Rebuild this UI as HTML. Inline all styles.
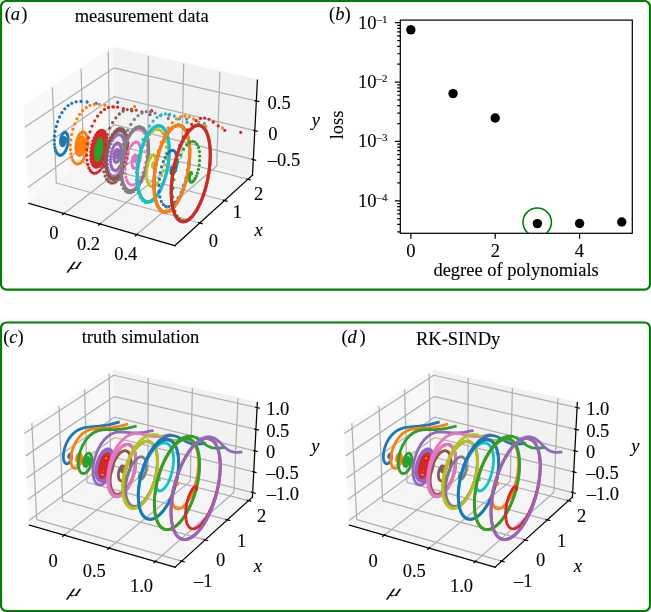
<!DOCTYPE html><html><head><meta charset="utf-8"><style>html,body{margin:0;padding:0;background:#fff;}body{width:651px;height:612px;overflow:hidden;font-family:"Liberation Serif",serif;}svg{display:block;}</style></head><body><svg width="651" height="612" viewBox="0 0 651 612"><g transform="scale(1.54)" stroke-linejoin="round" stroke-linecap="butt"><defs>  </defs> <g id="figure_1"> <g id="patch_1"> <path d="M 0 397.40  L 422.72 397.40  L 422.72 0  L 0 0  L 0 397.40  z " style="fill: none; opacity: 0"/> </g> <g id="patch_2"> <path d="M 5.96 168.92  L 174.84 168.92  L 174.84 19.51  L 5.96 19.51  L 5.96 168.92  z " style="fill: none; opacity: 0"/> </g> <g id="pane3d_1"> <g id="patch_3"> <path d="M 18.71 132.08  L 74.48 90.72  L 73.70 31.08  L 15.26 68.81  " style="fill: #f2f2f2; opacity: 0.5; stroke: #f2f2f2; stroke-linejoin: miter"/> </g> </g> <g id="pane3d_2"> <g id="patch_4"> <path d="M 74.48 90.72  L 163.97 113.73  L 167.16 52.04  L 73.70 31.08  " style="fill: #e6e6e6; opacity: 0.5; stroke: #e6e6e6; stroke-linejoin: miter"/> </g> </g> <g id="pane3d_3"> <g id="patch_5"> <path d="M 18.71 132.08  L 113.57 159.49  L 163.97 113.73  L 74.48 90.72  " style="fill: #ececec; opacity: 0.5; stroke: #ececec; stroke-linejoin: miter"/> </g> </g> <g id="grid3d_1"> <g id="Line3DCollection_1"> <path d="M 41.60 138.69  L 96.14 96.29  L 96.29 36.15  " style="fill: none; stroke: #b0b0b0; stroke-width: 0.8"/> <path d="M 64.89 145.42  L 118.14 101.95  L 119.26 41.30  " style="fill: none; stroke: #b0b0b0; stroke-width: 0.8"/> <path d="M 88.80 152.33  L 140.68 107.75  L 142.80 46.58  " style="fill: none; stroke: #b0b0b0; stroke-width: 0.8"/> </g> </g> <g id="grid3d_2"> <g id="Line3DCollection_2"> <path d="M 34.01 56.71  L 36.55 118.85  L 129.74 144.81  " style="fill: none; stroke: #b0b0b0; stroke-width: 0.8"/> <path d="M 52.65 44.67  L 54.34 105.66  L 145.82 130.21  " style="fill: none; stroke: #b0b0b0; stroke-width: 0.8"/> <path d="M 70.28 33.29  L 71.20 93.15  L 161.02 116.41  " style="fill: none; stroke: #b0b0b0; stroke-width: 0.8"/> </g> </g> <g id="grid3d_3"> <g id="Line3DCollection_3"> <path d="M 164.49 103.65  L 74.35 80.96  L 18.15 121.75  " style="fill: none; stroke: #b0b0b0; stroke-width: 0.8"/> <path d="M 165.47 84.85  L 74.12 62.77  L 17.10 102.49  " style="fill: none; stroke: #b0b0b0; stroke-width: 0.8"/> <path d="M 166.47 65.55  L 73.87 44.12  L 16.02 82.68  " style="fill: none; stroke: #b0b0b0; stroke-width: 0.8"/> </g> </g> <g id="axis3d_1"> <g id="line2d_1"> <path d="M 18.71 132.08  L 113.57 159.49  " style="fill: none; stroke: #000000; stroke-width: 0.8; stroke-linecap: square"/> </g> <g id="xtick_1"> <g id="line2d_2"> <path d="M 42.07 138.32  L 40.64 139.43  " style="fill: none; stroke: #000000; stroke-width: 0.8; stroke-linecap: square"/> </g> </g> <g id="xtick_2"> <g id="line2d_3"> <path d="M 65.35 145.04  L 63.96 146.18  " style="fill: none; stroke: #000000; stroke-width: 0.8; stroke-linecap: square"/> </g> </g> <g id="xtick_3"> <g id="line2d_4"> <path d="M 89.26 151.94  L 87.90 153.11  " style="fill: none; stroke: #000000; stroke-width: 0.8; stroke-linecap: square"/> </g> </g> </g> <g id="axis3d_2"> <g id="line2d_5"> <path d="M 163.97 113.73  L 113.57 159.49  " style="fill: none; stroke: #000000; stroke-width: 0.8; stroke-linecap: square"/> </g> <g id="xtick_4"> <g id="line2d_6"> <path d="M 128.96 144.59  L 131.32 145.25  " style="fill: none; stroke: #000000; stroke-width: 0.8; stroke-linecap: square"/> </g> </g> <g id="xtick_5"> <g id="line2d_7"> <path d="M 145.05 130.00  L 147.36 130.62  " style="fill: none; stroke: #000000; stroke-width: 0.8; stroke-linecap: square"/> </g> </g> <g id="xtick_6"> <g id="line2d_8"> <path d="M 160.27 116.22  L 162.53 116.80  " style="fill: none; stroke: #000000; stroke-width: 0.8; stroke-linecap: square"/> </g> </g> </g> <g id="axis3d_3"> <g id="line2d_9"> <path d="M 163.97 113.73  L 167.16 52.04  " style="fill: none; stroke: #000000; stroke-width: 0.8; stroke-linecap: square"/> </g> <g id="xtick_7"> <g id="line2d_10"> <path d="M 163.74 103.46  L 166.01 104.03  " style="fill: none; stroke: #000000; stroke-width: 0.8; stroke-linecap: square"/> </g> </g> <g id="xtick_8"> <g id="line2d_11"> <path d="M 164.70 84.67  L 167.00 85.23  " style="fill: none; stroke: #000000; stroke-width: 0.8; stroke-linecap: square"/> </g> </g> <g id="xtick_9"> <g id="line2d_12"> <path d="M 165.69 65.37  L 168.02 65.91  " style="fill: none; stroke: #000000; stroke-width: 0.8; stroke-linecap: square"/> </g> </g> </g> <g id="axes_1"/> <g id="patch_6"> <path d="M 6.32 377.71  L 174.76 377.71  L 174.76 229.00  L 6.32 229.00  L 6.32 377.71  z " style="fill: none; opacity: 0"/> </g> <g id="pane3d_4"> <g id="patch_7"> <path d="M 19.04 341.04  L 74.66 299.88  L 73.89 240.51  L 15.60 278.06  " style="fill: #f2f2f2; opacity: 0.5; stroke: #f2f2f2; stroke-linejoin: miter"/> </g> </g> <g id="pane3d_5"> <g id="patch_8"> <path d="M 74.66 299.88  L 163.92 322.78  L 167.11 261.37  L 73.89 240.51  " style="fill: #e6e6e6; opacity: 0.5; stroke: #e6e6e6; stroke-linejoin: miter"/> </g> </g> <g id="pane3d_6"> <g id="patch_9"> <path d="M 19.04 341.04  L 113.66 368.32  L 163.92 322.78  L 74.66 299.88  " style="fill: #ececec; opacity: 0.5; stroke: #ececec; stroke-linejoin: miter"/> </g> </g> <g id="grid3d_4"> <g id="Line3DCollection_4"> <path d="M 41.70 347.57  L 96.11 305.38  L 96.25 245.52  " style="fill: none; stroke: #b0b0b0; stroke-width: 0.8"/> <path d="M 70.79 355.96  L 123.58 312.43  L 124.93 251.93  " style="fill: none; stroke: #b0b0b0; stroke-width: 0.8"/> <path d="M 100.85 364.63  L 151.89 319.69  L 154.52 258.56  " style="fill: none; stroke: #b0b0b0; stroke-width: 0.8"/> </g> </g> <g id="grid3d_5"> <g id="Line3DCollection_5"> <path d="M 20.68 274.79  L 23.86 337.47  L 118.04 364.35  " style="fill: none; stroke: #b0b0b0; stroke-width: 0.8"/> <path d="M 38.27 263.46  L 40.62 325.06  L 133.22 350.60  " style="fill: none; stroke: #b0b0b0; stroke-width: 0.8"/> <path d="M 54.98 252.69  L 56.57 313.26  L 147.62 337.55  " style="fill: none; stroke: #b0b0b0; stroke-width: 0.8"/> <path d="M 70.87 242.46  L 71.77 302.02  L 161.32 325.14  " style="fill: none; stroke: #b0b0b0; stroke-width: 0.8"/> </g> </g> <g id="grid3d_6"> <g id="Line3DCollection_6"> <path d="M 164.07 319.87  L 74.63 297.06  L 18.87 338.06  " style="fill: none; stroke: #b0b0b0; stroke-width: 0.8"/> <path d="M 164.77 306.47  L 74.46 284.08  L 18.12 324.33  " style="fill: none; stroke: #b0b0b0; stroke-width: 0.8"/> <path d="M 165.48 292.80  L 74.28 270.87  L 17.36 310.32  " style="fill: none; stroke: #b0b0b0; stroke-width: 0.8"/> <path d="M 166.20 278.87  L 74.11 257.40  L 16.58 296.03  " style="fill: none; stroke: #b0b0b0; stroke-width: 0.8"/> <path d="M 166.94 264.65  L 73.93 243.68  L 15.78 281.43  " style="fill: none; stroke: #b0b0b0; stroke-width: 0.8"/> </g> </g> <g id="axis3d_4"> <g id="line2d_13"> <path d="M 19.04 341.04  L 113.66 368.32  " style="fill: none; stroke: #000000; stroke-width: 0.8; stroke-linecap: square"/> </g> <g id="xtick_10"> <g id="line2d_14"> <path d="M 42.17 347.21  L 40.75 348.31  " style="fill: none; stroke: #000000; stroke-width: 0.8; stroke-linecap: square"/> </g> </g> <g id="xtick_11"> <g id="line2d_15"> <path d="M 71.25 355.58  L 69.86 356.72  " style="fill: none; stroke: #000000; stroke-width: 0.8; stroke-linecap: square"/> </g> </g> <g id="xtick_12"> <g id="line2d_16"> <path d="M 101.30 364.24  L 99.96 365.42  " style="fill: none; stroke: #000000; stroke-width: 0.8; stroke-linecap: square"/> </g> </g> </g> <g id="axis3d_5"> <g id="line2d_17"> <path d="M 163.92 322.78  L 113.66 368.32  " style="fill: none; stroke: #000000; stroke-width: 0.8; stroke-linecap: square"/> </g> <g id="xtick_13"> <g id="line2d_18"> <path d="M 117.24 364.12  L 119.63 364.81  " style="fill: none; stroke: #000000; stroke-width: 0.8; stroke-linecap: square"/> </g> </g> <g id="xtick_14"> <g id="line2d_19"> <path d="M 132.44 350.38  L 134.78 351.03  " style="fill: none; stroke: #000000; stroke-width: 0.8; stroke-linecap: square"/> </g> </g> <g id="xtick_15"> <g id="line2d_20"> <path d="M 146.86 337.34  L 149.16 337.95  " style="fill: none; stroke: #000000; stroke-width: 0.8; stroke-linecap: square"/> </g> </g> <g id="xtick_16"> <g id="line2d_21"> <path d="M 160.57 324.95  L 162.82 325.53  " style="fill: none; stroke: #000000; stroke-width: 0.8; stroke-linecap: square"/> </g> </g> </g> <g id="axis3d_6"> <g id="line2d_22"> <path d="M 163.92 322.78  L 167.11 261.37  " style="fill: none; stroke: #000000; stroke-width: 0.8; stroke-linecap: square"/> </g> <g id="xtick_17"> <g id="line2d_23"> <path d="M 163.32 319.68  L 165.58 320.25  " style="fill: none; stroke: #000000; stroke-width: 0.8; stroke-linecap: square"/> </g> </g> <g id="xtick_18"> <g id="line2d_24"> <path d="M 164.01 306.28  L 166.29 306.84  " style="fill: none; stroke: #000000; stroke-width: 0.8; stroke-linecap: square"/> </g> </g> <g id="xtick_19"> <g id="line2d_25"> <path d="M 164.71 292.62  L 167.01 293.17  " style="fill: none; stroke: #000000; stroke-width: 0.8; stroke-linecap: square"/> </g> </g> <g id="xtick_20"> <g id="line2d_26"> <path d="M 165.43 278.69  L 167.75 279.23  " style="fill: none; stroke: #000000; stroke-width: 0.8; stroke-linecap: square"/> </g> </g> <g id="xtick_21"> <g id="line2d_27"> <path d="M 166.16 264.48  L 168.50 265.01  " style="fill: none; stroke: #000000; stroke-width: 0.8; stroke-linecap: square"/> </g> </g> </g> <g id="axes_2"/> <g id="patch_10"> <path d="M 214.11 377.71  L 382.55 377.71  L 382.55 229.00  L 214.11 229.00  L 214.11 377.71  z " style="fill: none; opacity: 0"/> </g> <g id="pane3d_7"> <g id="patch_11"> <path d="M 226.83 341.04  L 282.45 299.88  L 281.68 240.51  L 223.39 278.06  " style="fill: #f2f2f2; opacity: 0.5; stroke: #f2f2f2; stroke-linejoin: miter"/> </g> </g> <g id="pane3d_8"> <g id="patch_12"> <path d="M 282.45 299.88  L 371.71 322.78  L 374.90 261.37  L 281.68 240.51  " style="fill: #e6e6e6; opacity: 0.5; stroke: #e6e6e6; stroke-linejoin: miter"/> </g> </g> <g id="pane3d_9"> <g id="patch_13"> <path d="M 226.83 341.04  L 321.45 368.32  L 371.71 322.78  L 282.45 299.88  " style="fill: #ececec; opacity: 0.5; stroke: #ececec; stroke-linejoin: miter"/> </g> </g> <g id="grid3d_7"> <g id="Line3DCollection_7"> <path d="M 249.49 347.57  L 303.90 305.38  L 304.04 245.52  " style="fill: none; stroke: #b0b0b0; stroke-width: 0.8"/> <path d="M 278.58 355.96  L 331.37 312.43  L 332.72 251.93  " style="fill: none; stroke: #b0b0b0; stroke-width: 0.8"/> <path d="M 308.64 364.63  L 359.68 319.69  L 362.31 258.56  " style="fill: none; stroke: #b0b0b0; stroke-width: 0.8"/> </g> </g> <g id="grid3d_8"> <g id="Line3DCollection_8"> <path d="M 228.47 274.79  L 231.66 337.47  L 325.83 364.35  " style="fill: none; stroke: #b0b0b0; stroke-width: 0.8"/> <path d="M 246.07 263.46  L 248.42 325.06  L 341.01 350.60  " style="fill: none; stroke: #b0b0b0; stroke-width: 0.8"/> <path d="M 262.77 252.69  L 264.36 313.26  L 355.42 337.55  " style="fill: none; stroke: #b0b0b0; stroke-width: 0.8"/> <path d="M 278.66 242.46  L 279.56 302.02  L 369.11 325.14  " style="fill: none; stroke: #b0b0b0; stroke-width: 0.8"/> </g> </g> <g id="grid3d_9"> <g id="Line3DCollection_9"> <path d="M 371.87 319.87  L 282.42 297.06  L 226.67 338.06  " style="fill: none; stroke: #b0b0b0; stroke-width: 0.8"/> <path d="M 372.56 306.47  L 282.25 284.08  L 225.92 324.33  " style="fill: none; stroke: #b0b0b0; stroke-width: 0.8"/> <path d="M 373.27 292.80  L 282.08 270.87  L 225.15 310.32  " style="fill: none; stroke: #b0b0b0; stroke-width: 0.8"/> <path d="M 373.99 278.87  L 281.90 257.40  L 224.37 296.03  " style="fill: none; stroke: #b0b0b0; stroke-width: 0.8"/> <path d="M 374.73 264.65  L 281.72 243.68  L 223.58 281.43  " style="fill: none; stroke: #b0b0b0; stroke-width: 0.8"/> </g> </g> <g id="axis3d_7"> <g id="line2d_28"> <path d="M 226.83 341.04  L 321.45 368.32  " style="fill: none; stroke: #000000; stroke-width: 0.8; stroke-linecap: square"/> </g> <g id="xtick_22"> <g id="line2d_29"> <path d="M 249.96 347.21  L 248.54 348.31  " style="fill: none; stroke: #000000; stroke-width: 0.8; stroke-linecap: square"/> </g> </g> <g id="xtick_23"> <g id="line2d_30"> <path d="M 279.04 355.58  L 277.66 356.72  " style="fill: none; stroke: #000000; stroke-width: 0.8; stroke-linecap: square"/> </g> </g> <g id="xtick_24"> <g id="line2d_31"> <path d="M 309.09 364.24  L 307.75 365.42  " style="fill: none; stroke: #000000; stroke-width: 0.8; stroke-linecap: square"/> </g> </g> </g> <g id="axis3d_8"> <g id="line2d_32"> <path d="M 371.71 322.78  L 321.45 368.32  " style="fill: none; stroke: #000000; stroke-width: 0.8; stroke-linecap: square"/> </g> <g id="xtick_25"> <g id="line2d_33"> <path d="M 325.04 364.12  L 327.42 364.81  " style="fill: none; stroke: #000000; stroke-width: 0.8; stroke-linecap: square"/> </g> </g> <g id="xtick_26"> <g id="line2d_34"> <path d="M 340.23 350.38  L 342.57 351.03  " style="fill: none; stroke: #000000; stroke-width: 0.8; stroke-linecap: square"/> </g> </g> <g id="xtick_27"> <g id="line2d_35"> <path d="M 354.65 337.34  L 356.95 337.95  " style="fill: none; stroke: #000000; stroke-width: 0.8; stroke-linecap: square"/> </g> </g> <g id="xtick_28"> <g id="line2d_36"> <path d="M 368.36 324.95  L 370.62 325.53  " style="fill: none; stroke: #000000; stroke-width: 0.8; stroke-linecap: square"/> </g> </g> </g> <g id="axis3d_9"> <g id="line2d_37"> <path d="M 371.71 322.78  L 374.90 261.37  " style="fill: none; stroke: #000000; stroke-width: 0.8; stroke-linecap: square"/> </g> <g id="xtick_29"> <g id="line2d_38"> <path d="M 371.11 319.68  L 373.37 320.25  " style="fill: none; stroke: #000000; stroke-width: 0.8; stroke-linecap: square"/> </g> </g> <g id="xtick_30"> <g id="line2d_39"> <path d="M 371.80 306.28  L 374.08 306.84  " style="fill: none; stroke: #000000; stroke-width: 0.8; stroke-linecap: square"/> </g> </g> <g id="xtick_31"> <g id="line2d_40"> <path d="M 372.50 292.62  L 374.80 293.17  " style="fill: none; stroke: #000000; stroke-width: 0.8; stroke-linecap: square"/> </g> </g> <g id="xtick_32"> <g id="line2d_41"> <path d="M 373.22 278.69  L 375.54 279.23  " style="fill: none; stroke: #000000; stroke-width: 0.8; stroke-linecap: square"/> </g> </g> <g id="xtick_33"> <g id="line2d_42"> <path d="M 373.95 264.48  L 376.30 265.01  " style="fill: none; stroke: #000000; stroke-width: 0.8; stroke-linecap: square"/> </g> </g> </g> <g id="axes_3"/> </g> </g><g fill="none" stroke-width="3.3" stroke-linecap="round"><path d="M117.7 102.4h0M96.1 103.3h0M87.1 102.0h0M81.0 101.4h0M76.1 101.8h0M71.8 103.3h0M68.1 105.6h0M64.8 108.8h0M62.0 112.6h0M59.6 117.0h0M57.7 121.7h0M56.2 126.5h0M55.1 131.3h0M54.5 136.0h0M54.3 140.3h0M54.4 144.3h0M54.9 147.7h0M55.7 150.5h0M56.7 152.6h0M57.9 154.1h0M59.2 155.0h0M60.6 155.2h0M61.9 154.8h0M63.2 153.9h0M64.4 152.6h0M65.5 150.9h0M66.4 148.9h0M67.2 146.8h0M67.7 144.5h0M68.0 142.3h0M68.2 140.1h0M68.1 138.1h0M67.9 136.4h0M67.5 134.9h0M66.9 133.8h0M66.3 132.9h0M65.6 132.5h0M64.9 132.4h0M64.1 132.6h0M63.4 133.1h0M62.7 133.9h0M62.1 134.9h0M61.6 136.1h0M61.1 137.4h0M60.9 138.7h0M60.7 140.0h0M60.6 141.2h0M60.7 142.4h0M60.9 143.4h0M61.1 144.2h0M61.5 144.9h0M61.8 145.3h0M62.3 145.5h0M62.7 145.5h0M63.2 145.4h0M63.6 145.0h0M64.0 144.5h0M64.4 143.8h0M64.7 143.1h0M64.9 142.3h0M65.1 141.5h0M65.1 140.8h0M65.2 140.0h0M65.1 139.3h0M65.0 138.7h0M64.8 138.2h0M64.6 137.9h0M64.4 137.7h0M64.1 137.6h0M63.8 137.6h0M63.5 137.7h0M63.3 138.0h0M63.0 138.3h0M62.8 138.7h0M62.6 139.2h0M62.5 139.7h0M62.4 140.2h0M62.4 140.7h0M62.4 141.1h0M62.4 141.5h0M62.5 141.9h0M62.6 142.1h0M62.8 142.3h0M62.9 142.5h0M63.1 142.5h0M63.3 142.5h0M63.4 142.4h0M63.6 142.2h0M63.7 142.0h0M63.9 141.7h0M64.0 141.4h0M64.0 141.1h0M64.1 140.8h0M64.1 140.5h0M64.1 140.2h0M64.1 140.0h0M64.0 139.8h0M63.9 139.6h0M63.8 139.5h0M63.7 139.4h0M63.6 139.4h0M63.5 139.5h0M63.4 139.5h0M63.3 139.7h0M63.2 139.8h0M63.2 140.0h0M63.1 140.2h0M63.1 140.4h0M63.0 140.5h0M63.0 140.7h0M63.0 140.9h0M63.1 141.0h0M63.1 141.2h0M63.2 141.3h0M63.2 141.3h0M63.3 141.3h0M63.3 141.3h0M63.4 141.3h0M63.5 141.3h0M63.5 141.2h0M63.6 141.1h0M63.6 141.0h0M63.7 140.8h0M63.7 140.7h0M63.7 140.6h0M63.7 140.5h0M63.7 140.4h0M63.7 140.3h0M63.6 140.2h0M63.6 140.2h0M63.6 140.2h0M63.5 140.1h0M63.5 140.2h0M63.5 140.2h0M63.4 140.2h0M63.4 140.3h0M63.3 140.3h0M63.3 140.4h0M63.3 140.5h0M63.3 140.6h0M63.3 140.6h0M63.3 140.7h0M63.3 140.8h0M63.3 140.8h0M63.3 140.8h0M63.3 140.9h0M63.4 140.9h0M63.4 140.9h0M63.4 140.9h0M63.4 140.9h0M63.5 140.8h0M63.5 140.8h0M63.5 140.8h0M63.5 140.7h0M63.5 140.7h0M63.5 140.6h0M63.5 140.6h0M63.5 140.5h0M63.5 140.5h0M63.5 140.5h0M63.5 140.5h0M63.5 140.4h0M63.5 140.4h0M63.5 140.4h0M63.5 140.4h0M63.4 140.4h0M63.4 140.5h0M63.4 140.5h0M63.4 140.5h0M63.4 140.5h0M63.4 140.6h0M63.4 140.6h0M63.4 140.6h0M63.4 140.7h0M63.4 140.7h0M63.4 140.7h0M63.4 140.7h0M63.4 140.7h0M63.4 140.7h0M63.4 140.7h0M63.4 140.7h0M63.5 140.7h0M63.5 140.7h0M63.5 140.7h0M63.5 140.7h0M63.5 140.6h0M63.5 140.6h0M63.5 140.6h0M63.5 140.6h0M63.5 140.6h0M63.5 140.6h0M63.5 140.6h0M63.5 140.5h0M63.5 140.5h0M63.5 140.5h0M63.5 140.5h0M63.4 140.5h0M63.4 140.5h0M63.4 140.6h0M63.4 140.6h0M63.4 140.6h0M63.4 140.6h0M63.4 140.6h0M63.4 140.6h0M63.4 140.6h0M63.4 140.6h0M63.4 140.6h0M63.4 140.6h0M63.4 140.6h0M63.4 140.7h0M63.4 140.7h0M63.4 140.6h0M63.4 140.6h0M63.4 140.6h0M63.5 140.6h0M63.5 140.6h0M63.5 140.6h0M63.5 140.6h0M63.5 140.6h0M63.5 140.6h0M63.5 140.6h0M63.5 140.6h0M63.5 140.6h0M63.5 140.6h0M63.5 140.6h0M63.5 140.6h0M63.4 140.6h0M63.4 140.6h0M63.4 140.6h0M63.4 140.6h0M63.4 140.6h0M63.4 140.6h0M63.4 140.6h0M63.4 140.6h0M63.4 140.6h0M63.4 140.6h0M63.4 140.6h0M63.4 140.6h0M63.4 140.6h0M63.4 140.6h0M63.4 140.6h0M63.4 140.6h0M63.4 140.6h0M63.4 140.6h0M63.4 140.6h0M63.4 140.6h0M63.4 140.6h0M63.4 140.6h0M63.4 140.6h0M63.5 140.6h0M63.5 140.6h0M63.5 140.6h0M63.5 140.6h0M63.4 140.6h0M63.4 140.6h0M63.4 140.6h0M63.4 140.6h0M63.4 140.6h0M63.4 140.6h0M63.4 140.6h0M63.4 140.6h0M63.4 140.6h0M63.4 140.6h0M63.4 140.6h0M63.4 140.6h0M63.4 140.6h0M63.4 140.6h0M63.4 140.6h0M63.4 140.6h0M63.4 140.6h0M63.4 140.6h0M63.4 140.6h0M63.4 140.6h0M63.4 140.6h0M63.4 140.6h0M63.4 140.6h0M63.4 140.6h0M63.4 140.6h0M63.4 140.6h0M63.4 140.6h0M63.4 140.6h0M63.4 140.6h0M63.4 140.6h0M63.4 140.6h0M63.4 140.6h0M63.4 140.6h0M63.4 140.6h0M63.4 140.6h0M63.4 140.6h0M63.4 140.6h0M63.4 140.6h0M63.4 140.6h0M63.4 140.6h0M63.4 140.6h0M63.4 140.6h0M63.4 140.6h0M63.4 140.6h0M63.4 140.6h0M63.4 140.6h0M63.4 140.6h0M63.4 140.6h0M63.4 140.6h0M63.4 140.6h0M63.4 140.6h0M63.4 140.6h0M63.4 140.6h0M63.4 140.6h0M63.4 140.6h0M63.4 140.6h0M63.4 140.6h0M63.4 140.6h0M63.4 140.6h0M63.4 140.6h0M63.4 140.6h0M63.4 140.6h0M63.4 140.6h0M63.4 140.6h0M63.4 140.6h0M63.4 140.6h0M63.4 140.6h0M63.4 140.6h0M63.4 140.6h0M63.4 140.6h0M63.4 140.6h0M63.4 140.6h0M63.4 140.6h0M63.4 140.6h0M63.4 140.6h0M63.4 140.6h0M63.4 140.6h0M63.4 140.6h0M63.4 140.6h0M63.4 140.6h0M63.4 140.6h0M63.4 140.6h0M63.4 140.6h0M63.4 140.6h0M63.4 140.6h0M63.4 140.6h0M63.4 140.6h0M63.4 140.6h0M63.4 140.6h0M63.4 140.6h0M63.4 140.6h0M63.4 140.6h0M63.4 140.6h0M63.4 140.6h0M63.4 140.6h0M63.4 140.6h0M63.4 140.6h0M63.4 140.6h0M63.4 140.6h0M63.4 140.6h0M63.4 140.6h0M63.4 140.6h0M63.4 140.6h0M63.4 140.6h0M63.4 140.6h0M63.4 140.6h0M63.4 140.6h0M63.4 140.6h0M63.4 140.6h0M63.4 140.6h0M63.4 140.6h0M63.4 140.6h0M63.4 140.6h0M63.4 140.6h0M63.4 140.6h0M63.4 140.6h0M63.4 140.6h0M63.4 140.6h0M63.4 140.6h0M63.4 140.6h0M63.4 140.6h0M63.4 140.6h0M63.4 140.6h0" stroke="#1f77b4"/><path d="M134.6 106.5h0M113.9 107.0h0M105.1 105.3h0M99.2 104.3h0M94.3 104.3h0M90.0 105.4h0M86.2 107.5h0M82.7 110.6h0M79.7 114.4h0M77.0 118.9h0M74.8 123.9h0M73.0 129.2h0M71.6 134.6h0M70.8 139.9h0M70.4 145.0h0M70.4 149.6h0M70.9 153.8h0M71.7 157.3h0M72.7 160.1h0M74.1 162.2h0M75.6 163.5h0M77.2 164.0h0M78.9 163.7h0M80.6 162.8h0M82.2 161.2h0M83.6 159.1h0M84.9 156.6h0M86.0 153.7h0M86.8 150.7h0M87.4 147.6h0M87.7 144.5h0M87.7 141.6h0M87.5 138.9h0M87.0 136.6h0M86.3 134.7h0M85.4 133.3h0M84.4 132.4h0M83.3 132.0h0M82.1 132.2h0M81.0 132.8h0M79.8 134.0h0M78.8 135.5h0M77.8 137.4h0M77.1 139.5h0M76.5 141.8h0M76.1 144.1h0M75.9 146.4h0M75.9 148.6h0M76.2 150.6h0M76.6 152.2h0M77.1 153.6h0M77.8 154.6h0M78.6 155.1h0M79.5 155.3h0M80.4 155.1h0M81.3 154.5h0M82.1 153.5h0M82.9 152.3h0M83.6 150.8h0M84.2 149.1h0M84.6 147.3h0M84.9 145.5h0M85.0 143.8h0M84.9 142.1h0M84.7 140.6h0M84.4 139.3h0M83.9 138.3h0M83.3 137.6h0M82.7 137.2h0M82.0 137.1h0M81.3 137.4h0M80.6 137.9h0M79.9 138.7h0M79.3 139.8h0M78.7 141.1h0M78.3 142.4h0M78.0 143.9h0M77.8 145.4h0M77.7 146.8h0M77.8 148.1h0M78.0 149.3h0M78.3 150.3h0M78.7 151.1h0M79.2 151.6h0M79.8 151.8h0M80.3 151.8h0M80.9 151.5h0M81.5 151.0h0M82.1 150.2h0M82.5 149.3h0M83.0 148.3h0M83.3 147.1h0M83.5 145.9h0M83.6 144.7h0M83.7 143.6h0M83.6 142.5h0M83.4 141.6h0M83.1 140.8h0M82.7 140.2h0M82.3 139.9h0M81.9 139.7h0M81.4 139.8h0M80.9 140.1h0M80.4 140.5h0M80.0 141.2h0M79.6 142.0h0M79.3 142.9h0M79.0 143.9h0M78.8 144.9h0M78.8 145.9h0M78.8 146.9h0M78.9 147.7h0M79.0 148.5h0M79.3 149.1h0M79.6 149.5h0M80.0 149.7h0M80.4 149.8h0M80.8 149.7h0M81.2 149.4h0M81.6 149.0h0M81.9 148.4h0M82.3 147.7h0M82.5 146.9h0M82.7 146.1h0M82.8 145.2h0M82.9 144.4h0M82.8 143.6h0M82.7 142.9h0M82.6 142.3h0M82.3 141.8h0M82.1 141.5h0M81.7 141.4h0M81.4 141.3h0M81.1 141.5h0M80.7 141.8h0M80.4 142.2h0M80.1 142.7h0M79.8 143.3h0M79.6 144.0h0M79.5 144.7h0M79.4 145.4h0M79.4 146.1h0M79.4 146.7h0M79.5 147.3h0M79.7 147.8h0M79.9 148.1h0M80.2 148.4h0M80.4 148.5h0M80.7 148.5h0M81.0 148.3h0M81.3 148.0h0M81.6 147.7h0M81.8 147.2h0M82.0 146.7h0M82.2 146.1h0M82.3 145.5h0M82.3 144.9h0M82.3 144.3h0M82.3 143.8h0M82.2 143.3h0M82.0 142.9h0M81.8 142.6h0M81.6 142.5h0M81.4 142.4h0M81.1 142.5h0M80.9 142.6h0M80.7 142.9h0M80.4 143.2h0M80.2 143.7h0M80.1 144.1h0M80.0 144.6h0M79.9 145.1h0M79.8 145.6h0M79.9 146.1h0M79.9 146.6h0M80.0 146.9h0M80.1 147.2h0M80.3 147.4h0M80.5 147.6h0M80.7 147.6h0M80.9 147.5h0M81.1 147.3h0M81.3 147.1h0M81.5 146.8h0M81.7 146.4h0M81.8 146.0h0M81.9 145.6h0M81.9 145.1h0M82.0 144.7h0M81.9 144.3h0M81.9 144.0h0M81.8 143.7h0M81.7 143.4h0M81.5 143.3h0M81.4 143.2h0M81.2 143.2h0M81.0 143.3h0M80.8 143.4h0M80.7 143.7h0M80.5 144.0h0M80.4 144.3h0M80.3 144.6h0M80.2 145.0h0M80.2 145.4h0M80.2 145.7h0M80.2 146.1h0M80.2 146.4h0M80.3 146.6h0M80.4 146.8h0M80.6 146.9h0M80.7 146.9h0M80.9 146.9h0M81.0 146.8h0M81.2 146.7h0M81.3 146.5h0M81.4 146.2h0M81.5 145.9h0M81.6 145.6h0M81.7 145.3h0M81.7 145.0h0M81.7 144.7h0M81.7 144.4h0M81.6 144.2h0M81.5 144.0h0M81.4 143.8h0M81.3 143.8h0M81.2 143.7h0M81.1 143.8h0M80.9 143.9h0M80.8 144.0h0M80.7 144.2h0M80.6 144.4h0M80.5 144.7h0M80.4 144.9h0M80.4 145.2h0M80.4 145.5h0M80.4 145.7h0M80.4 146.0h0M80.5 146.1h0M80.6 146.3h0M80.6 146.4h0M80.8 146.5h0M80.9 146.5h0M81.0 146.4h0M81.1 146.3h0M81.2 146.2h0M81.3 146.0h0M81.4 145.8h0M81.4 145.6h0M81.5 145.4h0M81.5 145.1h0M81.5 144.9h0M81.5 144.7h0M81.5 144.5h0M81.4 144.4h0M81.3 144.3h0M81.3 144.2h0M81.2 144.1h0M81.1 144.2h0M81.0 144.2h0M80.9 144.3h0M80.8 144.4h0M80.7 144.6h0M80.7 144.7h0M80.6 144.9h0M80.6 145.1h0M80.6 145.3h0M80.6 145.5h0M80.6 145.7h0M80.6 145.8h0M80.7 146.0h0M80.7 146.0h0M80.8 146.1h0M80.9 146.1h0M80.9 146.1h0M81.0 146.0h0M81.1 146.0h0M81.2 145.8h0M81.2 145.7h0M81.3 145.6h0M81.3 145.4h0M81.4 145.2h0M81.4 145.1h0M81.4 144.9h0M81.3 144.8h0M81.3 144.6h0M81.3 144.5h0M81.2 144.5h0M81.1 144.4h0M81.1 144.4h0M81.0 144.5h0M80.9 144.5h0M80.9 144.6h0M80.8 144.7h0M80.8 144.8h0M80.7 145.0h0M80.7 145.1h0M80.7 145.2h0M80.7 145.4h0M80.7 145.5h0M80.7 145.6h0M80.7 145.7h0M80.8 145.8h0M80.8 145.8h0M80.9 145.9h0M80.9 145.9h0M81.0 145.8h0M81.0 145.8h0M81.1 145.7h0M81.2 145.6h0M81.2 145.5h0M81.2 145.4h0M81.2 145.3h0M81.3 145.1h0M81.3 145.0h0M81.3 144.9h0M81.2 144.8h0M81.2 144.7h0M81.2 144.7h0M81.1 144.7h0M81.1 144.6h0M81.0 144.6h0M81.0 144.7h0M80.9 144.7h0M80.9 144.8h0M80.8 144.9h0M80.8 145.0h0M80.8 145.1h0M80.8 145.2h0M80.8 145.3h0M80.8 145.4h0M80.8 145.5h0M80.8 145.6h0M80.8 145.6h0M80.8 145.7h0M80.9 145.7h0M80.9 145.7h0M81.0 145.7h0M81.0 145.6h0M81.1 145.6h0M81.1 145.5h0M81.1 145.5h0M81.2 145.4h0M81.2 145.3h0M81.2 145.2h0M81.2 145.1h0M81.2 145.0h0M81.2 145.0h0M81.2 144.9h0M81.1 144.8h0M81.1 144.8h0M81.1 144.8h0M81.0 144.8h0M81.0 144.8h0M81.0 144.8h0M80.9 144.9h0M80.9 144.9h0M80.9 145.0h0M80.8 145.1h0M80.8 145.2h0M80.8 145.2h0M80.8 145.3h0M80.8 145.4h0M80.8 145.4h0M80.9 145.5h0M80.9 145.5h0M80.9 145.6h0M80.9 145.6h0M81.0 145.6h0M81.0 145.5h0M81.0 145.5h0M81.1 145.5h0M81.1 145.4h0M81.1 145.4h0M81.1 145.3h0M81.1 145.2h0" stroke="#ff7f0e"/><path d="M99.0 149.7h0M99.0 149.5h0M99.0 149.4h0M99.0 149.3h0M99.0 149.3h0M98.9 149.2h0M98.9 149.2h0M98.8 149.2h0M98.7 149.2h0M98.7 149.3h0M98.6 149.4h0M98.6 149.5h0M98.5 149.6h0M98.5 149.7h0M98.5 149.9h0M98.4 150.0h0M98.4 150.2h0M98.4 150.3h0M98.5 150.4h0M98.5 150.5h0M98.5 150.6h0M98.6 150.6h0M98.7 150.7h0M98.7 150.6h0M98.8 150.6h0M98.9 150.5h0M98.9 150.4h0M99.0 150.3h0M99.1 150.2h0M99.1 150.0h0M99.1 149.8h0M99.1 149.7h0M99.1 149.5h0M99.1 149.3h0M99.1 149.2h0M99.0 149.1h0M99.0 149.0h0M98.9 149.0h0M98.8 148.9h0M98.8 149.0h0M98.7 149.0h0M98.6 149.1h0M98.5 149.3h0M98.5 149.4h0M98.4 149.6h0M98.4 149.8h0M98.3 150.0h0M98.3 150.2h0M98.3 150.4h0M98.3 150.5h0M98.4 150.7h0M98.4 150.8h0M98.5 150.9h0M98.6 150.9h0M98.7 150.9h0M98.8 150.9h0M98.9 150.8h0M99.0 150.7h0M99.1 150.5h0M99.1 150.3h0M99.2 150.1h0M99.2 149.9h0M99.3 149.7h0M99.3 149.4h0M99.3 149.2h0M99.2 149.0h0M99.2 148.9h0M99.1 148.7h0M99.0 148.7h0M98.9 148.6h0M98.8 148.6h0M98.7 148.7h0M98.6 148.8h0M98.5 149.0h0M98.4 149.2h0M98.3 149.4h0M98.2 149.6h0M98.2 149.9h0M98.2 150.2h0M98.2 150.4h0M98.2 150.7h0M98.2 150.9h0M98.3 151.1h0M98.4 151.2h0M98.5 151.3h0M98.6 151.3h0M98.7 151.3h0M98.9 151.2h0M99.0 151.1h0M99.1 150.9h0M99.2 150.6h0M99.3 150.4h0M99.4 150.1h0M99.5 149.7h0M99.5 149.4h0M99.5 149.1h0M99.4 148.8h0M99.4 148.6h0M99.3 148.4h0M99.2 148.2h0M99.0 148.2h0M98.9 148.2h0M98.7 148.2h0M98.6 148.3h0M98.4 148.5h0M98.3 148.8h0M98.2 149.1h0M98.1 149.4h0M98.0 149.8h0M97.9 150.1h0M97.9 150.5h0M97.9 150.9h0M98.0 151.2h0M98.1 151.4h0M98.2 151.7h0M98.3 151.8h0M98.5 151.9h0M98.7 151.9h0M98.8 151.8h0M99.0 151.6h0M99.2 151.4h0M99.3 151.1h0M99.5 150.7h0M99.6 150.3h0M99.7 149.9h0M99.7 149.4h0M99.7 149.0h0M99.7 148.6h0M99.6 148.3h0M99.5 148.0h0M99.4 147.7h0M99.2 147.6h0M99.0 147.5h0M98.8 147.6h0M98.6 147.7h0M98.4 147.9h0M98.2 148.2h0M98.0 148.6h0M97.9 149.0h0M97.8 149.5h0M97.7 150.0h0M97.6 150.5h0M97.6 151.0h0M97.7 151.5h0M97.8 151.9h0M97.9 152.2h0M98.1 152.4h0M98.3 152.6h0M98.5 152.6h0M98.8 152.5h0M99.0 152.3h0M99.2 152.0h0M99.5 151.7h0M99.7 151.2h0M99.8 150.7h0M100.0 150.1h0M100.0 149.5h0M100.1 148.9h0M100.1 148.4h0M100.0 147.9h0M99.9 147.4h0M99.7 147.1h0M99.5 146.8h0M99.2 146.7h0M99.0 146.7h0M98.7 146.8h0M98.4 147.1h0M98.1 147.5h0M97.9 147.9h0M97.6 148.5h0M97.5 149.1h0M97.3 149.8h0M97.2 150.5h0M97.2 151.1h0M97.3 151.8h0M97.4 152.3h0M97.5 152.8h0M97.8 153.2h0M98.0 153.4h0M98.3 153.5h0M98.6 153.5h0M99.0 153.3h0M99.3 153.0h0M99.6 152.5h0M99.9 151.9h0M100.1 151.2h0M100.3 150.5h0M100.4 149.7h0M100.5 148.9h0M100.5 148.2h0M100.5 147.5h0M100.3 146.8h0M100.1 146.3h0M99.8 145.9h0M99.5 145.7h0M99.2 145.6h0M98.8 145.7h0M98.4 146.0h0M98.1 146.4h0M97.7 147.0h0M97.4 147.7h0M97.1 148.5h0M96.9 149.4h0M96.8 150.3h0M96.7 151.2h0M96.7 152.1h0M96.8 152.9h0M97.0 153.6h0M97.3 154.1h0M97.6 154.5h0M98.0 154.7h0M98.4 154.7h0M98.8 154.5h0M99.3 154.2h0M99.7 153.6h0M100.1 152.9h0M100.4 152.1h0M100.7 151.1h0M100.9 150.1h0M101.1 149.1h0M101.1 148.1h0M101.0 147.1h0M100.9 146.2h0M100.7 145.4h0M100.3 144.9h0M100.0 144.5h0M99.5 144.3h0M99.0 144.3h0M98.5 144.6h0M98.0 145.1h0M97.6 145.8h0M97.1 146.6h0M96.7 147.6h0M96.4 148.8h0M96.2 149.9h0M96.1 151.1h0M96.1 152.3h0M96.2 153.4h0M96.4 154.3h0M96.7 155.1h0M97.1 155.7h0M97.5 156.1h0M98.1 156.2h0M98.6 156.1h0M99.2 155.7h0M99.7 155.1h0M100.3 154.2h0M100.7 153.2h0M101.2 152.0h0M101.5 150.7h0M101.7 149.4h0M101.8 148.1h0M101.8 146.8h0M101.6 145.6h0M101.3 144.6h0M101.0 143.7h0M100.5 143.1h0M100.0 142.8h0M99.4 142.7h0M98.7 142.9h0M98.1 143.4h0M97.5 144.2h0M96.9 145.2h0M96.4 146.5h0M95.9 147.8h0M95.6 149.3h0M95.4 150.8h0M95.3 152.3h0M95.4 153.8h0M95.6 155.1h0M96.0 156.1h0M96.4 157.0h0M97.0 157.6h0M97.6 157.8h0M98.3 157.8h0M99.0 157.4h0M99.7 156.8h0M100.4 155.8h0M101.0 154.6h0M101.6 153.2h0M102.0 151.6h0M102.3 150.0h0M102.5 148.3h0M102.5 146.7h0M102.4 145.1h0M102.1 143.8h0M101.7 142.6h0M101.2 141.8h0M100.6 141.2h0M99.8 141.0h0M99.1 141.1h0M98.3 141.6h0M97.5 142.5h0M96.7 143.6h0M96.1 145.0h0M95.5 146.6h0M95.0 148.4h0M94.7 150.3h0M94.6 152.1h0M94.6 153.9h0M94.8 155.6h0M95.2 157.0h0M95.7 158.1h0M96.3 159.0h0M97.0 159.4h0M97.8 159.5h0M98.7 159.2h0M99.5 158.6h0M100.4 157.5h0M101.2 156.2h0M101.9 154.6h0M102.4 152.8h0M102.9 150.8h0M103.1 148.8h0M103.2 146.9h0M103.2 145.0h0M102.9 143.3h0M102.5 141.8h0M101.9 140.6h0M101.2 139.8h0M100.4 139.4h0M99.5 139.4h0M98.6 139.9h0M97.6 140.7h0M96.7 141.9h0M95.9 143.5h0M95.2 145.3h0M94.6 147.3h0M94.2 149.4h0M94.0 151.6h0M93.9 153.7h0M94.1 155.7h0M94.4 157.5h0M94.9 158.9h0M95.6 160.0h0M96.4 160.7h0M97.3 161.0h0M98.3 160.8h0M99.3 160.2h0M100.2 159.2h0M101.2 157.8h0M102.0 156.1h0M102.7 154.1h0M103.3 151.9h0M103.6 149.7h0M103.8 147.4h0M103.8 145.2h0M103.6 143.2h0M103.2 141.4h0M102.6 139.9h0M101.9 138.9h0M101.0 138.2h0M100.0 138.1h0M99.0 138.4h0M97.9 139.1h0M96.9 140.3h0M95.9 141.9h0M95.1 143.9h0M94.4 146.0h0M93.8 148.4h0M93.5 150.8h0M93.4 153.2h0M93.5 155.5h0M93.8 157.5h0M94.3 159.3h0M94.9 160.6h0M95.8 161.6h0M96.7 162.1h0M97.8 162.1h0M98.8 161.6h0M99.9 160.6h0M101.0 159.2h0M101.9 157.5h0M102.8 155.4h0M103.4 153.1h0M103.9 150.7h0" stroke="#2ca02c"/><path d="M151.7 110.7h0M131.8 110.8h0M123.4 108.7h0M117.6 107.2h0M112.8 106.8h0M108.5 107.5h0M104.5 109.4h0M100.9 112.3h0M97.6 116.1h0M94.7 120.8h0M92.1 126.1h0M90.0 131.8h0M88.4 137.8h0M87.3 143.8h0M86.7 149.7h0M86.6 155.2h0M86.9 160.1h0M87.7 164.5h0M88.9 168.0h0M90.3 170.7h0M92.1 172.4h0M94.0 173.3h0M96.0 173.1h0M98.1 172.1h0M100.1 170.3h0M101.9 167.8h0M103.6 164.7h0M105.1 161.0h0M106.3 157.1h0M107.1 153.0h0M107.7 148.8h0M107.8 144.8h0M107.6 141.0h0M107.1 137.7h0M106.2 134.9h0M105.1 132.7h0M103.8 131.2h0M102.2 130.5h0M100.6 130.5h0M98.8 131.4h0M97.2 132.9h0M95.6 135.1h0M94.1 137.8h0M92.9 141.0h0M91.9 144.5h0M91.2 148.2h0M90.8 151.9h0M90.7 155.4h0M91.0 158.7h0M91.5 161.5h0M92.3 163.9h0M93.4 165.6h0M94.7 166.8h0M96.1 167.2h0M97.6 166.9h0M99.1 166.0h0M100.6 164.5h0M102.0 162.4h0M103.3 159.8h0M104.3 156.9h0M105.2 153.7h0M105.8 150.4h0M106.1 147.1h0M106.1 143.9h0M105.8 141.0h0M105.2 138.4h0M104.4 136.3h0M103.4 134.8h0M102.2 133.8h0M100.9 133.5h0M99.4 133.8h0M98.0 134.8h0M96.6 136.4h0M95.3 138.5h0M94.1 141.1h0M93.1 144.0h0M92.4 147.1h0M91.9 150.3h0M91.7 153.5h0M91.8 156.5h0M92.1 159.2h0M92.7 161.5h0M93.6 163.3h0M94.6 164.6h0M95.8 165.3h0M97.2 165.4h0M98.5 164.9h0M99.9 163.7h0M101.2 162.1h0M102.4 159.9h0M103.5 157.4h0M104.3 154.6h0M105.0 151.6h0M105.4 148.6h0M105.5 145.6h0M105.4 142.8h0M105.0 140.2h0M104.4 138.1h0M103.5 136.4h0M102.4 135.3h0M101.2 134.7h0M99.9 134.7h0M98.6 135.4h0M97.3 136.6h0M96.0 138.4h0M94.8 140.6h0M93.8 143.2h0M93.0 146.0h0M92.4 149.0h0M92.1 152.0h0M92.1 154.9h0M92.3 157.6h0M92.8 160.0h0M93.5 162.0h0M94.4 163.4h0M95.5 164.3h0M96.7 164.7h0M98.0 164.4h0M99.3 163.6h0M100.6 162.2h0M101.8 160.4h0M102.9 158.1h0M103.8 155.6h0M104.5 152.8h0M105.0 149.9h0M105.2 146.9h0M105.2 144.2h0M104.9 141.6h0M104.4 139.3h0M103.7 137.5h0M102.8 136.2h0M101.7 135.4h0M100.4 135.2h0M99.2 135.5h0M97.8 136.5h0M96.6 138.0h0M95.4 139.9h0M94.4 142.3h0M93.5 145.0h0M92.8 147.8h0M92.4 150.7h0M92.3 153.6h0M92.4 156.4h0M92.7 158.8h0M93.3 160.9h0M94.1 162.6h0M95.1 163.7h0M96.3 164.3h0M97.5 164.3h0M98.8 163.7h0M100.0 162.6h0M101.2 161.0h0M102.3 158.9h0M103.3 156.5h0M104.1 153.9h0M104.7 151.0h0M105.0 148.2h0M105.1 145.4h0M105.0 142.8h0M104.6 140.4h0M103.9 138.4h0M103.1 136.9h0M102.1 135.9h0M100.9 135.4h0M99.7 135.5h0M98.4 136.2h0M97.1 137.5h0M95.9 139.2h0M94.8 141.4h0M93.9 143.9h0M93.2 146.7h0M92.7 149.5h0M92.4 152.4h0M92.4 155.2h0M92.6 157.7h0M93.1 160.0h0M93.8 161.8h0M94.7 163.1h0M95.8 163.9h0M97.0 164.1h0M98.2 163.8h0M99.5 162.9h0M100.7 161.6h0M101.9 159.7h0M102.9 157.5h0M103.7 154.9h0M104.4 152.2h0M104.8 149.4h0M105.0 146.6h0M105.0 143.9h0M104.7 141.4h0M104.2 139.3h0M103.4 137.6h0M102.5 136.4h0M101.4 135.7h0M100.2 135.6h0M98.9 136.0h0M97.7 137.0h0M96.4 138.5h0M95.3 140.5h0M94.3 142.9h0M93.5 145.5h0M92.9 148.3h0M92.5 151.2h0M92.4 154.0h0M92.5 156.7h0M92.9 159.0h0M93.5 161.0h0M94.4 162.5h0M95.4 163.5h0M96.5 164.0h0M97.7 163.9h0M99.0 163.3h0M100.2 162.1h0M101.4 160.5h0M102.5 158.4h0M103.4 156.0h0M104.1 153.3h0M104.7 150.6h0M105.0 147.7h0M105.0 145.0h0M104.8 142.5h0M104.4 140.2h0M103.7 138.3h0M102.9 136.9h0M101.8 136.0h0M100.7 135.6h0M99.5 135.8h0M98.2 136.6h0M96.9 137.9h0M95.8 139.7h0M94.7 141.9h0M93.8 144.4h0M93.1 147.2h0M92.7 150.0h0M92.4 152.9h0M92.5 155.6h0M92.8 158.0h0M93.3 160.2h0M94.0 161.9h0M95.0 163.1h0M96.0 163.8h0M97.2 164.0h0M98.4 163.6h0M99.7 162.6h0M100.9 161.2h0M102.0 159.3h0M103.0 157.0h0M103.8 154.4h0M104.5 151.7h0M104.8 148.9h0M105.0 146.1h0M104.9 143.5h0M104.6 141.1h0M104.0 139.1h0M103.2 137.5h0M102.3 136.3h0M101.2 135.7h0M100.0 135.7h0M98.7 136.2h0M97.5 137.3h0M96.3 138.9h0M95.1 141.0h0M94.2 143.4h0M93.4 146.0h0M92.8 148.8h0M92.5 151.7h0M92.4 154.4h0M92.6 157.0h0M93.0 159.3h0M93.7 161.2h0M94.6 162.7h0M95.6 163.6h0M96.7 164.0h0M97.9 163.8h0M99.2 163.1h0M100.4 161.8h0M101.6 160.1h0M102.6 158.0h0M103.5 155.5h0M104.2 152.9h0M104.7 150.1h0M105.0 147.3h0M105.0 144.6h0M104.7 142.1h0M104.3 139.9h0M103.6 138.1h0M102.7 136.7h0M101.6 135.9h0M100.5 135.7h0M99.2 136.0h0M98.0 136.8h0M96.7 138.2h0M95.6 140.1h0M94.6 142.3h0M93.7 144.9h0M93.1 147.6h0M92.6 150.5h0M92.4 153.3h0M92.5 156.0h0M92.8 158.4h0M93.4 160.5h0M94.2 162.1h0M95.1 163.3h0M96.2 163.9h0M97.4 163.9h0M98.7 163.4h0M99.9 162.4h0M101.1 160.8h0M102.2 158.9h0M103.1 156.6h0M103.9 154.0h0M104.5 151.2h0M104.9 148.4h0M105.0 145.7h0M104.9 143.1h0M104.5 140.8h0M103.9 138.8h0M103.1 137.3h0M102.1 136.2h0M101.0 135.7h0M99.8 135.8h0M98.5 136.4h0M97.3 137.6h0M96.1 139.3h0M95.0 141.4h0M94.0 143.8h0M93.3 146.5h0M92.8 149.3h0M92.5 152.1h0M92.5 154.9h0M92.7 157.4h0M93.2 159.7h0M93.8 161.5h0M94.7 162.8h0M95.8 163.7h0M96.9 164.0h0M98.1 163.7h0M99.4 162.9h0M100.6 161.5h0M101.7 159.7h0M102.8 157.6h0M103.6 155.1h0M104.3 152.4h0M104.8 149.6h0M105.0 146.8h0M104.9 144.2h0M104.7 141.7h0M104.2 139.6h0M103.4 137.8h0M102.5 136.6h0M101.5 135.9h0M100.3 135.7h0M99.0 136.1h0M97.8 137.0h0M96.5 138.5h0M95.4 140.4h0M94.4 142.7h0M93.6 145.3h0M93.0 148.1h0M92.6 151.0h0M92.4 153.8h0M92.6 156.4h0M92.9 158.8h0M93.5 160.8h0M94.3 162.3h0M95.3 163.4h0M96.4 163.9h0M97.6 163.9h0M98.9 163.3h0M100.1 162.1h0M101.3 160.5h0M102.4 158.5h0M103.3 156.1h0M104.0 153.5h0M104.6 150.8h0" stroke="#d62728"/><path d="M117.0 154.4h0M117.0 154.3h0M117.0 154.1h0M117.0 154.0h0M117.0 153.9h0M116.9 153.9h0M116.9 153.8h0M116.8 153.8h0M116.7 153.8h0M116.7 153.9h0M116.6 154.0h0M116.5 154.1h0M116.5 154.2h0M116.4 154.4h0M116.4 154.6h0M116.3 154.8h0M116.3 155.0h0M116.3 155.2h0M116.3 155.4h0M116.4 155.5h0M116.4 155.7h0M116.5 155.8h0M116.6 155.8h0M116.7 155.8h0M116.8 155.8h0M116.9 155.7h0M117.1 155.5h0M117.2 155.3h0M117.3 155.1h0M117.4 154.8h0M117.4 154.5h0M117.5 154.2h0M117.5 153.9h0M117.5 153.6h0M117.4 153.3h0M117.3 153.0h0M117.2 152.8h0M117.1 152.7h0M117.0 152.6h0M116.8 152.6h0M116.6 152.7h0M116.4 152.9h0M116.2 153.2h0M116.1 153.5h0M115.9 153.9h0M115.8 154.4h0M115.7 154.9h0M115.6 155.4h0M115.6 155.9h0M115.7 156.4h0M115.7 156.8h0M115.9 157.2h0M116.1 157.5h0M116.3 157.7h0M116.5 157.7h0M116.8 157.7h0M117.1 157.5h0M117.4 157.2h0M117.7 156.7h0M117.9 156.1h0M118.2 155.5h0M118.4 154.7h0M118.5 153.9h0M118.6 153.1h0M118.6 152.3h0M118.5 151.5h0M118.3 150.9h0M118.1 150.3h0M117.8 149.9h0M117.4 149.7h0M117.0 149.6h0M116.6 149.8h0M116.1 150.1h0M115.6 150.7h0M115.2 151.5h0M114.8 152.5h0M114.4 153.6h0M114.2 154.8h0M114.0 156.0h0M113.9 157.3h0M114.0 158.6h0M114.1 159.7h0M114.4 160.7h0M114.8 161.5h0M115.3 162.0h0M115.9 162.3h0M116.6 162.2h0M117.3 161.9h0M118.0 161.2h0M118.7 160.2h0M119.4 158.9h0M120.0 157.4h0M120.4 155.6h0M120.8 153.8h0M121.0 151.8h0M121.0 149.9h0M120.9 148.1h0M120.6 146.4h0M120.1 145.0h0M119.5 144.0h0M118.7 143.3h0M117.7 143.0h0M116.7 143.2h0M115.7 144.0h0M114.6 145.2h0M113.6 146.8h0M112.6 148.8h0M111.8 151.2h0M111.2 153.8h0M110.8 156.6h0M110.6 159.4h0M110.6 162.1h0M110.9 164.6h0M111.5 166.7h0M112.3 168.5h0M113.3 169.7h0M114.5 170.3h0M115.8 170.3h0M117.2 169.7h0M118.6 168.4h0M120.0 166.6h0M121.3 164.1h0M122.5 161.2h0M123.4 158.0h0M124.1 154.5h0M124.6 150.9h0M124.7 147.4h0M124.5 144.0h0M124.0 141.0h0M123.2 138.5h0M122.1 136.5h0M120.7 135.2h0M119.1 134.7h0M117.4 135.0h0M115.7 136.1h0M113.9 138.0h0M112.2 140.6h0M110.7 143.8h0M109.4 147.6h0M108.4 151.7h0M107.7 155.9h0M107.3 160.2h0M107.4 164.3h0M107.8 168.0h0M108.6 171.3h0M109.8 173.8h0M111.2 175.7h0M112.8 176.6h0M114.7 176.7h0M116.6 175.9h0M118.5 174.3h0M120.4 171.9h0M122.1 168.7h0M123.7 165.0h0M125.0 160.8h0M125.9 156.4h0M126.5 151.8h0M126.8 147.3h0M126.6 143.1h0M126.0 139.3h0M125.1 136.0h0M123.8 133.4h0M122.2 131.7h0M120.4 130.9h0M118.4 131.0h0M116.4 132.1h0M114.3 134.1h0M112.3 136.9h0M110.5 140.5h0M108.9 144.7h0M107.6 149.3h0M106.7 154.1h0M106.3 158.9h0M106.2 163.6h0M106.6 167.9h0M107.3 171.6h0M108.5 174.7h0M110.0 176.9h0M111.7 178.3h0M113.6 178.7h0M115.7 178.1h0M117.8 176.6h0M119.8 174.3h0M121.7 171.1h0M123.5 167.4h0M124.9 163.1h0M126.1 158.5h0M126.8 153.7h0M127.2 148.9h0M127.2 144.4h0M126.8 140.2h0M125.9 136.5h0M124.7 133.6h0M123.2 131.5h0M121.4 130.2h0M119.4 130.0h0M117.2 130.8h0M115.1 132.5h0M113.0 135.1h0M111.0 138.5h0M109.3 142.6h0M107.9 147.1h0M106.8 152.0h0M106.2 157.0h0M106.0 161.8h0M106.2 166.4h0M106.8 170.4h0M107.8 173.8h0M109.2 176.4h0M110.9 178.2h0M112.8 178.9h0M114.8 178.8h0M116.9 177.6h0M119.0 175.6h0M121.0 172.7h0M122.8 169.2h0M124.4 165.0h0M125.7 160.5h0M126.7 155.7h0M127.2 150.9h0M127.3 146.2h0M127.1 141.8h0M126.4 137.9h0M125.3 134.6h0M123.9 132.1h0M122.2 130.5h0M120.2 129.9h0M118.1 130.2h0M116.0 131.5h0M113.8 133.8h0M111.8 136.9h0M110.0 140.8h0M108.4 145.2h0M107.2 149.9h0M106.4 154.9h0M106.0 159.8h0M106.0 164.6h0M106.5 168.8h0M107.3 172.5h0M108.6 175.5h0M110.1 177.6h0M111.9 178.8h0M113.9 179.0h0M116.0 178.2h0M118.2 176.6h0M120.2 174.0h0M122.1 170.7h0M123.8 166.8h0M125.2 162.4h0M126.3 157.7h0M127.0 152.9h0M127.3 148.1h0M127.2 143.5h0M126.7 139.4h0M125.8 135.8h0M124.5 133.0h0M122.9 131.0h0M121.1 130.0h0M119.0 129.9h0M116.9 130.8h0M114.7 132.7h0M112.6 135.5h0M110.7 139.1h0M109.0 143.3h0M107.7 147.9h0M106.7 152.8h0M106.1 157.8h0M105.9 162.6h0M106.2 167.1h0M106.9 171.1h0M108.0 174.4h0M109.4 176.8h0M111.2 178.4h0M113.1 179.0h0M115.2 178.7h0M117.3 177.4h0M119.4 175.2h0M121.3 172.2h0M123.1 168.5h0M124.7 164.3h0M125.9 159.7h0M126.8 154.9h0M127.3 150.1h0M127.3 145.4h0M127.0 141.1h0M126.2 137.2h0M125.1 134.1h0M123.6 131.7h0M121.9 130.3h0M119.9 129.8h0M117.8 130.3h0M115.6 131.8h0M113.5 134.2h0M111.5 137.5h0M109.7 141.4h0M108.2 145.9h0M107.0 150.8h0M106.3 155.7h0M105.9 160.7h0M106.0 165.3h0M106.6 169.5h0M107.5 173.1h0M108.8 175.9h0M110.4 177.9h0M112.3 178.9h0M114.3 178.9h0M116.4 178.0h0M118.5 176.2h0M120.5 173.5h0M122.4 170.1h0M124.1 166.1h0M125.4 161.6h0M126.5 156.9h0M127.1 152.1h0M127.4 147.3h0M127.2 142.8h0M126.6 138.8h0M125.6 135.3h0M124.3 132.6h0M122.6 130.8h0M120.7 129.9h0M118.7 130.0h0M116.5 131.1h0M114.4 133.1h0M112.3 136.1h0M110.4 139.7h0M108.8 144.0h0M107.5 148.7h0M106.5 153.7h0M106.0 158.6h0M105.9 163.4h0M106.3 167.8h0M107.1 171.7h0M108.2 174.9h0M109.7 177.2h0M111.5 178.6h0M113.4 179.0h0M115.5 178.5h0M117.6 177.1h0M119.7 174.7h0M121.7 171.6h0M123.4 167.8h0M124.9 163.5h0M126.1 158.9h0M126.9 154.1h0M127.3 149.2h0M127.3 144.6h0M126.9 140.4h0M126.1 136.7h0M124.9 133.6h0M123.3 131.4h0M121.5 130.1h0M119.5 129.8h0M117.4 130.5h0M115.2 132.2h0M113.1 134.7h0M111.2 138.1h0M109.4 142.2h0M108.0 146.7h0M106.9 151.6h0M106.2 156.6h0M105.9 161.5h0M106.1 166.1h0M106.7 170.2h0M107.7 173.6h0M109.1 176.3h0M110.7 178.1h0M112.6 179.0h0M114.6 178.9h0M116.8 177.8h0M118.9 175.8h0M120.9 173.0h0M122.7 169.5h0M124.3 165.4h0M125.6 160.9h0M126.6 156.1h0" stroke="#9467bd"/><path d="M169.1 114.9h0M150.0 114.6h0M141.9 112.0h0M136.2 110.1h0M131.5 109.3h0M127.2 109.6h0M123.1 111.2h0M119.3 114.0h0M115.8 117.8h0M112.6 122.6h0M109.8 128.2h0M107.3 134.4h0M105.4 141.0h0M104.0 147.8h0M103.2 154.4h0M102.9 160.8h0M103.1 166.7h0M103.9 171.8h0M105.1 176.1h0M106.8 179.5h0M108.7 181.7h0M110.9 182.9h0M113.3 182.9h0M115.7 181.9h0M118.1 179.8h0M120.4 176.8h0M122.6 173.0h0M124.4 168.6h0M126.0 163.7h0M127.1 158.5h0M127.9 153.2h0M128.2 148.0h0M128.1 143.1h0M127.5 138.6h0M126.5 134.9h0M125.2 131.8h0M123.5 129.7h0M121.5 128.6h0M119.3 128.5h0M117.1 129.5h0M114.8 131.5h0M112.6 134.4h0M110.6 138.1h0M108.9 142.4h0M107.4 147.2h0M106.4 152.3h0M105.8 157.5h0M105.6 162.5h0M105.9 167.1h0M106.6 171.2h0M107.7 174.6h0M109.1 177.2h0M110.9 178.8h0M112.8 179.5h0M114.9 179.2h0M117.1 178.0h0M119.2 175.8h0M121.2 172.8h0M123.1 169.1h0M124.7 164.8h0M125.9 160.2h0M126.9 155.3h0M127.4 150.4h0M127.5 145.7h0M127.1 141.3h0M126.4 137.4h0M125.3 134.2h0M123.8 131.7h0M122.1 130.2h0M120.1 129.6h0M118.0 130.1h0M115.8 131.5h0M113.6 133.9h0M111.6 137.1h0M109.8 141.0h0M108.3 145.5h0M107.1 150.3h0M106.3 155.3h0M105.9 160.3h0M106.0 165.0h0M106.5 169.2h0M107.4 172.9h0M108.7 175.8h0M110.2 177.8h0M112.1 178.9h0M114.1 179.1h0M116.2 178.2h0M118.3 176.5h0M120.4 173.8h0M122.3 170.5h0M124.0 166.5h0M125.4 162.1h0M126.4 157.3h0M127.1 152.5h0M127.4 147.7h0M127.2 143.2h0M126.7 139.1h0M125.7 135.6h0M124.4 132.8h0M122.8 130.9h0M120.9 129.9h0M118.9 129.9h0M116.7 130.9h0M114.5 132.9h0M112.5 135.7h0M110.6 139.4h0M108.9 143.6h0M107.6 148.3h0M106.6 153.2h0M106.0 158.2h0M105.9 163.0h0M106.2 167.5h0M107.0 171.4h0M108.1 174.6h0M109.6 177.0h0M111.3 178.5h0M113.3 179.1h0M115.3 178.6h0M117.4 177.3h0M119.5 175.0h0M121.5 171.9h0M123.3 168.2h0M124.8 163.9h0M126.0 159.3h0M126.8 154.5h0M127.3 149.7h0M127.3 145.0h0M126.9 140.7h0M126.2 137.0h0M125.0 133.9h0M123.5 131.6h0M121.7 130.2h0M119.7 129.8h0M117.6 130.4h0M115.4 132.0h0M113.3 134.5h0M111.3 137.8h0M109.6 141.8h0M108.1 146.3h0M107.0 151.2h0M106.2 156.1h0M105.9 161.1h0M106.1 165.7h0M106.6 169.8h0M107.6 173.4h0M108.9 176.1h0M110.6 178.0h0M112.4 178.9h0M114.5 178.9h0M116.6 177.9h0M118.7 176.0h0M120.7 173.3h0M122.6 169.8h0M124.2 165.8h0M125.5 161.3h0M126.5 156.5h0M127.2 151.7h0M127.4 146.9h0M127.2 142.5h0M126.5 138.5h0M125.5 135.1h0M124.2 132.4h0M122.5 130.7h0M120.6 129.9h0M118.5 130.0h0M116.3 131.2h0M114.2 133.3h0M112.1 136.3h0M110.3 140.1h0M108.7 144.4h0M107.4 149.1h0M106.5 154.1h0M106.0 159.0h0M106.0 163.8h0M106.3 168.2h0M107.1 172.0h0M108.3 175.1h0M109.8 177.3h0M111.6 178.7h0M113.6 179.0h0M115.7 178.4h0M117.8 176.9h0M119.9 174.5h0M121.8 171.3h0M123.5 167.5h0M125.0 163.2h0M126.2 158.5h0M126.9 153.7h0M127.3 148.9h0M127.3 144.3h0M126.8 140.1h0M126.0 136.4h0M124.8 133.4h0M123.2 131.3h0M121.4 130.1h0M119.4 129.8h0M117.2 130.6h0M115.1 132.3h0M113.0 135.0h0M111.0 138.4h0M109.3 142.5h0M107.9 147.1h0M106.8 152.0h0M106.1 157.0h0M105.9 161.9h0M106.1 166.4h0M106.8 170.5h0M107.8 173.9h0M109.2 176.5h0M110.9 178.2h0M112.8 179.0h0M114.8 178.8h0M116.9 177.7h0M119.0 175.6h0M121.0 172.8h0M122.9 169.2h0M124.4 165.0h0M125.7 160.5h0M126.7 155.7h0M127.2 150.9h0M127.4 146.1h0M127.1 141.7h0M126.4 137.8h0M125.3 134.6h0M123.9 132.1h0M122.2 130.5h0M120.2 129.8h0M118.1 130.2h0M116.0 131.5h0M113.8 133.8h0M111.8 136.9h0M110.0 140.7h0M108.4 145.1h0M107.2 149.9h0M106.4 154.9h0M106.0 159.9h0M106.0 164.6h0M106.5 168.9h0M107.3 172.6h0M108.6 175.5h0M110.1 177.6h0M111.9 178.8h0M113.9 179.0h0M116.0 178.3h0M118.2 176.6h0M120.2 174.0h0M122.1 170.7h0M123.8 166.8h0M125.2 162.4h0M126.3 157.7h0M127.0 152.9h0M127.4 148.1h0M127.2 143.5h0M126.7 139.4h0M125.8 135.8h0M124.5 133.0h0M122.9 131.0h0M121.1 130.0h0M119.0 129.9h0M116.9 130.8h0M114.7 132.7h0M112.6 135.5h0M110.7 139.1h0M109.0 143.3h0M107.7 147.9h0M106.7 152.8h0M106.1 157.8h0M105.9 162.6h0M106.2 167.1h0M106.9 171.1h0M108.0 174.4h0M109.4 176.8h0M111.2 178.4h0M113.1 179.0h0M115.2 178.7h0M117.3 177.4h0M119.4 175.2h0M121.3 172.2h0M123.1 168.5h0M124.7 164.3h0M125.9 159.7h0M126.8 154.9h0M127.3 150.1h0M127.3 145.4h0M127.0 141.1h0M126.2 137.2h0M125.1 134.1h0M123.6 131.7h0M121.9 130.3h0M119.9 129.8h0M117.8 130.3h0M115.6 131.8h0M113.5 134.2h0M111.5 137.5h0M109.7 141.4h0M108.2 145.9h0M107.0 150.8h0M106.3 155.7h0M105.9 160.7h0M106.0 165.3h0M106.6 169.5h0M107.5 173.1h0M108.8 175.9h0M110.4 177.9h0M112.3 178.9h0M114.3 178.9h0M116.4 178.0h0M118.5 176.2h0M120.5 173.5h0M122.4 170.1h0M124.1 166.1h0M125.4 161.6h0M126.5 156.9h0M127.1 152.1h0M127.4 147.3h0M127.2 142.8h0M126.6 138.8h0M125.6 135.3h0M124.3 132.6h0M122.6 130.8h0M120.7 129.9h0M118.7 130.0h0M116.5 131.1h0M114.4 133.1h0M112.3 136.1h0M110.4 139.7h0M108.8 144.0h0M107.5 148.7h0M106.5 153.7h0M106.0 158.6h0M105.9 163.4h0M106.3 167.8h0M107.1 171.7h0M108.2 174.9h0M109.7 177.2h0M111.5 178.6h0M113.4 179.0h0M115.5 178.5h0M117.6 177.1h0M119.7 174.7h0M121.7 171.6h0M123.4 167.8h0M124.9 163.5h0M126.1 158.9h0M126.9 154.1h0M127.3 149.2h0M127.3 144.6h0M126.9 140.4h0M126.1 136.7h0M124.9 133.6h0M123.3 131.4h0M121.5 130.1h0M119.5 129.8h0M117.4 130.5h0M115.2 132.2h0M113.1 134.7h0M111.2 138.1h0M109.4 142.2h0M108.0 146.7h0M106.9 151.6h0M106.2 156.6h0M105.9 161.5h0M106.1 166.1h0M106.7 170.2h0M107.7 173.6h0M109.1 176.3h0M110.7 178.1h0M112.6 179.0h0M114.6 178.9h0M116.8 177.8h0M118.9 175.8h0M120.9 173.0h0M122.7 169.5h0M124.3 165.4h0M125.6 160.9h0M126.6 156.1h0" stroke="#8c564b"/><path d="M135.3 159.2h0M135.3 159.0h0M135.3 158.9h0M135.3 158.8h0M135.2 158.7h0M135.2 158.6h0M135.1 158.5h0M135.1 158.5h0M135.0 158.5h0M134.9 158.5h0M134.8 158.6h0M134.7 158.7h0M134.6 158.9h0M134.6 159.1h0M134.5 159.4h0M134.4 159.6h0M134.4 159.9h0M134.4 160.2h0M134.4 160.5h0M134.4 160.8h0M134.5 161.0h0M134.6 161.2h0M134.8 161.3h0M134.9 161.3h0M135.1 161.3h0M135.3 161.2h0M135.5 161.0h0M135.7 160.6h0M135.9 160.2h0M136.0 159.8h0M136.2 159.2h0M136.3 158.6h0M136.3 158.0h0M136.3 157.4h0M136.3 156.8h0M136.2 156.2h0M136.0 155.7h0M135.7 155.4h0M135.4 155.2h0M135.1 155.1h0M134.7 155.2h0M134.3 155.6h0M133.8 156.1h0M133.4 156.8h0M133.0 157.8h0M132.7 158.9h0M132.4 160.1h0M132.2 161.4h0M132.1 162.8h0M132.1 164.1h0M132.3 165.4h0M132.6 166.5h0M133.0 167.4h0M133.6 168.0h0M134.3 168.4h0M135.1 168.3h0M135.9 167.9h0M136.8 167.0h0M137.7 165.7h0M138.5 164.1h0M139.3 162.0h0M139.9 159.7h0M140.4 157.2h0M140.7 154.5h0M140.8 151.8h0M140.6 149.2h0M140.2 146.8h0M139.5 144.8h0M138.6 143.2h0M137.4 142.3h0M136.0 142.0h0M134.4 142.4h0M132.8 143.7h0M131.2 145.7h0M129.6 148.4h0M128.1 151.8h0M126.9 155.8h0M126.0 160.1h0M125.3 164.6h0M125.1 169.1h0M125.3 173.4h0M125.9 177.3h0M126.9 180.5h0M128.3 183.0h0M130.1 184.6h0M132.1 185.1h0M134.2 184.6h0M136.5 183.1h0M138.7 180.5h0M140.9 177.1h0M142.8 172.8h0M144.5 167.8h0M145.9 162.5h0M146.8 156.8h0M147.3 151.2h0M147.2 145.7h0M146.7 140.7h0M145.7 136.4h0M144.3 132.9h0M142.4 130.4h0M140.2 129.0h0M137.8 128.9h0M135.2 130.0h0M132.5 132.3h0M129.9 135.8h0M127.5 140.3h0M125.4 145.6h0M123.7 151.5h0M122.4 157.7h0M121.6 164.1h0M121.4 170.2h0M121.8 175.9h0M122.6 180.9h0M124.0 185.0h0M125.8 188.1h0M127.9 190.0h0M130.4 190.7h0M133.0 190.1h0M135.6 188.4h0M138.2 185.5h0M140.7 181.6h0M143.0 176.8h0M145.0 171.3h0M146.5 165.4h0M147.7 159.2h0M148.3 153.0h0M148.4 147.0h0M148.0 141.4h0M147.0 136.5h0M145.6 132.5h0M143.7 129.6h0M141.5 127.8h0M139.0 127.2h0M136.3 128.0h0M133.6 130.0h0M130.8 133.3h0M128.3 137.6h0M126.0 142.8h0M124.1 148.7h0M122.6 155.0h0M121.6 161.5h0M121.2 167.9h0M121.3 173.9h0M122.0 179.3h0M123.2 183.8h0M124.8 187.3h0M126.9 189.7h0M129.3 190.9h0M131.8 190.8h0M134.5 189.5h0M137.2 187.0h0M139.8 183.5h0M142.1 179.0h0M144.3 173.7h0M146.0 167.9h0M147.3 161.8h0M148.1 155.5h0M148.5 149.4h0M148.3 143.6h0M147.5 138.4h0M146.3 134.0h0M144.6 130.6h0M142.5 128.3h0M140.1 127.2h0M137.5 127.5h0M134.7 129.0h0M132.0 131.7h0M129.3 135.6h0M126.9 140.5h0M124.8 146.1h0M123.1 152.3h0M121.9 158.8h0M121.3 165.2h0M121.2 171.4h0M121.6 177.1h0M122.6 182.0h0M124.1 186.0h0M126.0 188.9h0M128.2 190.6h0M130.7 191.0h0M133.4 190.2h0M136.1 188.2h0M138.7 185.1h0M141.2 181.0h0M143.4 176.0h0M145.3 170.4h0M146.8 164.4h0M147.9 158.1h0M148.4 151.9h0M148.4 145.9h0M147.9 140.5h0M146.9 135.7h0M145.4 131.9h0M143.4 129.1h0M141.1 127.5h0M138.6 127.2h0M135.9 128.2h0M133.1 130.4h0M130.4 133.9h0M127.9 138.4h0M125.6 143.7h0M123.8 149.7h0M122.4 156.1h0M121.5 162.6h0M121.1 168.9h0M121.4 174.8h0M122.1 180.1h0M123.4 184.5h0M125.2 187.8h0M127.3 190.0h0M129.7 191.0h0M132.3 190.7h0M135.0 189.2h0M137.6 186.5h0M140.2 182.8h0M142.5 178.2h0M144.6 172.8h0M146.2 166.9h0M147.5 160.7h0M148.2 154.5h0M148.5 148.4h0M148.2 142.7h0M147.4 137.6h0M146.0 133.4h0M144.3 130.1h0M142.1 128.0h0M139.7 127.2h0M137.0 127.6h0M134.2 129.3h0M131.5 132.3h0M128.9 136.4h0M126.5 141.4h0M124.5 147.1h0M122.9 153.4h0M121.8 159.9h0M121.2 166.3h0M121.2 172.4h0M121.8 178.0h0M122.8 182.8h0M124.4 186.6h0M126.4 189.3h0M128.6 190.8h0M131.2 191.0h0M133.8 190.0h0M136.5 187.8h0M139.1 184.5h0M141.6 180.2h0M143.8 175.1h0M145.6 169.4h0M147.0 163.3h0M148.0 157.1h0M148.4 150.9h0M148.4 145.0h0M147.8 139.6h0M146.6 135.0h0M145.1 131.3h0M143.1 128.7h0M140.7 127.4h0M138.1 127.3h0M135.4 128.5h0M132.6 130.9h0M129.9 134.6h0M127.5 139.2h0M125.3 144.7h0M123.5 150.8h0M122.2 157.2h0M121.4 163.7h0M121.1 169.9h0M121.5 175.8h0M122.3 180.9h0M123.7 185.1h0M125.5 188.3h0M127.7 190.3h0M130.1 191.0h0M132.7 190.5h0M135.4 188.8h0M138.1 186.0h0M140.6 182.1h0M142.9 177.3h0M144.9 171.8h0M146.5 165.9h0M147.6 159.7h0M148.3 153.4h0M148.5 147.4h0M148.1 141.8h0M147.2 136.8h0M145.8 132.7h0M143.9 129.7h0M141.7 127.8h0M139.2 127.2h0M136.5 127.8h0M133.8 129.8h0M131.0 132.9h0M128.5 137.2h0M126.1 142.3h0M124.2 148.2h0M122.7 154.5h0M121.6 161.0h0M121.2 167.4h0M121.3 173.4h0M121.9 178.9h0M123.1 183.5h0M124.7 187.1h0M126.7 189.6h0M129.1 190.9h0M131.6 190.9h0M134.3 189.7h0M137.0 187.3h0M139.6 183.8h0M142.0 179.4h0M144.1 174.2h0M145.9 168.4h0M147.2 162.3h0M148.1 156.0h0M148.5 149.9h0M148.3 144.0h0M147.6 138.8h0M146.4 134.3h0M144.7 130.8h0M142.7 128.4h0M140.3 127.3h0M137.7 127.4h0M134.9 128.8h0M132.2 131.5h0M129.5 135.3h0M127.1 140.1h0M124.9 145.7h0M123.2 151.8h0M122.0 158.3h0M121.3 164.7h0M121.2 171.0h0M121.6 176.7h0M122.5 181.7h0M124.0 185.7h0M125.8 188.7h0M128.1 190.5h0M130.5 191.1h0M133.2 190.3h0M135.9 188.4h0M138.5 185.4h0M141.0 181.3h0M143.3 176.4h0M145.2 170.9h0M146.7 164.9h0M147.8 158.6h0M148.4 152.4h0M148.4 146.4h0M148.0 140.9h0M147.0 136.1h0M145.5 132.1h0M143.6 129.3h0M141.3 127.6h0M138.8 127.2h0M136.1 128.1h0M133.3 130.2h0M130.6 133.6h0M128.1 138.0h0M125.8 143.3h0M123.9 149.2h0M122.5 155.6h0M121.5 162.1h0M121.1 168.4h0M121.3 174.4h0M122.1 179.7h0M123.3 184.2h0M125.0 187.6h0M127.1 189.9h0M129.5 191.0h0M132.1 190.8h0M134.7 189.4h0M137.4 186.8h0M140.0 183.1h0M142.4 178.6h0M144.4 173.2h0M146.1 167.4h0M147.4 161.2h0" stroke="#e377c2"/><path d="M186.7 119.2h0M168.3 118.5h0M160.6 115.4h0M155.1 113.1h0M150.5 111.8h0M146.2 111.7h0M142.0 113.0h0M138.1 115.6h0M134.3 119.4h0M130.8 124.4h0M127.7 130.3h0M125.0 137.0h0M122.7 144.3h0M121.1 151.8h0M120.0 159.3h0M119.5 166.6h0M119.6 173.3h0M120.4 179.3h0M121.6 184.4h0M123.4 188.4h0M125.5 191.2h0M128.0 192.6h0M130.7 192.8h0M133.5 191.7h0M136.3 189.3h0M139.1 185.8h0M141.6 181.4h0M143.9 176.1h0M145.8 170.2h0M147.2 164.0h0M148.2 157.6h0M148.7 151.2h0M148.6 145.2h0M148.1 139.7h0M146.9 135.0h0M145.4 131.2h0M143.4 128.5h0M141.0 127.1h0M138.4 126.9h0M135.6 128.0h0M132.9 130.4h0M130.1 134.0h0M127.6 138.6h0M125.4 144.1h0M123.6 150.1h0M122.2 156.6h0M121.4 163.1h0M121.1 169.5h0M121.4 175.3h0M122.2 180.6h0M123.5 184.9h0M125.3 188.1h0M127.4 190.2h0M129.9 191.1h0M132.5 190.7h0M135.2 189.1h0M137.8 186.3h0M140.4 182.5h0M142.7 177.8h0M144.7 172.4h0M146.4 166.4h0M147.6 160.2h0M148.3 154.0h0M148.5 147.9h0M148.1 142.2h0M147.3 137.2h0M145.9 133.0h0M144.1 129.9h0M141.9 127.9h0M139.5 127.1h0M136.8 127.7h0M134.0 129.5h0M131.3 132.6h0M128.7 136.7h0M126.3 141.8h0M124.3 147.6h0M122.8 153.9h0M121.7 160.4h0M121.2 166.8h0M121.2 172.9h0M121.8 178.4h0M122.9 183.1h0M124.5 186.8h0M126.5 189.4h0M128.8 190.8h0M131.4 191.0h0M134.0 189.8h0M136.7 187.5h0M139.3 184.2h0M141.8 179.8h0M143.9 174.7h0M145.7 168.9h0M147.1 162.8h0M148.0 156.6h0M148.4 150.4h0M148.3 144.5h0M147.7 139.2h0M146.5 134.7h0M144.9 131.1h0M142.9 128.6h0M140.5 127.3h0M137.9 127.3h0M135.2 128.6h0M132.4 131.2h0M129.7 134.9h0M127.3 139.6h0M125.1 145.1h0M123.4 151.3h0M122.1 157.7h0M121.3 164.2h0M121.1 170.4h0M121.5 176.2h0M122.4 181.3h0M123.8 185.4h0M125.7 188.5h0M127.8 190.4h0M130.3 191.1h0M132.9 190.5h0M135.6 188.6h0M138.3 185.7h0M140.8 181.7h0M143.1 176.9h0M145.0 171.4h0M146.6 165.4h0M147.7 159.2h0M148.3 152.9h0M148.4 146.9h0M148.0 141.4h0M147.1 136.5h0M145.6 132.5h0M143.8 129.5h0M141.5 127.7h0M139.0 127.2h0M136.3 127.9h0M133.6 130.0h0M130.8 133.2h0M128.3 137.5h0M126.0 142.8h0M124.0 148.7h0M122.6 155.0h0M121.6 161.5h0M121.2 167.9h0M121.3 173.9h0M122.0 179.3h0M123.2 183.8h0M124.8 187.4h0M126.9 189.8h0M129.3 190.9h0M131.8 190.9h0M134.5 189.5h0M137.2 187.0h0M139.8 183.5h0M142.2 179.0h0M144.3 173.7h0M146.0 167.9h0M147.3 161.8h0M148.1 155.5h0M148.5 149.4h0M148.3 143.6h0M147.5 138.4h0M146.3 134.0h0M144.6 130.6h0M142.5 128.3h0M140.1 127.2h0M137.5 127.4h0M134.7 129.0h0M132.0 131.7h0M129.3 135.6h0M126.9 140.5h0M124.8 146.1h0M123.1 152.3h0M121.9 158.8h0M121.3 165.2h0M121.2 171.4h0M121.6 177.1h0M122.6 182.0h0M124.1 186.0h0M126.0 188.9h0M128.2 190.6h0M130.7 191.0h0M133.4 190.2h0M136.1 188.2h0M138.7 185.1h0M141.2 181.0h0M143.4 176.0h0M145.3 170.4h0M146.8 164.4h0M147.9 158.1h0M148.4 151.9h0M148.4 145.9h0M147.9 140.5h0M146.9 135.7h0M145.4 131.9h0M143.4 129.1h0M141.1 127.5h0M138.6 127.2h0M135.9 128.2h0M133.1 130.4h0M130.4 133.9h0M127.9 138.4h0M125.6 143.7h0M123.8 149.7h0M122.4 156.1h0M121.5 162.6h0M121.1 168.9h0M121.4 174.8h0M122.1 180.1h0M123.4 184.5h0M125.2 187.8h0M127.3 190.0h0M129.7 191.0h0M132.3 190.7h0M135.0 189.2h0M137.6 186.5h0M140.2 182.8h0M142.5 178.2h0M144.6 172.8h0M146.2 166.9h0M147.5 160.7h0M148.2 154.5h0M148.5 148.4h0M148.2 142.7h0M147.4 137.6h0M146.0 133.4h0M144.3 130.1h0M142.1 128.0h0M139.7 127.2h0M137.0 127.6h0M134.2 129.3h0M131.5 132.3h0M128.9 136.4h0M126.5 141.4h0M124.5 147.1h0M122.9 153.4h0M121.8 159.9h0M121.2 166.3h0M121.2 172.4h0M121.8 178.0h0M122.8 182.8h0M124.4 186.6h0M126.4 189.3h0M128.6 190.8h0M131.2 191.0h0M133.8 190.0h0M136.5 187.8h0M139.1 184.5h0M141.6 180.2h0M143.8 175.1h0M145.6 169.4h0M147.0 163.3h0M148.0 157.1h0M148.4 150.9h0M148.4 145.0h0M147.8 139.6h0M146.6 135.0h0M145.1 131.3h0M143.1 128.7h0M140.7 127.4h0M138.1 127.3h0M135.4 128.5h0M132.6 130.9h0M129.9 134.6h0M127.5 139.2h0M125.3 144.7h0M123.5 150.8h0M122.2 157.2h0M121.4 163.7h0M121.1 169.9h0M121.5 175.8h0M122.3 180.9h0M123.7 185.1h0M125.5 188.3h0M127.7 190.3h0M130.1 191.0h0M132.7 190.5h0M135.4 188.8h0M138.1 186.0h0M140.6 182.1h0M142.9 177.3h0M144.9 171.8h0M146.5 165.9h0M147.6 159.7h0M148.3 153.4h0M148.5 147.4h0M148.1 141.8h0M147.2 136.8h0M145.8 132.7h0M143.9 129.7h0M141.7 127.8h0M139.2 127.2h0M136.5 127.8h0M133.8 129.8h0M131.0 132.9h0M128.5 137.2h0M126.1 142.3h0M124.2 148.2h0M122.7 154.5h0M121.6 161.0h0M121.2 167.4h0M121.3 173.4h0M121.9 178.9h0M123.1 183.5h0M124.7 187.1h0M126.7 189.6h0M129.1 190.9h0M131.6 190.9h0M134.3 189.7h0M137.0 187.3h0M139.6 183.8h0M142.0 179.4h0M144.1 174.2h0M145.9 168.4h0M147.2 162.3h0M148.1 156.0h0M148.5 149.9h0M148.3 144.0h0M147.6 138.8h0M146.4 134.3h0M144.7 130.8h0M142.7 128.4h0M140.3 127.3h0M137.7 127.4h0M134.9 128.8h0M132.2 131.5h0M129.5 135.3h0M127.1 140.1h0M124.9 145.7h0M123.2 151.8h0M122.0 158.3h0M121.3 164.7h0M121.2 171.0h0M121.6 176.7h0M122.5 181.7h0M124.0 185.7h0M125.8 188.7h0M128.1 190.5h0M130.5 191.1h0M133.2 190.3h0M135.9 188.4h0M138.5 185.4h0M141.0 181.3h0M143.3 176.4h0M145.2 170.9h0M146.7 164.9h0M147.8 158.6h0M148.4 152.4h0M148.4 146.4h0M148.0 140.9h0M147.0 136.1h0M145.5 132.1h0M143.6 129.3h0M141.3 127.6h0M138.8 127.2h0M136.1 128.1h0M133.3 130.2h0M130.6 133.6h0M128.1 138.0h0M125.8 143.3h0M123.9 149.2h0M122.5 155.6h0M121.5 162.1h0M121.1 168.4h0M121.3 174.4h0M122.1 179.7h0M123.3 184.2h0M125.0 187.6h0M127.1 189.9h0M129.5 191.0h0M132.1 190.8h0M134.7 189.4h0M137.4 186.8h0M140.0 183.1h0M142.4 178.6h0M144.4 173.2h0M146.1 167.4h0M147.4 161.2h0" stroke="#7f7f7f"/><path d="M153.8 164.0h0M153.8 163.9h0M153.8 163.7h0M153.8 163.6h0M153.7 163.4h0M153.7 163.3h0M153.6 163.2h0M153.6 163.2h0M153.5 163.2h0M153.4 163.2h0M153.3 163.3h0M153.1 163.4h0M153.0 163.6h0M152.9 163.9h0M152.8 164.2h0M152.7 164.6h0M152.7 165.0h0M152.6 165.4h0M152.6 165.8h0M152.7 166.3h0M152.8 166.6h0M152.9 167.0h0M153.1 167.2h0M153.3 167.3h0M153.6 167.3h0M153.9 167.2h0M154.2 166.9h0M154.6 166.4h0M154.9 165.7h0M155.3 164.9h0M155.6 163.9h0M155.8 162.8h0M156.0 161.6h0M156.0 160.3h0M156.0 159.1h0M155.8 157.9h0M155.5 156.8h0M155.1 155.9h0M154.5 155.3h0M153.7 155.0h0M152.9 155.2h0M152.0 155.8h0M151.0 156.9h0M150.0 158.5h0M149.0 160.5h0M148.1 163.1h0M147.4 166.0h0M146.8 169.2h0M146.6 172.5h0M146.6 175.8h0M146.9 179.0h0M147.5 181.8h0M148.6 184.1h0M149.9 185.7h0M151.5 186.4h0M153.4 186.2h0M155.4 185.0h0M157.5 182.8h0M159.6 179.5h0M161.6 175.4h0M163.3 170.4h0M164.7 164.9h0M165.7 159.0h0M166.3 153.1h0M166.3 147.2h0M165.7 141.8h0M164.6 137.1h0M163.0 133.4h0M160.9 130.8h0M158.5 129.6h0M155.7 129.7h0M152.7 131.4h0M149.7 134.5h0M146.8 138.9h0M144.1 144.4h0M141.8 150.9h0M139.9 158.1h0M138.5 165.5h0M137.8 172.9h0M137.8 180.0h0M138.3 186.5h0M139.5 192.0h0M141.3 196.4h0M143.5 199.5h0M146.1 201.1h0M149.0 201.3h0M152.1 200.0h0M155.2 197.3h0M158.2 193.3h0M161.0 188.2h0M163.6 182.1h0M165.7 175.4h0M167.4 168.2h0M168.5 160.8h0M169.1 153.5h0M169.0 146.6h0M168.3 140.3h0M167.1 134.9h0M165.2 130.6h0M162.9 127.6h0M160.2 126.1h0M157.2 126.1h0M154.0 127.6h0M150.8 130.7h0M147.6 135.1h0M144.7 140.7h0M142.1 147.3h0M140.0 154.6h0M138.5 162.3h0M137.5 170.1h0M137.3 177.5h0M137.6 184.4h0M138.6 190.4h0M140.2 195.3h0M142.3 198.9h0M144.9 201.1h0M147.7 201.8h0M150.8 201.1h0M153.9 198.9h0M157.0 195.4h0M159.9 190.6h0M162.6 184.9h0M164.9 178.3h0M166.8 171.3h0M168.2 163.9h0M169.0 156.5h0M169.2 149.3h0M168.7 142.7h0M167.7 136.9h0M166.1 132.2h0M164.0 128.6h0M161.4 126.5h0M158.5 125.8h0M155.3 126.7h0M152.1 129.2h0M148.9 133.1h0M145.9 138.2h0M143.1 144.5h0M140.8 151.5h0M139.0 159.1h0M137.8 166.9h0M137.3 174.5h0M137.4 181.6h0M138.1 188.0h0M139.5 193.4h0M141.4 197.6h0M143.8 200.4h0M146.5 201.7h0M149.5 201.6h0M152.6 200.0h0M155.7 197.0h0M158.7 192.7h0M161.5 187.4h0M164.0 181.2h0M166.1 174.3h0M167.7 167.0h0M168.7 159.5h0M169.2 152.3h0M169.0 145.4h0M168.2 139.2h0M166.8 134.0h0M164.9 129.9h0M162.5 127.2h0M159.7 125.9h0M156.7 126.2h0M153.4 128.0h0M150.2 131.3h0M147.1 135.9h0M144.2 141.8h0M141.7 148.5h0M139.7 155.9h0M138.3 163.6h0M137.4 171.3h0M137.3 178.7h0M137.8 185.5h0M138.9 191.3h0M140.6 196.0h0M142.7 199.4h0M145.3 201.3h0M148.2 201.8h0M151.3 200.8h0M154.4 198.4h0M157.5 194.6h0M160.4 189.7h0M163.0 183.8h0M165.3 177.2h0M167.1 170.0h0M168.4 162.6h0M169.0 155.2h0M169.1 148.2h0M168.6 141.7h0M167.5 136.1h0M165.8 131.5h0M163.6 128.2h0M160.9 126.3h0M158.0 125.9h0M154.8 127.1h0M151.6 129.7h0M148.4 133.8h0M145.4 139.2h0M142.7 145.6h0M140.5 152.8h0M138.8 160.4h0M137.7 168.2h0M137.3 175.7h0M137.5 182.7h0M138.3 189.0h0M139.8 194.2h0M141.8 198.1h0M144.2 200.7h0M147.0 201.8h0M150.0 201.4h0M153.1 199.6h0M156.2 196.4h0M159.2 191.9h0M162.0 186.4h0M164.4 180.0h0M166.4 173.1h0M167.9 165.7h0M168.8 158.3h0M169.2 151.1h0M168.9 144.3h0M168.0 138.3h0M166.5 133.2h0M164.5 129.4h0M162.1 126.9h0M159.2 125.9h0M156.1 126.4h0M152.9 128.4h0M149.7 132.0h0M146.6 136.8h0M143.8 142.8h0M141.4 149.7h0M139.4 157.2h0M138.1 164.9h0M137.4 172.6h0M137.3 179.9h0M137.9 186.5h0M139.1 192.2h0M140.9 196.7h0M143.2 199.8h0M145.8 201.5h0M148.7 201.8h0M151.8 200.5h0M155.0 197.9h0M158.0 193.9h0M160.9 188.8h0M163.4 182.8h0M165.6 176.0h0M167.3 168.8h0M168.5 161.4h0M169.1 154.0h0M169.1 147.0h0M168.4 140.7h0M167.2 135.2h0M165.4 130.8h0M163.1 127.7h0M160.4 126.1h0M157.4 126.0h0M154.3 127.4h0M151.0 130.3h0M147.9 134.7h0M144.9 140.2h0M142.3 146.8h0M140.2 154.0h0M138.6 161.7h0M137.6 169.4h0M137.2 176.9h0M137.6 183.9h0M138.5 189.9h0M140.1 194.9h0M142.2 198.7h0M144.7 201.0h0M147.5 201.8h0M150.5 201.2h0M153.7 199.1h0M156.8 195.7h0M159.7 191.0h0M162.4 185.4h0M164.8 178.9h0M166.7 171.8h0M168.1 164.5h0M168.9 157.1h0M169.2 149.9h0M168.8 143.2h0M167.8 137.4h0M166.2 132.5h0M164.1 128.9h0M161.6 126.6h0M158.7 125.8h0M155.6 126.6h0M152.4 128.9h0M149.1 132.7h0M146.1 137.8h0M143.3 143.9h0M141.0 150.9h0M139.2 158.5h0M137.9 166.2h0M137.3 173.9h0M137.4 181.1h0M138.1 187.5h0M139.4 193.0h0M141.2 197.3h0M143.6 200.2h0M146.3 201.7h0M149.2 201.7h0M152.3 200.2h0M155.5 197.3h0M158.5 193.1h0M161.3 187.8h0M163.8 181.7h0M166.0 174.8h0M167.6 167.6h0M168.7 160.1h0M169.1 152.8h0M169.0 145.9h0M168.3 139.7h0M167.0 134.4h0M165.1 130.2h0M162.7 127.4h0M160.0 126.0h0M156.9 126.1h0M153.7 127.8h0M150.5 131.0h0M147.3 135.5h0M144.4 141.3h0M141.9 147.9h0M139.9 155.3h0M138.4 163.0h0M137.5 170.7h0M137.3 178.1h0M137.7 185.0h0M138.8 190.9h0M140.4 195.7h0M142.5 199.2h0M145.1 201.2h0M148.0 201.8h0M151.0 201.0h0M154.2 198.6h0M157.3 195.0h0M160.2 190.2h0M162.8 184.3h0M165.1 177.7h0M167.0 170.6h0M168.3 163.2h0M169.0 155.8h0M169.1 148.7h0M168.7 142.2h0M167.6 136.5h0M165.9 131.8h0M163.7 128.4h0M161.1 126.4h0M158.2 125.9h0M155.1 126.9h0M151.8 129.5h0M148.6 133.5h0M145.6 138.7h0M142.9 145.1h0M140.6 152.2h0M138.9 159.8h0M137.8 167.5h0M137.3 175.1h0M137.4 182.2h0M138.2 188.5h0M139.6 193.8h0M141.6 197.9h0M144.0 200.6h0M146.8 201.8h0M149.8 201.5h0M152.9 199.8h0M156.0 196.7h0M159.0 192.3h0M161.8 186.9h0M164.2 180.6h0M166.3 173.6h0M167.8 166.3h0" stroke="#bcbd22"/><path d="M204.4 123.5h0M187.0 122.4h0M179.5 118.9h0M174.3 116.0h0M169.7 114.3h0M165.4 113.9h0M161.2 114.8h0M157.1 117.3h0M153.1 121.1h0M149.4 126.2h0M145.9 132.5h0M142.9 139.7h0M140.4 147.6h0M138.4 155.9h0M137.1 164.2h0M136.4 172.4h0M136.4 180.1h0M137.1 187.0h0M138.4 192.8h0M140.3 197.4h0M142.6 200.6h0M145.4 202.4h0M148.4 202.6h0M151.5 201.4h0M154.7 198.7h0M157.8 194.7h0M160.7 189.6h0M163.3 183.5h0M165.6 176.7h0M167.3 169.5h0M168.5 162.0h0M169.2 154.6h0M169.2 147.6h0M168.6 141.1h0M167.4 135.5h0M165.6 131.1h0M163.4 127.9h0M160.7 126.1h0M157.7 125.8h0M154.5 127.1h0M151.3 130.0h0M148.1 134.2h0M145.1 139.7h0M142.5 146.1h0M140.3 153.4h0M138.7 161.0h0M137.6 168.8h0M137.2 176.3h0M137.5 183.3h0M138.4 189.5h0M139.9 194.6h0M142.0 198.4h0M144.4 200.9h0M147.2 201.8h0M150.2 201.3h0M153.4 199.4h0M156.5 196.1h0M159.5 191.5h0M162.2 185.9h0M164.6 179.5h0M166.5 172.5h0M168.0 165.1h0M168.9 157.7h0M169.2 150.5h0M168.8 143.8h0M167.9 137.8h0M166.4 132.9h0M164.3 129.1h0M161.8 126.7h0M159.0 125.8h0M155.9 126.5h0M152.6 128.7h0M149.4 132.3h0M146.4 137.3h0M143.6 143.4h0M141.2 150.3h0M139.3 157.8h0M138.0 165.5h0M137.3 173.2h0M137.3 180.5h0M138.0 187.0h0M139.2 192.6h0M141.1 197.0h0M143.3 200.0h0M146.0 201.6h0M149.0 201.7h0M152.1 200.4h0M155.2 197.6h0M158.2 193.5h0M161.1 188.4h0M163.6 182.3h0M165.8 175.5h0M167.5 168.2h0M168.6 160.8h0M169.1 153.5h0M169.1 146.5h0M168.4 140.2h0M167.1 134.8h0M165.3 130.5h0M162.9 127.6h0M160.2 126.0h0M157.2 126.0h0M154.0 127.6h0M150.8 130.6h0M147.6 135.1h0M144.7 140.7h0M142.1 147.3h0M140.0 154.6h0M138.5 162.3h0M137.5 170.1h0M137.3 177.5h0M137.6 184.4h0M138.6 190.4h0M140.2 195.3h0M142.3 198.9h0M144.9 201.1h0M147.7 201.8h0M150.8 201.1h0M153.9 198.9h0M157.0 195.4h0M159.9 190.6h0M162.6 184.9h0M164.9 178.3h0M166.8 171.3h0M168.2 163.9h0M169.0 156.5h0M169.2 149.3h0M168.7 142.7h0M167.7 136.9h0M166.1 132.2h0M164.0 128.6h0M161.4 126.5h0M158.5 125.8h0M155.3 126.7h0M152.1 129.2h0M148.9 133.1h0M145.9 138.2h0M143.1 144.5h0M140.8 151.5h0M139.0 159.1h0M137.8 166.9h0M137.3 174.5h0M137.4 181.6h0M138.1 188.0h0M139.5 193.4h0M141.4 197.6h0M143.8 200.4h0M146.5 201.7h0M149.5 201.6h0M152.6 200.0h0M155.7 197.0h0M158.7 192.7h0M161.5 187.4h0M164.0 181.2h0M166.1 174.3h0M167.7 167.0h0M168.7 159.5h0M169.2 152.3h0M169.0 145.4h0M168.2 139.2h0M166.8 134.0h0M164.9 129.9h0M162.5 127.2h0M159.7 125.9h0M156.7 126.2h0M153.4 128.0h0M150.2 131.3h0M147.1 135.9h0M144.2 141.8h0M141.7 148.5h0M139.7 155.9h0M138.3 163.6h0M137.4 171.3h0M137.3 178.7h0M137.8 185.5h0M138.9 191.3h0M140.6 196.0h0M142.7 199.4h0M145.3 201.3h0M148.2 201.8h0M151.3 200.8h0M154.4 198.4h0M157.5 194.6h0M160.4 189.7h0M163.0 183.8h0M165.3 177.2h0M167.1 170.0h0M168.4 162.6h0M169.0 155.2h0M169.1 148.2h0M168.6 141.7h0M167.5 136.1h0M165.8 131.5h0M163.6 128.2h0M160.9 126.3h0M158.0 125.9h0M154.8 127.1h0M151.6 129.7h0M148.4 133.8h0M145.4 139.2h0M142.7 145.6h0M140.5 152.8h0M138.8 160.4h0M137.7 168.2h0M137.3 175.7h0M137.5 182.7h0M138.3 189.0h0M139.8 194.2h0M141.8 198.1h0M144.2 200.7h0M147.0 201.8h0M150.0 201.4h0M153.1 199.6h0M156.2 196.4h0M159.2 191.9h0M162.0 186.4h0M164.4 180.0h0M166.4 173.1h0M167.9 165.7h0M168.8 158.3h0M169.2 151.1h0M168.9 144.3h0M168.0 138.3h0M166.5 133.2h0M164.5 129.4h0M162.1 126.9h0M159.2 125.9h0M156.1 126.4h0M152.9 128.4h0M149.7 132.0h0M146.6 136.8h0M143.8 142.8h0M141.4 149.7h0M139.4 157.2h0M138.1 164.9h0M137.4 172.6h0M137.3 179.9h0M137.9 186.5h0M139.1 192.2h0M140.9 196.7h0M143.2 199.8h0M145.8 201.5h0M148.7 201.8h0M151.8 200.5h0M155.0 197.9h0M158.0 193.9h0M160.9 188.8h0M163.4 182.8h0M165.6 176.0h0M167.3 168.8h0M168.5 161.4h0M169.1 154.0h0M169.1 147.0h0M168.4 140.7h0M167.2 135.2h0M165.4 130.8h0M163.1 127.7h0M160.4 126.1h0M157.4 126.0h0M154.3 127.4h0M151.0 130.3h0M147.9 134.7h0M144.9 140.2h0M142.3 146.8h0M140.2 154.0h0M138.6 161.7h0M137.6 169.4h0M137.2 176.9h0M137.6 183.9h0M138.5 189.9h0M140.1 194.9h0M142.2 198.7h0M144.7 201.0h0M147.5 201.8h0M150.5 201.2h0M153.7 199.1h0M156.8 195.7h0M159.7 191.0h0M162.4 185.4h0M164.8 178.9h0M166.7 171.8h0M168.1 164.5h0M168.9 157.1h0M169.2 149.9h0M168.8 143.2h0M167.8 137.4h0M166.2 132.5h0M164.1 128.9h0M161.6 126.6h0M158.7 125.8h0M155.6 126.6h0M152.4 128.9h0M149.1 132.7h0M146.1 137.8h0M143.3 143.9h0M141.0 150.9h0M139.2 158.5h0M137.9 166.2h0M137.3 173.9h0M137.4 181.1h0M138.1 187.5h0M139.4 193.0h0M141.2 197.3h0M143.6 200.2h0M146.3 201.7h0M149.2 201.7h0M152.3 200.2h0M155.5 197.3h0M158.5 193.1h0M161.3 187.8h0M163.8 181.7h0M166.0 174.8h0M167.6 167.6h0M168.7 160.1h0M169.1 152.8h0M169.0 145.9h0M168.3 139.7h0M167.0 134.4h0M165.1 130.2h0M162.7 127.4h0M160.0 126.0h0M156.9 126.1h0M153.7 127.8h0M150.5 131.0h0M147.3 135.5h0M144.4 141.3h0M141.9 147.9h0M139.9 155.3h0M138.4 163.0h0M137.5 170.7h0M137.3 178.1h0M137.7 185.0h0M138.8 190.9h0M140.4 195.7h0M142.5 199.2h0M145.1 201.2h0M148.0 201.8h0M151.0 201.0h0M154.2 198.6h0M157.3 195.0h0M160.2 190.2h0M162.8 184.3h0M165.1 177.7h0M167.0 170.6h0M168.3 163.2h0M169.0 155.8h0M169.1 148.7h0M168.7 142.2h0M167.6 136.5h0M165.9 131.8h0M163.7 128.4h0M161.1 126.4h0M158.2 125.9h0M155.1 126.9h0M151.8 129.5h0M148.6 133.5h0M145.6 138.7h0M142.9 145.1h0M140.6 152.2h0M138.9 159.8h0M137.8 167.5h0M137.3 175.1h0M137.4 182.2h0M138.2 188.5h0M139.6 193.8h0M141.6 197.9h0M144.0 200.6h0M146.8 201.8h0M149.8 201.5h0M152.9 199.8h0M156.0 196.7h0M159.0 192.3h0M161.8 186.9h0M164.2 180.6h0M166.3 173.6h0M167.8 166.3h0" stroke="#17becf"/><path d="M172.5 168.9h0M172.5 168.8h0M172.5 168.6h0M172.5 168.4h0M172.5 168.3h0M172.4 168.1h0M172.4 168.0h0M172.3 167.9h0M172.2 167.9h0M172.1 167.9h0M172.0 168.0h0M171.8 168.2h0M171.6 168.4h0M171.5 168.7h0M171.3 169.1h0M171.2 169.6h0M171.1 170.2h0M171.0 170.8h0M171.0 171.5h0M171.0 172.1h0M171.1 172.8h0M171.3 173.3h0M171.6 173.8h0M171.9 174.1h0M172.3 174.2h0M172.8 174.0h0M173.4 173.6h0M174.0 172.8h0M174.6 171.7h0M175.3 170.3h0M175.9 168.6h0M176.4 166.5h0M176.8 164.2h0M177.0 161.7h0M177.0 159.2h0M176.7 156.7h0M176.2 154.4h0M175.4 152.5h0M174.3 151.1h0M172.9 150.5h0M171.2 150.6h0M169.3 151.8h0M167.3 154.0h0M165.3 157.3h0M163.3 161.6h0M161.6 166.8h0M160.2 172.7h0M159.3 179.0h0M158.9 185.4h0M159.1 191.5h0M159.9 196.9h0M161.3 201.4h0M163.3 204.6h0M165.8 206.4h0M168.7 206.6h0M171.8 205.3h0M175.0 202.3h0M178.1 197.9h0M181.1 192.3h0M183.7 185.5h0M186.0 178.0h0M187.7 170.0h0M188.8 161.8h0M189.3 153.8h0M189.1 146.3h0M188.2 139.6h0M186.6 133.9h0M184.5 129.6h0M181.8 126.8h0M178.7 125.7h0M175.2 126.4h0M171.6 128.8h0M168.0 132.9h0M164.6 138.5h0M161.4 145.5h0M158.7 153.4h0M156.5 161.9h0M155.0 170.8h0M154.2 179.5h0M154.1 187.8h0M154.7 195.2h0M156.1 201.5h0M158.1 206.5h0M160.6 209.9h0M163.6 211.7h0M166.8 211.8h0M170.3 210.2h0M173.8 207.0h0M177.2 202.4h0M180.4 196.5h0M183.3 189.5h0M185.7 181.8h0M187.6 173.5h0M189.0 165.1h0M189.6 156.8h0M189.6 148.9h0M189.0 141.7h0M187.6 135.6h0M185.6 130.7h0M183.1 127.3h0M180.1 125.5h0M176.7 125.5h0M173.2 127.3h0M169.5 130.8h0M166.0 135.9h0M162.7 142.3h0M159.7 149.9h0M157.3 158.3h0M155.5 167.1h0M154.4 175.9h0M154.0 184.4h0M154.4 192.3h0M155.4 199.1h0M157.2 204.6h0M159.5 208.7h0M162.3 211.2h0M165.4 212.0h0M168.8 211.1h0M172.3 208.5h0M175.8 204.5h0M179.1 199.1h0M182.1 192.5h0M184.7 185.1h0M186.9 177.0h0M188.5 168.6h0M189.4 160.2h0M189.7 152.1h0M189.3 144.6h0M188.2 138.0h0M186.5 132.5h0M184.2 128.5h0M181.4 126.1h0M178.2 125.3h0M174.7 126.4h0M171.0 129.1h0M167.4 133.6h0M164.0 139.5h0M160.9 146.6h0M158.2 154.7h0M156.2 163.4h0M154.8 172.3h0M154.1 181.0h0M154.1 189.1h0M154.9 196.4h0M156.4 202.5h0M158.5 207.2h0M161.1 210.4h0M164.1 211.8h0M167.4 211.6h0M170.9 209.8h0M174.4 206.3h0M177.7 201.5h0M180.9 195.4h0M183.7 188.3h0M186.1 180.4h0M187.9 172.1h0M189.1 163.7h0M189.7 155.4h0M189.6 147.6h0M188.8 140.6h0M187.3 134.6h0M185.2 130.0h0M182.6 126.9h0M179.5 125.4h0M176.1 125.7h0M172.5 127.8h0M168.9 131.5h0M165.4 136.9h0M162.1 143.5h0M159.3 151.3h0M157.0 159.7h0M155.3 168.6h0M154.3 177.4h0M154.0 185.8h0M154.5 193.5h0M155.7 200.1h0M157.5 205.4h0M159.9 209.3h0M162.8 211.4h0M166.0 211.9h0M169.4 210.7h0M172.9 207.9h0M176.4 203.6h0M179.6 198.0h0M182.6 191.3h0M185.1 183.8h0M187.2 175.6h0M188.7 167.2h0M189.5 158.8h0M189.7 150.8h0M189.2 143.4h0M188.0 137.0h0M186.2 131.8h0M183.8 128.0h0M180.9 125.8h0M177.6 125.4h0M174.0 126.7h0M170.4 129.8h0M166.8 134.5h0M163.4 140.6h0M160.4 148.0h0M157.9 156.2h0M155.9 164.9h0M154.6 173.7h0M154.0 182.4h0M154.2 190.4h0M155.1 197.5h0M156.7 203.4h0M158.9 207.9h0M161.5 210.7h0M164.6 211.9h0M168.0 211.4h0M171.4 209.3h0M174.9 205.6h0M178.3 200.5h0M181.4 194.2h0M184.1 187.0h0M186.4 179.0h0M188.1 170.7h0M189.3 162.3h0M189.7 154.1h0M189.5 146.4h0M188.6 139.5h0M187.0 133.8h0M184.8 129.4h0M182.1 126.5h0M179.0 125.3h0M175.5 125.9h0M171.9 128.3h0M168.3 132.3h0M164.8 137.9h0M161.6 144.8h0M158.8 152.7h0M156.6 161.2h0M155.0 170.1h0M154.2 178.8h0M154.0 187.2h0M154.6 194.7h0M155.9 201.1h0M157.9 206.2h0M160.4 209.7h0M163.3 211.6h0M166.6 211.8h0M170.0 210.4h0M173.5 207.3h0M176.9 202.8h0M180.1 197.0h0M183.0 190.1h0M185.5 182.4h0M187.5 174.2h0M188.9 165.8h0M189.6 157.4h0M189.7 149.5h0M189.0 142.2h0M187.7 136.0h0M185.8 131.0h0M183.3 127.5h0M180.3 125.6h0M177.0 125.5h0M173.4 127.1h0M169.8 130.5h0M166.2 135.4h0M162.9 141.8h0M159.9 149.3h0M157.5 157.6h0M155.6 166.4h0M154.5 175.2h0M154.0 183.8h0M154.3 191.7h0M155.3 198.6h0M157.0 204.3h0M159.3 208.5h0M162.0 211.1h0M165.2 212.0h0M168.5 211.2h0M172.0 208.8h0M175.5 204.8h0M178.8 199.5h0M181.9 193.1h0M184.6 185.7h0M186.7 177.7h0M188.4 169.3h0M189.4 160.9h0M189.7 152.7h0M189.4 145.2h0M188.4 138.5h0M186.7 132.9h0M184.4 128.8h0M181.6 126.2h0M178.4 125.3h0M174.9 126.2h0M171.3 128.9h0M167.7 133.2h0M164.3 139.0h0M161.1 146.0h0M158.4 154.1h0M156.3 162.7h0M154.9 171.6h0M154.1 180.3h0M154.1 188.5h0M154.8 195.8h0M156.2 202.1h0M158.3 206.9h0M160.8 210.2h0M163.8 211.8h0M167.1 211.7h0M170.6 210.0h0M174.1 206.7h0M177.5 201.9h0M180.7 195.9h0M183.5 188.9h0M185.9 181.1h0M187.8 172.8h0M189.0 164.4h0M189.7 156.1h0M189.6 148.2h0M188.9 141.1h0M187.5 135.1h0M185.4 130.3h0M182.8 127.1h0M179.8 125.5h0M176.4 125.6h0M172.8 127.5h0M169.2 131.2h0M165.7 136.4h0M162.4 143.0h0M159.5 150.6h0M157.1 159.1h0M155.4 167.9h0M154.3 176.7h0M154.0 185.2h0M154.4 192.9h0M155.6 199.6h0M157.4 205.1h0M159.7 209.0h0M162.5 211.3h0M165.7 212.0h0M169.1 210.9h0M172.6 208.2h0M176.1 204.0h0M179.4 198.5h0M182.4 191.9h0M185.0 184.4h0M187.1 176.3h0M188.6 167.9h0M189.5 159.5h0M189.7 151.4h0M189.3 144.0h0M188.1 137.4h0M186.3 132.1h0M184.0 128.2h0M181.1 125.9h0M177.8 125.3h0M174.3 126.5h0M170.7 129.5h0M167.1 134.0h0M163.7 140.1h0M160.6 147.3h0M158.0 155.5h0M156.0 164.2h0M154.7 173.0h0M154.0 181.7h0M154.2 189.8h0M155.0 197.0h0M156.5 203.0h0M158.7 207.6h0M161.3 210.6h0M164.4 211.9h0M167.7 211.5h0M171.2 209.5h0M174.7 206.0h0M178.0 201.0h0M181.2 194.8h0M183.9 187.6h0M186.2 179.7h0M188.0 171.4h0" stroke="#1f77b4"/><path d="M222.5 127.9h0M205.8 126.3h0M198.7 122.4h0M193.7 119.0h0M189.2 116.8h0M184.9 116.0h0M180.7 116.7h0M176.4 118.9h0M172.3 122.7h0M168.2 128.0h0M164.5 134.7h0M161.2 142.4h0M158.3 150.9h0M156.1 160.0h0M154.5 169.3h0M153.7 178.4h0M153.5 186.9h0M154.2 194.6h0M155.5 201.2h0M157.5 206.3h0M160.0 210.0h0M162.9 212.0h0M166.2 212.3h0M169.7 210.9h0M173.2 207.9h0M176.6 203.4h0M179.9 197.7h0M182.8 190.8h0M185.4 183.2h0M187.4 175.0h0M188.8 166.5h0M189.6 158.1h0M189.7 150.1h0M189.1 142.8h0M187.9 136.5h0M186.0 131.4h0M183.6 127.7h0M180.6 125.7h0M177.3 125.4h0M173.8 126.9h0M170.1 130.1h0M166.5 134.9h0M163.2 141.2h0M160.2 148.6h0M157.7 156.8h0M155.8 165.6h0M154.5 174.5h0M154.0 183.0h0M154.3 191.0h0M155.2 198.0h0M156.8 203.8h0M159.1 208.1h0M161.8 210.9h0M164.9 212.0h0M168.2 211.3h0M171.7 209.1h0M175.2 205.2h0M178.5 200.1h0M181.6 193.7h0M184.3 186.4h0M186.6 178.4h0M188.3 170.0h0M189.3 161.6h0M189.7 153.4h0M189.4 145.8h0M188.5 139.0h0M186.9 133.4h0M184.6 129.1h0M181.9 126.3h0M178.7 125.3h0M175.3 126.1h0M171.6 128.5h0M168.0 132.7h0M164.5 138.4h0M161.4 145.4h0M158.6 153.3h0M156.5 161.9h0M155.0 170.8h0M154.1 179.5h0M154.1 187.8h0M154.7 195.2h0M156.1 201.6h0M158.1 206.5h0M160.6 209.9h0M163.6 211.7h0M166.8 211.8h0M170.3 210.2h0M173.8 207.0h0M177.2 202.4h0M180.4 196.5h0M183.3 189.5h0M185.7 181.8h0M187.6 173.5h0M189.0 165.1h0M189.6 156.8h0M189.6 148.9h0M189.0 141.7h0M187.6 135.6h0M185.6 130.7h0M183.1 127.3h0M180.1 125.5h0M176.7 125.5h0M173.2 127.3h0M169.5 130.8h0M166.0 135.9h0M162.7 142.3h0M159.7 149.9h0M157.3 158.3h0M155.5 167.1h0M154.4 175.9h0M154.0 184.4h0M154.4 192.3h0M155.4 199.1h0M157.2 204.6h0M159.5 208.7h0M162.3 211.2h0M165.4 212.0h0M168.8 211.1h0M172.3 208.5h0M175.8 204.5h0M179.1 199.1h0M182.1 192.5h0M184.7 185.1h0M186.9 177.0h0M188.5 168.6h0M189.4 160.2h0M189.7 152.1h0M189.3 144.6h0M188.2 138.0h0M186.5 132.5h0M184.2 128.5h0M181.4 126.1h0M178.2 125.3h0M174.7 126.4h0M171.0 129.1h0M167.4 133.6h0M164.0 139.5h0M160.9 146.6h0M158.2 154.7h0M156.2 163.4h0M154.8 172.3h0M154.1 181.0h0M154.1 189.1h0M154.9 196.4h0M156.4 202.5h0M158.5 207.2h0M161.1 210.4h0M164.1 211.8h0M167.4 211.6h0M170.9 209.8h0M174.4 206.3h0M177.7 201.5h0M180.9 195.4h0M183.7 188.3h0M186.1 180.4h0M187.9 172.1h0M189.1 163.7h0M189.7 155.4h0M189.6 147.6h0M188.8 140.6h0M187.3 134.6h0M185.2 130.0h0M182.6 126.9h0M179.5 125.4h0M176.1 125.7h0M172.5 127.8h0M168.9 131.5h0M165.4 136.9h0M162.1 143.5h0M159.3 151.3h0M157.0 159.7h0M155.3 168.6h0M154.3 177.4h0M154.0 185.8h0M154.5 193.5h0M155.7 200.1h0M157.5 205.4h0M159.9 209.3h0M162.8 211.4h0M166.0 211.9h0M169.4 210.7h0M172.9 207.9h0M176.4 203.6h0M179.6 198.0h0M182.6 191.3h0M185.1 183.8h0M187.2 175.6h0M188.7 167.2h0M189.5 158.8h0M189.7 150.8h0M189.2 143.4h0M188.0 137.0h0M186.2 131.8h0M183.8 128.0h0M180.9 125.8h0M177.6 125.4h0M174.0 126.7h0M170.4 129.8h0M166.8 134.5h0M163.4 140.6h0M160.4 148.0h0M157.9 156.2h0M155.9 164.9h0M154.6 173.7h0M154.0 182.4h0M154.2 190.4h0M155.1 197.5h0M156.7 203.4h0M158.9 207.9h0M161.5 210.7h0M164.6 211.9h0M168.0 211.4h0M171.4 209.3h0M174.9 205.6h0M178.3 200.5h0M181.4 194.2h0M184.1 187.0h0M186.4 179.0h0M188.1 170.7h0M189.3 162.3h0M189.7 154.1h0M189.5 146.4h0M188.6 139.5h0M187.0 133.8h0M184.8 129.4h0M182.1 126.5h0M179.0 125.3h0M175.5 125.9h0M171.9 128.3h0M168.3 132.3h0M164.8 137.9h0M161.6 144.8h0M158.8 152.7h0M156.6 161.2h0M155.0 170.1h0M154.2 178.8h0M154.0 187.2h0M154.6 194.7h0M155.9 201.1h0M157.9 206.2h0M160.4 209.7h0M163.3 211.6h0M166.6 211.8h0M170.0 210.4h0M173.5 207.3h0M176.9 202.8h0M180.1 197.0h0M183.0 190.1h0M185.5 182.4h0M187.5 174.2h0M188.9 165.8h0M189.6 157.4h0M189.7 149.5h0M189.0 142.2h0M187.7 136.0h0M185.8 131.0h0M183.3 127.5h0M180.3 125.6h0M177.0 125.5h0M173.4 127.1h0M169.8 130.5h0M166.2 135.4h0M162.9 141.8h0M159.9 149.3h0M157.5 157.6h0M155.6 166.4h0M154.5 175.2h0M154.0 183.8h0M154.3 191.7h0M155.3 198.6h0M157.0 204.3h0M159.3 208.5h0M162.0 211.1h0M165.2 212.0h0M168.5 211.2h0M172.0 208.8h0M175.5 204.8h0M178.8 199.5h0M181.9 193.1h0M184.6 185.7h0M186.7 177.7h0M188.4 169.3h0M189.4 160.9h0M189.7 152.7h0M189.4 145.2h0M188.4 138.5h0M186.7 132.9h0M184.4 128.8h0M181.6 126.2h0M178.4 125.3h0M174.9 126.2h0M171.3 128.9h0M167.7 133.2h0M164.3 139.0h0M161.1 146.0h0M158.4 154.1h0M156.3 162.7h0M154.9 171.6h0M154.1 180.3h0M154.1 188.5h0M154.8 195.8h0M156.2 202.1h0M158.3 206.9h0M160.8 210.2h0M163.8 211.8h0M167.1 211.7h0M170.6 210.0h0M174.1 206.7h0M177.5 201.9h0M180.7 195.9h0M183.5 188.9h0M185.9 181.1h0M187.8 172.8h0M189.0 164.4h0M189.7 156.1h0M189.6 148.2h0M188.9 141.1h0M187.5 135.1h0M185.4 130.3h0M182.8 127.1h0M179.8 125.5h0M176.4 125.6h0M172.8 127.5h0M169.2 131.2h0M165.7 136.4h0M162.4 143.0h0M159.5 150.6h0M157.1 159.1h0M155.4 167.9h0M154.3 176.7h0M154.0 185.2h0M154.4 192.9h0M155.6 199.6h0M157.4 205.1h0M159.7 209.0h0M162.5 211.3h0M165.7 212.0h0M169.1 210.9h0M172.6 208.2h0M176.1 204.0h0M179.4 198.5h0M182.4 191.9h0M185.0 184.4h0M187.1 176.3h0M188.6 167.9h0M189.5 159.5h0M189.7 151.4h0M189.3 144.0h0M188.1 137.4h0M186.3 132.1h0M184.0 128.2h0M181.1 125.9h0M177.8 125.3h0M174.3 126.5h0M170.7 129.5h0M167.1 134.0h0M163.7 140.1h0M160.6 147.3h0M158.0 155.5h0M156.0 164.2h0M154.7 173.0h0M154.0 181.7h0M154.2 189.8h0M155.0 197.0h0M156.5 203.0h0M158.7 207.6h0M161.3 210.6h0M164.4 211.9h0M167.7 211.5h0M171.2 209.5h0M174.7 206.0h0M178.0 201.0h0M181.2 194.8h0M183.9 187.6h0M186.2 179.7h0M188.0 171.4h0" stroke="#ff7f0e"/><path d="M191.4 173.9h0M191.5 173.7h0M191.5 173.6h0M191.5 173.4h0M191.5 173.2h0M191.4 173.0h0M191.4 172.9h0M191.3 172.7h0M191.2 172.7h0M191.1 172.6h0M190.9 172.7h0M190.7 172.9h0M190.5 173.2h0M190.3 173.6h0M190.0 174.1h0M189.8 174.8h0M189.7 175.6h0M189.5 176.5h0M189.4 177.5h0M189.4 178.5h0M189.6 179.5h0M189.8 180.5h0M190.1 181.3h0M190.6 181.9h0M191.3 182.2h0M192.1 182.1h0M193.0 181.5h0M194.1 180.3h0M195.2 178.5h0M196.3 176.1h0M197.4 173.1h0M198.4 169.4h0M199.2 165.2h0M199.6 160.7h0M199.7 156.1h0M199.4 151.6h0M198.5 147.5h0M197.1 144.3h0M195.1 142.1h0M192.7 141.3h0M189.8 142.2h0M186.7 144.8h0M183.6 149.2h0M180.5 155.1h0M177.7 162.5h0M175.5 170.7h0M173.8 179.6h0M172.9 188.5h0M172.8 197.0h0M173.5 204.6h0M174.9 211.1h0M177.1 216.0h0M179.8 219.2h0M183.0 220.6h0M186.6 220.1h0M190.3 217.7h0M194.0 213.6h0M197.6 208.0h0M201.0 201.0h0M204.0 193.0h0M206.5 184.2h0M208.4 175.0h0M209.7 165.7h0M210.2 156.6h0M210.0 148.1h0M209.0 140.6h0M207.4 134.3h0M205.0 129.6h0M202.1 126.5h0M198.7 125.4h0M194.9 126.2h0M191.0 129.0h0M187.0 133.6h0M183.2 140.0h0M179.7 147.7h0M176.6 156.6h0M174.2 166.2h0M172.5 176.1h0M171.5 185.8h0M171.3 195.0h0M172.0 203.3h0M173.4 210.3h0M175.5 215.8h0M178.2 219.5h0M181.4 221.4h0M184.9 221.4h0M188.7 219.6h0M192.5 216.0h0M196.2 210.9h0M199.7 204.3h0M202.9 196.6h0M205.6 188.0h0M207.8 178.9h0M209.3 169.5h0M210.1 160.3h0M210.2 151.5h0M209.5 143.6h0M208.2 136.7h0M206.1 131.3h0M203.4 127.5h0M200.2 125.6h0M196.5 125.6h0M192.6 127.6h0M188.7 131.5h0M184.8 137.1h0M181.1 144.3h0M177.8 152.8h0M175.1 162.2h0M173.1 172.0h0M171.8 181.8h0M171.3 191.3h0M171.6 200.0h0M172.7 207.5h0M174.5 213.7h0M177.0 218.2h0M180.0 220.8h0M183.4 221.7h0M187.1 220.6h0M190.9 217.7h0M194.7 213.2h0M198.3 207.2h0M201.6 199.9h0M204.5 191.6h0M206.9 182.7h0M208.7 173.4h0M209.9 164.1h0M210.3 155.1h0M209.9 146.8h0M208.8 139.4h0M207.0 133.4h0M204.6 128.9h0M201.5 126.2h0M198.1 125.3h0M194.3 126.5h0M190.3 129.6h0M186.4 134.6h0M182.6 141.2h0M179.1 149.2h0M176.2 158.2h0M173.9 167.9h0M172.2 177.7h0M171.4 187.4h0M171.4 196.5h0M172.2 204.6h0M173.7 211.3h0M175.9 216.5h0M178.7 220.0h0M182.0 221.6h0M185.5 221.3h0M189.3 219.1h0M193.1 215.3h0M196.8 209.9h0M200.3 203.1h0M203.4 195.2h0M206.0 186.5h0M208.1 177.3h0M209.5 167.9h0M210.2 158.8h0M210.1 150.1h0M209.4 142.3h0M207.9 135.7h0M205.7 130.6h0M202.9 127.1h0M199.6 125.4h0M195.9 125.8h0M192.0 128.1h0M188.0 132.3h0M184.1 138.2h0M180.5 145.7h0M177.3 154.3h0M174.7 163.8h0M172.8 173.6h0M171.7 183.4h0M171.3 192.8h0M171.7 201.3h0M173.0 208.7h0M174.9 214.6h0M177.5 218.7h0M180.6 221.1h0M184.0 221.6h0M187.7 220.2h0M191.5 217.1h0M195.3 212.3h0M198.9 206.0h0M202.1 198.6h0M205.0 190.2h0M207.3 181.2h0M209.0 171.8h0M210.0 162.5h0M210.3 153.6h0M209.8 145.4h0M208.6 138.3h0M206.7 132.5h0M204.1 128.3h0M201.0 125.9h0M197.5 125.4h0M193.6 126.9h0M189.6 130.3h0M185.7 135.6h0M182.0 142.4h0M178.6 150.6h0M175.7 159.8h0M173.5 169.5h0M172.0 179.4h0M171.3 189.0h0M171.5 197.9h0M172.4 205.8h0M174.0 212.3h0M176.4 217.2h0M179.2 220.4h0M182.6 221.6h0M186.2 221.0h0M189.9 218.6h0M193.7 214.5h0M197.4 208.8h0M200.8 201.8h0M203.9 193.8h0M206.4 185.0h0M208.3 175.7h0M209.6 166.4h0M210.2 157.3h0M210.1 148.7h0M209.2 141.1h0M207.5 134.7h0M205.2 129.8h0M202.3 126.7h0M199.0 125.4h0M195.2 126.0h0M191.3 128.7h0M187.3 133.2h0M183.5 139.4h0M179.9 147.1h0M176.9 155.9h0M174.4 165.4h0M172.6 175.3h0M171.5 185.1h0M171.3 194.3h0M171.9 202.7h0M173.3 209.8h0M175.3 215.4h0M178.0 219.3h0M181.1 221.3h0M184.6 221.5h0M188.4 219.8h0M192.2 216.4h0M195.9 211.3h0M199.4 204.9h0M202.6 197.2h0M205.4 188.7h0M207.6 179.6h0M209.2 170.3h0M210.1 161.0h0M210.2 152.2h0M209.6 144.2h0M208.3 137.2h0M206.3 131.7h0M203.6 127.8h0M200.4 125.7h0M196.8 125.5h0M193.0 127.3h0M189.0 131.1h0M185.1 136.6h0M181.4 143.7h0M178.1 152.1h0M175.3 161.4h0M173.2 171.2h0M171.9 181.0h0M171.3 190.6h0M171.6 199.3h0M172.6 207.0h0M174.4 213.2h0M176.8 217.9h0M179.8 220.7h0M183.1 221.7h0M186.8 220.8h0M190.6 218.0h0M194.4 213.6h0M198.0 207.7h0M201.4 200.5h0M204.3 192.3h0M206.8 183.4h0M208.6 174.1h0M209.8 164.8h0M210.3 155.8h0M210.0 147.4h0M208.9 140.0h0M207.2 133.8h0M204.8 129.2h0M201.8 126.3h0M198.4 125.3h0M194.6 126.3h0M190.6 129.3h0M186.7 134.1h0M182.9 140.6h0M179.4 148.5h0M176.4 157.4h0M174.0 167.1h0M172.3 177.0h0M171.4 186.7h0M171.4 195.8h0M172.1 204.0h0M173.6 210.8h0M175.7 216.2h0M178.5 219.7h0M181.7 221.5h0M185.3 221.4h0M189.0 219.4h0M192.8 215.7h0M196.5 210.3h0M200.0 203.7h0M203.1 195.8h0M205.8 187.2h0M207.9 178.0h0M209.4 168.7h0M210.1 159.5h0M210.2 150.8h0M209.5 142.9h0M208.0 136.2h0M205.9 130.9h0M203.1 127.3h0M199.8 125.5h0M196.2 125.7h0M192.3 127.8h0M188.3 131.9h0M184.4 137.7h0M180.8 145.1h0M177.6 153.6h0M174.9 163.0h0M172.9 172.8h0M171.7 182.7h0M171.3 192.1h0M171.7 200.7h0M172.9 208.1h0M174.7 214.1h0M177.3 218.5h0M180.3 221.0h0M183.7 221.6h0M187.4 220.4h0M191.2 217.4h0M195.0 212.7h0M198.6 206.6h0M201.9 199.2h0M204.8 190.9h0M207.1 181.9h0M208.9 172.6h0M209.9 163.3h0M210.3 154.3h0M209.8 146.1h0M208.7 138.8h0M206.8 132.9h0M204.3 128.6h0M201.3 126.0h0M197.7 125.4h0M193.9 126.7h0M190.0 130.0h0M186.0 135.1h0M182.3 141.8h0M178.9 149.9h0M176.0 159.0h0M173.7 168.7h0M172.1 178.6h0M171.4 188.3h0M171.4 197.2h0M172.3 205.2h0M173.9 211.8h0M176.1 216.9h0M179.0 220.2h0M182.3 221.6h0M185.9 221.2h0M189.6 218.9h0M193.4 214.9h0M197.1 209.3h0M200.6 202.4h0M203.6 194.4h0M206.2 185.7h0M208.2 176.5h0" stroke="#2ca02c"/><path d="M240.7 132.3h0M224.8 130.3h0M218.2 125.9h0M213.3 122.0h0M209.0 119.3h0M204.7 118.1h0M200.4 118.5h0M196.1 120.6h0M191.7 124.4h0M187.4 129.9h0M183.4 136.9h0M179.8 145.2h0M176.6 154.4h0M174.1 164.3h0M172.3 174.4h0M171.3 184.4h0M171.0 193.8h0M171.6 202.3h0M173.0 209.5h0M175.0 215.2h0M177.6 219.2h0M180.8 221.4h0M184.3 221.7h0M188.0 220.2h0M191.8 216.9h0M195.6 211.9h0M199.2 205.5h0M202.4 198.0h0M205.2 189.5h0M207.4 180.4h0M209.1 171.1h0M210.0 161.8h0M210.2 152.9h0M209.7 144.8h0M208.4 137.8h0M206.5 132.1h0M203.9 128.0h0M200.7 125.8h0M197.2 125.4h0M193.3 127.1h0M189.3 130.7h0M185.4 136.1h0M181.7 143.0h0M178.4 151.3h0M175.5 160.5h0M173.4 170.3h0M172.0 180.2h0M171.3 189.7h0M171.5 198.6h0M172.5 206.4h0M174.2 212.8h0M176.6 217.5h0M179.5 220.5h0M182.8 221.7h0M186.5 220.9h0M190.3 218.3h0M194.0 214.1h0M197.7 208.3h0M201.1 201.2h0M204.1 193.1h0M206.6 184.2h0M208.5 175.0h0M209.7 165.6h0M210.2 156.6h0M210.0 148.1h0M209.1 140.6h0M207.4 134.3h0M205.0 129.5h0M202.1 126.5h0M198.7 125.3h0M194.9 126.2h0M191.0 129.0h0M187.0 133.6h0M183.2 140.0h0M179.7 147.7h0M176.6 156.6h0M174.2 166.2h0M172.5 176.1h0M171.5 185.8h0M171.3 195.0h0M172.0 203.3h0M173.4 210.3h0M175.5 215.8h0M178.2 219.5h0M181.4 221.4h0M184.9 221.4h0M188.7 219.6h0M192.5 216.0h0M196.2 210.9h0M199.7 204.3h0M202.9 196.6h0M205.6 188.0h0M207.8 178.9h0M209.3 169.5h0M210.1 160.3h0M210.2 151.5h0M209.5 143.6h0M208.2 136.7h0M206.1 131.3h0M203.4 127.5h0M200.2 125.6h0M196.5 125.6h0M192.6 127.6h0M188.7 131.5h0M184.8 137.1h0M181.1 144.3h0M177.8 152.8h0M175.1 162.2h0M173.1 172.0h0M171.8 181.8h0M171.3 191.3h0M171.6 200.0h0M172.7 207.5h0M174.5 213.7h0M177.0 218.2h0M180.0 220.8h0M183.4 221.7h0M187.1 220.6h0M190.9 217.7h0M194.7 213.2h0M198.3 207.2h0M201.6 199.9h0M204.5 191.6h0M206.9 182.7h0M208.7 173.4h0M209.9 164.1h0M210.3 155.1h0M209.9 146.8h0M208.8 139.4h0M207.0 133.4h0M204.6 128.9h0M201.5 126.2h0M198.1 125.3h0M194.3 126.5h0M190.3 129.6h0M186.4 134.6h0M182.6 141.2h0M179.1 149.2h0M176.2 158.2h0M173.9 167.9h0M172.2 177.7h0M171.4 187.4h0M171.4 196.5h0M172.2 204.6h0M173.7 211.3h0M175.9 216.5h0M178.7 220.0h0M182.0 221.6h0M185.5 221.3h0M189.3 219.1h0M193.1 215.3h0M196.8 209.9h0M200.3 203.1h0M203.4 195.2h0M206.0 186.5h0M208.1 177.3h0M209.5 167.9h0M210.2 158.8h0M210.1 150.1h0M209.4 142.3h0M207.9 135.7h0M205.7 130.6h0M202.9 127.1h0M199.6 125.4h0M195.9 125.8h0M192.0 128.1h0M188.0 132.3h0M184.1 138.2h0M180.5 145.7h0M177.3 154.3h0M174.7 163.8h0M172.8 173.6h0M171.7 183.4h0M171.3 192.8h0M171.7 201.3h0M173.0 208.7h0M174.9 214.6h0M177.5 218.7h0M180.6 221.1h0M184.0 221.6h0M187.7 220.2h0M191.5 217.1h0M195.3 212.3h0M198.9 206.0h0M202.1 198.6h0M205.0 190.2h0M207.3 181.2h0M209.0 171.8h0M210.0 162.5h0M210.3 153.6h0M209.8 145.4h0M208.6 138.3h0M206.7 132.5h0M204.1 128.3h0M201.0 125.9h0M197.5 125.4h0M193.6 126.9h0M189.6 130.3h0M185.7 135.6h0M182.0 142.4h0M178.6 150.6h0M175.7 159.8h0M173.5 169.5h0M172.0 179.4h0M171.3 189.0h0M171.5 197.9h0M172.4 205.8h0M174.0 212.3h0M176.4 217.2h0M179.2 220.4h0M182.6 221.6h0M186.2 221.0h0M189.9 218.6h0M193.7 214.5h0M197.4 208.8h0M200.8 201.8h0M203.9 193.8h0M206.4 185.0h0M208.3 175.7h0M209.6 166.4h0M210.2 157.3h0M210.1 148.7h0M209.2 141.1h0M207.5 134.7h0M205.2 129.8h0M202.3 126.7h0M199.0 125.4h0M195.2 126.0h0M191.3 128.7h0M187.3 133.2h0M183.5 139.4h0M179.9 147.1h0M176.9 155.9h0M174.4 165.4h0M172.6 175.3h0M171.5 185.1h0M171.3 194.3h0M171.9 202.7h0M173.3 209.8h0M175.3 215.4h0M178.0 219.3h0M181.1 221.3h0M184.6 221.5h0M188.4 219.8h0M192.2 216.4h0M195.9 211.3h0M199.4 204.9h0M202.6 197.2h0M205.4 188.7h0M207.6 179.6h0M209.2 170.3h0M210.1 161.0h0M210.2 152.2h0M209.6 144.2h0M208.3 137.2h0M206.3 131.7h0M203.6 127.8h0M200.4 125.7h0M196.8 125.5h0M193.0 127.3h0M189.0 131.1h0M185.1 136.6h0M181.4 143.7h0M178.1 152.1h0M175.3 161.4h0M173.2 171.2h0M171.9 181.0h0M171.3 190.6h0M171.6 199.3h0M172.6 207.0h0M174.4 213.2h0M176.8 217.9h0M179.8 220.7h0M183.1 221.7h0M186.8 220.8h0M190.6 218.0h0M194.4 213.6h0M198.0 207.7h0M201.4 200.5h0M204.3 192.3h0M206.8 183.4h0M208.6 174.1h0M209.8 164.8h0M210.3 155.8h0M210.0 147.4h0M208.9 140.0h0M207.2 133.8h0M204.8 129.2h0M201.8 126.3h0M198.4 125.3h0M194.6 126.3h0M190.6 129.3h0M186.7 134.1h0M182.9 140.6h0M179.4 148.5h0M176.4 157.4h0M174.0 167.1h0M172.3 177.0h0M171.4 186.7h0M171.4 195.8h0M172.1 204.0h0M173.6 210.8h0M175.7 216.2h0M178.5 219.7h0M181.7 221.5h0M185.3 221.4h0M189.0 219.4h0M192.8 215.7h0M196.5 210.3h0M200.0 203.7h0M203.1 195.8h0M205.8 187.2h0M207.9 178.0h0M209.4 168.7h0M210.1 159.5h0M210.2 150.8h0M209.5 142.9h0M208.0 136.2h0M205.9 130.9h0M203.1 127.3h0M199.8 125.5h0M196.2 125.7h0M192.3 127.8h0M188.3 131.9h0M184.4 137.7h0M180.8 145.1h0M177.6 153.6h0M174.9 163.0h0M172.9 172.8h0M171.7 182.7h0M171.3 192.1h0M171.7 200.7h0M172.9 208.1h0M174.7 214.1h0M177.3 218.5h0M180.3 221.0h0M183.7 221.6h0M187.4 220.4h0M191.2 217.4h0M195.0 212.7h0M198.6 206.6h0M201.9 199.2h0M204.8 190.9h0M207.1 181.9h0M208.9 172.6h0M209.9 163.3h0M210.3 154.3h0M209.8 146.1h0M208.7 138.8h0M206.8 132.9h0M204.3 128.6h0M201.3 126.0h0M197.7 125.4h0M193.9 126.7h0M190.0 130.0h0M186.0 135.1h0M182.3 141.8h0M178.9 149.9h0M176.0 159.0h0M173.7 168.7h0M172.1 178.6h0M171.4 188.3h0M171.4 197.2h0M172.3 205.2h0M173.9 211.8h0M176.1 216.9h0M179.0 220.2h0M182.3 221.6h0M185.9 221.2h0M189.6 218.9h0M193.4 214.9h0M197.1 209.3h0M200.6 202.4h0M203.6 194.4h0M206.2 185.7h0M208.2 176.5h0" stroke="#d62728"/></g><g fill="none" stroke-width="2.8" stroke-linecap="square" stroke-linejoin="round"><path d="M118.3 422.3 110.4 424.3 104.4 425.5 98.9 426.2 88.5 427.1 84.5 427.7 80.0 429.2 78.0 430.1 75.9 431.4 73.9 433.0 72.1 434.7 68.8 438.9 66.1 443.9 64.2 449.4 63.5 453.4 63.3 457.2 63.7 460.4 64.8 462.7 65.9 463.6 67.1 463.9 68.5 463.3 69.8 462.1 70.6 460.8 71.2 459.3 71.6 457.6 71.7 456.1 71.3 454.3 70.8 453.9 70.3 453.8 69.4 454.4 68.8 455.7 68.7 456.8 68.9 457.5 69.2 457.6 69.6 457.3 69.8 456.4 69.6 456.2 69.4 456.5 69.4 456.7 69.5 456.6" stroke="#1f77b4"/><path d="M126.7 424.4 119.1 426.3 112.4 427.4 106.8 428.0 96.9 428.5 92.8 429.0 90.5 429.5 88.1 430.4 85.9 431.4 83.9 432.7 81.8 434.4 79.8 436.4 78.0 438.7 76.3 441.1 74.8 443.9 73.5 446.9 72.4 449.9 71.6 453.0 70.9 457.8 70.9 462.0 71.7 465.4 72.4 466.8 73.2 467.7 73.9 468.2 74.7 468.5 75.6 468.4 76.4 468.2 78.1 467.0 79.7 464.8 80.7 462.6 81.4 460.3 81.6 457.9 81.4 456.0 80.9 454.8 80.2 454.1 79.3 454.1 78.3 454.6 77.6 455.4 77.0 456.5 76.4 459.1 76.7 460.8 77.1 461.2 77.6 461.3 78.4 460.7 79.0 459.4 79.1 458.2 78.8 457.5 78.3 457.6 77.9 458.1 77.8 459.3 78.0 459.5 78.2 459.4 78.5 458.7 78.3 458.4 78.1 458.8 78.1 459.0 78.2 458.8" stroke="#ff7f0e"/><path d="M135.2 426.4 127.8 428.2 121.3 429.2 115.3 429.7 105.0 429.7 101.0 430.1 98.7 430.6 96.4 431.4 94.3 432.4 92.1 433.8 89.8 435.7 87.7 437.9 85.6 440.5 83.8 443.3 82.2 446.5 80.8 449.7 79.7 453.2 78.9 456.8 78.2 462.4 78.3 464.9 78.5 467.2 79.1 469.3 79.8 471.0 80.7 472.3 81.8 473.2 82.8 473.5 83.9 473.5 85.1 473.2 86.2 472.5 87.4 471.5 88.4 470.2 90.3 466.8 91.4 463.4 91.9 460.0 91.8 456.9 91.0 454.6 89.9 453.4 89.2 453.2 88.5 453.2 86.9 454.0 85.5 455.8 84.4 457.9 83.8 460.2 83.5 462.5 83.8 464.5 84.4 465.8 85.2 466.4 86.3 466.3 87.3 465.5 88.2 464.3 88.9 462.7 89.2 461.0 89.3 459.4 89.0 458.2 88.5 457.5 87.8 457.2 87.1 457.5 86.4 458.2 85.8 459.3 85.2 461.7 85.3 462.7 85.6 463.4 86.0 463.8 86.6 463.8 87.5 462.8 88.1 461.1 88.0 459.7 87.8 459.2 87.4 459.1 86.7 459.5 86.1 460.7 86.1 461.9 86.4 462.5 87.0 462.3 87.4 461.6 87.6 460.7 87.4 460.1 87.0 460.1 86.6 460.5 86.5 461.2 86.6 461.7 86.8 461.8 87.1 461.6 87.3 460.7 87.1 460.5 86.9 460.6 86.7 461.3 86.9 461.4 87.1 461.0 87.0 460.8 86.8 461.1 86.9 461.3 86.9 461.1" stroke="#2ca02c"/><path d="M104.8 465.5 104.7 465.1 104.3 465.4 104.2 466.0 104.4 466.4 104.9 465.9 105.0 464.9 104.6 464.7 104.1 465.3 103.9 466.3 104.2 466.9 104.7 466.9 105.1 466.3 105.4 465.4 105.4 464.5 105.2 463.9 104.8 463.8 104.3 464.1 103.8 464.8 103.4 466.5 103.7 467.8 104.1 468.1 104.7 468.0 105.2 467.5 105.7 466.6 106.2 464.6 106.0 462.9 105.6 462.4 105.0 462.2 104.4 462.5 103.8 463.1 103.1 464.2 102.6 465.6 102.4 467.1 102.5 468.5 102.9 469.6 103.7 470.1 104.6 470.0 105.5 469.2 106.4 467.8 107.1 466.0 107.4 464.1 107.4 462.3 107.0 460.9 106.3 459.9 105.3 459.7 104.2 460.1 103.0 461.4 101.9 463.5 101.2 465.8 100.8 468.3 101.1 470.8 101.8 472.5 102.4 473.0 103.1 473.3 103.8 473.2 104.6 472.9 106.2 471.4 107.7 469.0 108.7 466.1 109.2 462.9 109.1 460.0 108.4 457.7 107.8 456.9 107.1 456.4 106.3 456.2 105.5 456.3 104.5 456.7 103.5 457.4 101.6 459.9 100.1 463.2 99.2 466.8 99.0 470.9 99.2 472.7 99.6 474.1 100.3 475.4 101.1 476.2 102.0 476.6 103.0 476.7 104.2 476.3 105.3 475.5 106.5 474.3 107.6 472.9 109.4 469.0 110.6 464.6 110.9 460.3 110.8 458.3 110.4 456.6 109.7 455.1 109.0 454.1 108.0 453.4 106.9 453.2 105.7 453.4 104.4 454.0 103.1 455.1 101.8 456.6 100.7 458.4 99.7 460.5 98.2 465.2 97.6 469.1 97.6 472.7 98.3 475.7 99.5 477.8 100.3 478.5 101.2 478.9 102.2 479.0 103.2 478.8 104.2 478.3 105.3 477.6 107.3 475.4 109.1 472.3 110.6 468.7 111.5 464.8 111.9 461.0 111.7 457.5 110.9 454.7 109.6 452.6 108.8 452.0 107.9 451.7 106.5 451.6 105.1 452.1 103.7 453.1 102.3 454.6 100.9 456.5 99.7 458.7 98.7 461.1 97.9 463.8 97.3 466.6 96.9 469.5 96.9 472.0 97.2 474.5 97.8 476.5 98.6 478.2 99.7 479.3 101.0 479.9 102.0 480.0 103.1 479.7 104.3 479.2 105.4 478.3 107.6 475.8 109.6 472.4 111.1 468.4 112.0 464.1 112.3 459.9 111.9 456.3 110.9 453.4 110.1 452.4 109.3 451.7 108.4 451.2 107.4 451.0 106.3 451.2 105.2 451.6 102.9 453.4 100.8 456.2 98.9 459.8 97.6 463.8 97.0 466.8 96.7 469.7 96.7 472.4 97.1 474.9 97.7 477.0 98.6 478.6 99.7 479.7 101.1 480.2 102.1 480.3 103.2 480.0 104.4 479.4 105.5 478.5 107.7 475.9 109.7 472.4 111.2 468.3 112.1 464.0 112.4 459.7 112.0 456.1 110.9 453.2 110.2 452.2 109.3 451.4 108.4 451.0 107.3 450.8 106.2 451.0 105.1 451.5 102.8 453.4 100.6 456.3 98.8 460.0 97.5 464.2 96.9 467.2 96.6 470.1 96.7 472.8 97.1 475.3 97.7 477.3 98.7 478.9 99.9 479.9 101.2 480.4 102.3 480.3 103.4 480.0 104.6 479.3 105.8 478.4 107.9 475.7 109.9 472.1 111.3 467.9 112.2 463.6 112.4 459.3 112.0 455.8 110.8 453.0 110.0 452.0 109.2 451.3 108.2 450.9 107.1 450.8 105.9 451.1 104.8 451.6 102.5 453.6 100.4 456.6 98.6 460.4 97.4 464.6 96.8 467.6 96.6 470.5 96.7 473.2 97.1 475.6 97.8 477.6 98.8 479.1 100.0 480.0 101.4 480.4 102.5 480.3 103.6 479.9 104.8 479.2 106.0 478.2 108.1 475.4 110.0 471.8 111.5 467.5 112.3 463.2 112.4 459.0 111.9 455.5 111.4 454.0 110.7 452.7 109.9 451.8 109.0 451.2 108.0 450.8 106.9 450.8 105.7 451.1 104.6 451.7 102.3 453.8 100.2 456.9 98.5 460.8 97.3 465.0 96.8 468.0 96.6 470.9 96.7 473.5 97.2 475.9 98.0 477.8 99.0 479.2 100.2 480.1 101.6 480.4 103.0 480.2 104.6 479.3 106.2 478.0 107.7 476.1 109.0 473.8 110.2 471.3 111.2 468.5 111.9 465.5" stroke="#d62728"/><path d="M152.2 430.6 144.2 432.3 137.8 433.0 132.2 432.9 121.8 431.9 117.3 432.1 114.6 432.7 112.0 433.7 109.6 435.1 107.1 437.0 103.8 440.3 100.8 444.4 98.1 449.3 95.9 454.6 94.2 460.3 93.2 465.9 92.9 471.4 93.3 476.1 94.3 480.0 95.0 481.5 95.9 482.8 96.9 483.8 98.0 484.5 99.2 484.9 100.5 484.9 101.7 484.7 103.1 484.1 104.4 483.2 105.8 482.0 108.3 478.8 110.5 474.7 112.3 469.8 113.5 464.6 113.8 459.7 113.4 455.2 112.9 453.4 112.2 451.8 111.4 450.5 110.4 449.6 109.3 449.0 108.0 448.8 106.7 449.0 105.3 449.6 103.0 451.4 100.8 454.3 98.8 457.9 97.3 462.0 96.3 466.4 95.9 470.7 96.2 474.6 97.0 477.8 98.3 480.0 99.2 480.7 100.1 481.2 101.1 481.4 102.1 481.3 103.2 481.0 104.4 480.3 106.5 478.4 108.6 475.5 110.4 471.9 111.7 468.0 112.5 463.8 112.8 459.7 112.4 456.2 111.5 453.3 110.8 452.1 110.0 451.2 109.1 450.6 108.2 450.3 107.1 450.3 106.1 450.5 103.9 451.8 101.8 454.0 99.9 457.0 98.3 460.6 97.2 464.7 96.5 468.6 96.5 472.4 96.9 475.6 98.0 478.3 99.4 480.0 100.2 480.4 101.2 480.7 102.2 480.6 103.2 480.3 105.3 479.0 107.3 476.8 109.2 473.7 110.8 470.1 111.9 466.2 112.5 462.2 112.5 458.6 112.0 455.3 110.9 452.9 110.2 451.9 109.4 451.2 108.6 450.8 107.6 450.6 106.6 450.7 105.5 451.1 103.5 452.5 101.4 454.9 99.6 457.9 98.2 461.5 97.1 465.4 96.6 469.3 96.6 472.9 97.2 476.0 98.2 478.4 99.7 479.9 100.6 480.3 101.5 480.5 103.5 480.1 105.6 478.6 107.6 476.3 109.4 473.2 110.8 469.7 111.9 465.8 112.4 461.8 112.4 458.3 111.8 455.1 110.8 452.8 110.0 451.8 109.2 451.2 108.4 450.9 107.4 450.7 105.4 451.2 103.3 452.7 101.3 455.1 99.6 458.2 98.1 461.8 97.1 465.6 96.6 469.5 96.7 473.1 97.3 476.1 98.3 478.5 99.8 479.9 100.7 480.3 101.6 480.4 103.6 479.9 105.7 478.4 107.7 476.1 109.5 473.0 110.9 469.4 111.9 465.5 112.4 461.6 112.4 458.1 111.8 455.1 110.7 452.7 110.0 451.8 109.2 451.2 108.3 450.9 107.4 450.8 105.3 451.3 103.3 452.8 101.3 455.2 99.5 458.3 98.1 461.9 97.1 465.7 96.6 469.6 96.7 473.1 97.3 476.2 98.4 478.5 99.9 480.0 100.7 480.3 101.7 480.4 103.7 479.9 105.8 478.4 107.7 476.0 109.5 473.0 110.9 469.5 111.9 465.6 112.4 461.6 112.4 458.1 111.8 455.1 110.7 452.8 110.0 451.9 109.2 451.3 108.3 450.9 107.4 450.8 105.4 451.3 103.3 452.8 101.3 455.2 99.5 458.2 98.1 461.8 97.1 465.7 96.6 469.5 96.7 473.1 97.3 476.2 98.4 478.5 99.8 479.9 100.7 480.3 101.6 480.4 103.6 479.9 105.8 478.4 107.7 476.1 109.5 473.0 110.9 469.5 111.9 465.6 112.4 461.7 112.4 458.2 111.8 455.0 110.7 452.7 109.2 451.3 108.3 450.9 107.4 450.8 105.4 451.3 103.3 452.8 101.3 455.1 99.6 458.2 98.1 461.8 97.1 465.6 96.6 469.5 96.7 473.1 97.3 476.1 98.3 478.5 99.8 479.9 100.7 480.3 101.6 480.4 103.6 479.9 105.7 478.4 107.7 476.1 109.5 472.9 111.0 469.3 111.9 465.5 112.4 461.6 112.3 458.1 111.7 455.0 110.7 452.7 109.2 451.2 108.3 450.9 107.4 450.8 105.3 451.3 103.3 452.8 101.3 455.2 99.5 458.3 98.1 461.9 97.1 465.7 96.6 469.6 96.7 473.1 97.3 476.2 98.4 478.5 99.9 479.9 100.7 480.3 101.7 480.4 103.7 479.9 105.8 478.4 107.7 476.0 109.5 473.0 110.9 469.5 111.9 465.6 112.4 461.6 112.4 458.1 111.7 455.0 110.7 452.7 109.2 451.3 108.3 450.9 107.4 450.8 105.4 451.3 103.3 452.8 101.3 455.2 99.5 458.2 98.1 461.8 97.1 465.7 96.6 469.5 96.7 473.1 97.3 476.2 98.4 478.5 99.9 479.9 100.7 480.3 101.7 480.4 103.6 479.9 105.8 478.4 107.7 476.0 109.5 472.9 111.0 469.2 111.9 465.5 112.4 461.5 112.3 458.0 111.7 454.9 110.6 452.6 109.1 451.2 108.3 450.9 107.3 450.8 105.3 451.3 103.2 452.8 101.3 455.2 99.5 458.3 98.1 461.9 97.1 465.8 96.6 469.6 96.7 473.2 97.3 476.2 98.4 478.5 99.9 480.0 100.8 480.3 101.7 480.4 103.7 479.9 105.8 478.3 107.8 476.0 109.5 472.9 111.0 469.3 111.9 465.5 112.4 461.6 112.3 458.1 111.7 455.0 110.7 452.7 109.2 451.2 108.3 450.9 107.3 450.8 105.3 451.3 103.3 452.8 101.3 455.2 99.5 458.3 98.1 461.9 97.1 465.8 96.6 469.6 96.7 473.2 97.3 476.2 98.4 478.5 99.9 479.9 100.7 480.3 101.7 480.4 103.7 479.9 105.8 478.4 107.7 476.0 109.5 473.0 110.9 469.5 111.9 465.5" stroke="#9467bd"/><path d="M122.7 470.1 122.6 469.6 122.3 469.7 121.8 470.9 122.0 471.8 122.5 472.0 123.3 471.2 124.0 469.6 124.1 467.6 123.6 466.2 123.0 465.8 122.2 465.8 121.4 466.3 120.6 467.3 119.6 469.2 118.8 471.5 118.4 473.9 118.4 476.2 118.9 478.8 119.4 479.7 120.1 480.4 120.8 480.8 121.7 480.9 122.6 480.7 123.5 480.3 124.7 479.3 125.9 478.0 128.1 474.3 129.7 469.8 130.7 465.0 130.9 462.2 130.9 459.4 130.5 456.9 129.9 454.8 129.0 453.0 127.9 451.8 126.6 451.0 125.1 450.7 123.2 451.1 121.3 452.1 119.3 453.8 117.3 456.2 115.5 459.2 113.9 462.4 112.5 466.0 111.4 469.8 110.6 474.4 110.2 478.7 110.2 482.8 110.8 486.5 111.7 489.6 113.1 492.0 114.9 493.7 116.8 494.5 117.9 494.6 119.2 494.4 121.5 493.4 124.1 491.5 126.5 488.9 128.8 485.4 130.9 481.5 132.7 476.9 134.0 472.3 135.0 467.3 135.5 462.7 135.5 458.1 135.1 454.1 134.1 450.7 132.8 447.9 131.0 445.9 129.0 444.8 127.8 444.6 126.5 444.6 124.0 445.4 121.4 447.1 118.9 449.7 116.3 453.2 114.1 457.2 112.2 461.7 110.6 466.5 109.5 471.5 108.9 476.6 108.8 481.5 109.2 486.0 110.2 489.7 111.7 492.7 113.6 494.7 114.7 495.4 115.8 495.8 117.5 495.9 119.5 495.5 121.5 494.5 123.5 493.0 125.4 491.0 127.3 488.6 129.1 485.7 130.8 482.5 132.2 479.1 133.5 475.4 134.5 471.7 135.2 467.9 135.7 464.1 135.8 460.5 135.7 457.1 135.3 453.9 134.5 451.1 133.6 448.7 132.3 446.8 130.9 445.5 129.3 444.6 127.6 444.3 125.7 444.6 123.8 445.3 121.7 446.7 119.8 448.4 117.8 450.8 116.1 453.4 114.3 456.6 112.8 459.9 111.4 463.6 110.4 467.2 109.4 472.2 108.8 477.3 108.8 482.2 109.3 486.5 110.4 490.2 111.9 493.0 113.8 495.0 114.9 495.6 116.1 495.9 117.9 495.9 119.8 495.4 121.8 494.3 123.8 492.7 125.8 490.6 127.7 488.1 129.4 485.2 131.1 481.9 132.5 478.4 133.7 474.8 134.6 471.0 135.3 467.2 135.7 463.4 135.8 459.8 135.6 456.5 135.2 453.4 134.4 450.7 133.4 448.4 132.1 446.5 130.7 445.3 129.0 444.5 127.3 444.3 125.3 444.7 123.4 445.5 121.4 447.0 119.5 448.8 117.5 451.3 115.7 454.0 114.0 457.2 112.6 460.5 111.3 464.0 110.2 467.9 109.2 472.9 108.7 478.0 108.8 482.8 109.4 487.1 110.5 490.6 112.1 493.4 113.1 494.4 114.1 495.1 115.3 495.7 116.4 495.9 118.2 495.9 120.2 495.3 122.2 494.1 124.2 492.4 126.1 490.2 128.0 487.6 129.8 484.6 131.3 481.3 132.7 477.8 133.9 474.1 134.8 470.3 135.4 466.5 135.8 462.8 135.8 459.2 135.6 455.9 135.0 452.9 134.2 450.2 133.1 448.0 131.8 446.3 130.4 445.1 128.7 444.5 126.9 444.3 125.0 444.8 123.1 445.7 121.0 447.3 119.1 449.2 117.1 451.8 115.4 454.5 113.7 457.8 112.3 461.2 111.1 464.7 110.1 468.6 109.1 473.6 108.7 478.7 108.9 483.4 109.5 487.6 110.7 491.1 112.4 493.7 113.4 494.6 114.4 495.3 115.6 495.8 116.8 496.0 118.5 495.8 120.5 495.1 122.5 493.8 124.5 492.0 126.5 489.8 128.3 487.1 130.0 484.1 131.6 480.7 132.9 477.1 134.1 473.4 134.9 469.6 135.5 465.8 135.8 462.1 135.8 458.6 135.5 455.3 134.9 452.4 134.0 449.8 132.9 447.7 131.6 446.0 130.1 445.0 128.3 444.4 126.6 444.4 124.6 444.9 122.7 446.0 120.6 447.6 118.7 449.6 116.8 452.3 115.1 455.1 113.4 458.4 112.1 461.8 110.9 465.4 109.9 469.3 108.9 475.6 108.7 481.5 109.3 486.7 109.9 489.0 110.8 491.2 111.7 492.8 112.8 494.1 114.1 495.1 115.5 495.8 117.0 496.0 118.6 495.8 120.2 495.2 122.0 494.2 123.7 492.9 125.4 491.1 127.1 489.0 128.6 486.6 131.5 481.0 133.8 474.5 135.2 467.9 135.8 461.5 135.5 455.6 135.1 453.0 134.4 450.6 133.5 448.6 132.4 447.0 131.2 445.7 129.8 444.8 128.3 444.4 126.6 444.4 124.9 444.8 123.3 445.6 121.5 446.9 119.7 448.5 118.0 450.6 116.5 452.8 113.5 458.4 111.1 464.5 109.5 471.1 108.8 477.8 108.9 483.7 109.3 486.5 109.9 489.0 110.7 491.0 111.7 492.8 112.9 494.2 114.2 495.2 115.7 495.8 117.3 496.0 119.0 495.7 120.7 495.0 122.4 493.9 124.2 492.4 125.9 490.5 127.6 488.2 130.6 482.9 133.1 476.6 134.9 469.8 135.7 463.3 135.8 459.9 135.7 457.0 135.3 454.2 134.7 451.7 134.0 449.6 133.0 447.7 131.8 446.3 130.5 445.2 129.0 444.5 127.4 444.3 125.7 444.5 124.0 445.2 122.2 446.3 120.4 447.8 118.7 449.7 117.0 452.0 113.9 457.4 111.5 463.4 109.8 469.9 108.8 476.7 108.8 483.0 109.2 485.8 109.7 488.4 110.5 490.6 111.5 492.5 112.7 494.0 114.0 495.1 115.5 495.7 117.0 496.0 118.7 495.8 120.4 495.2 122.1 494.1 123.9 492.7 125.6 490.9 127.4 488.6 130.4 483.4 132.9 477.1 134.8 470.4 135.7 463.8 135.7 457.5 135.4 454.7 134.9 452.2 134.1 449.9 133.2 448.2 132.1 446.6 130.9 445.5 129.5 444.7 128.1 444.4 126.6 444.4 125.0 444.8 123.2 445.6 121.6 446.8 119.9 448.3 118.3 450.1 115.3 454.7 112.7 460.1 110.7 466.2 109.3 472.5 108.7 478.6 109.0 484.5 110.0 489.2 110.8 491.2 111.8 492.9 112.9 494.2 114.2 495.2 115.5 495.8 117.1 496.0 118.6 495.8 120.4 495.2 122.0 494.2 123.7 492.9 125.3 491.2 126.9 489.2 129.9 484.3 132.4 478.7 134.3 472.5 135.5 466.2 135.8 460.1 135.4 454.6 134.8 452.0 134.1 450.0 133.2 448.1 132.2 446.6 131.0 445.5 129.7 444.8 128.1 444.4 126.6 444.4 125.0 444.8 123.4 445.5 121.8 446.7 120.1 448.1 117.0 452.0 114.0 457.2 111.6 463.0 109.9 469.2 108.9 475.5 108.7 481.4 109.3 486.7 109.9 489.0 110.7 491.0 111.6 492.7 112.8 494.1 114.0 495.1 115.4 495.7 116.8 496.0 118.5 495.8 120.0 495.3 121.6 494.4 123.3 493.2 125.0 491.6 128.1 487.4 130.9 482.2 133.2 476.3 134.8 470.0" stroke="#8c564b"/><path d="M169.5 434.7 162.0 436.2 158.7 436.5 155.4 436.6 150.0 436.0 139.3 433.7 136.8 433.5 134.4 433.6 131.1 434.3 128.1 435.6 125.2 437.5 122.2 440.2 120.2 442.4 118.2 445.0 116.4 447.8 114.6 451.0 111.6 457.9 109.4 465.2 108.0 472.5 107.6 479.6 107.7 482.9 108.1 486.0 108.7 488.7 109.5 491.1 110.6 493.1 111.8 494.7 113.1 495.9 114.8 496.7 116.4 496.9 118.1 496.8 119.9 496.1 121.8 495.0 123.6 493.6 125.5 491.6 127.2 489.4 128.9 486.7 131.8 480.7 134.1 474.0 135.5 466.8 136.0 460.1 135.8 456.9 135.4 454.0 134.8 451.3 133.9 449.2 132.8 447.3 131.6 445.9 130.1 444.8 128.6 444.3 126.9 444.2 125.2 444.6 123.2 445.5 121.5 446.8 119.5 448.6 117.8 450.7 116.2 453.2 114.6 455.9 111.9 462.0 110.0 468.8 108.9 475.6 108.7 482.0 109.0 484.9 109.5 487.5 110.2 489.9 111.2 492.0 112.3 493.6 113.6 494.8 115.0 495.6 116.7 496.0 118.4 495.9 120.1 495.3 121.8 494.4 123.7 492.9 125.4 491.1 127.1 489.0 128.6 486.6 130.2 483.7 132.8 477.5 134.7 470.7 135.7 463.9 135.8 457.8 135.4 454.8 134.9 452.2 134.1 450.0 133.2 448.1 132.0 446.4 130.7 445.3 129.2 444.6 127.6 444.3 126.0 444.5 124.2 445.1 122.5 446.1 120.7 447.6 118.9 449.4 117.2 451.6 115.6 454.2 114.1 457.0 111.6 463.2 109.8 469.7 108.8 476.5 108.8 482.8 109.1 485.6 109.7 488.2 110.5 490.5 111.4 492.4 112.6 493.9 113.9 495.0 115.4 495.7 116.9 496.0 118.6 495.8 120.3 495.2 122.0 494.2 123.9 492.7 125.6 490.9 127.3 488.7 128.8 486.3 130.4 483.4 133.0 477.1 134.8 470.3 135.7 463.5 135.7 457.4 135.4 454.4 134.8 451.9 134.0 449.7 133.1 447.9 131.9 446.4 130.6 445.3 129.1 444.6 127.6 444.3 125.9 444.5 124.1 445.1 122.4 446.2 120.6 447.7 118.8 449.5 117.1 451.8 114.0 457.1 111.5 463.4 109.8 469.9 108.8 476.7 108.8 483.0 109.2 485.8 109.7 488.3 110.5 490.6 111.5 492.5 112.7 494.0 114.0 495.1 115.4 495.7 117.0 496.0 118.7 495.8 120.4 495.2 122.1 494.1 124.0 492.6 125.7 490.8 127.3 488.6 128.9 486.1 130.5 483.2 133.0 476.9 134.8 470.1 135.7 463.4 135.7 457.3 135.3 454.3 134.8 451.8 134.0 449.6 133.0 447.8 131.8 446.3 130.5 445.2 129.1 444.6 127.5 444.3 125.8 444.5 124.1 445.2 122.3 446.3 120.5 447.8 118.7 449.6 117.1 451.9 114.0 457.3 111.4 463.6 109.7 470.1 108.8 476.6 108.8 482.9 109.1 485.7 109.7 488.3 110.5 490.5 111.5 492.4 112.6 493.9 113.9 495.0 115.4 495.7 117.0 496.0 118.6 495.8 120.3 495.2 122.1 494.2 124.0 492.6 125.7 490.8 127.3 488.7 128.9 486.2 130.4 483.3 133.0 477.0 134.8 470.2 135.7 463.4 135.7 457.3 135.3 454.4 134.8 451.9 134.0 449.7 133.0 447.8 131.9 446.3 130.6 445.2 129.1 444.6 127.5 444.3 125.8 444.5 124.1 445.2 122.3 446.2 120.5 447.7 118.8 449.6 117.1 451.8 114.0 457.2 111.5 463.5 109.8 470.0 108.8 476.8 108.8 483.0 109.2 485.9 109.7 488.4 110.5 490.6 111.5 492.5 112.7 494.0 114.0 495.1 115.5 495.7 117.1 496.0 118.7 495.8 120.4 495.1 122.2 494.1 124.0 492.5 125.7 490.7 127.4 488.5 129.0 486.1 130.5 483.1 133.0 476.8 134.8 470.1 135.7 463.3 135.7 457.2 135.3 454.2 134.7 451.8 134.0 449.6 133.0 447.7 131.8 446.3 130.5 445.2 129.0 444.5 127.4 444.3 125.7 444.5 124.0 445.2 122.2 446.3 120.5 447.8 118.7 449.7 117.0 451.9 113.9 457.4 111.4 463.7 109.7 470.2 108.8 476.7 108.8 483.0 109.2 485.8 109.7 488.3 110.5 490.6 111.5 492.5 112.7 494.0 114.0 495.1 115.4 495.7 117.0 496.0 118.7 495.8 120.4 495.2 122.1 494.1 124.0 492.6 125.7 490.7 127.4 488.6 128.9 486.1 130.5 483.2 133.0 476.9 134.8 470.1 135.7 463.4 135.7 457.3 135.3 454.3 134.8 451.8 134.0 449.6 133.0 447.8 131.8 446.3 130.5 445.2 129.1 444.6 127.5 444.3 125.8 444.5 124.0 445.2 122.3 446.3 120.5 447.8 118.7 449.6 117.0 451.9 114.0 457.3 111.4 463.6 109.7 470.1 108.8 476.6 108.8 482.9 109.1 485.7 109.7 488.3 110.5 490.5 111.5 492.4 112.6 493.9 114.0 495.0 115.4 495.7 117.0 496.0 118.6 495.8 120.3 495.2 122.1 494.2 124.0 492.6 125.7 490.8 127.3 488.6 128.9 486.2 130.4 483.3 133.0 477.0 134.8 470.2 135.7 463.4 135.7 457.3 135.3 454.4 134.8 451.9 134.0 449.7 133.0 447.8 131.9 446.3 130.6 445.2 129.1 444.6 127.5 444.3 125.8 444.5 124.1 445.2 122.3 446.2 120.5 447.7 118.8 449.6 117.1 451.8 114.0 457.2 111.5 463.5 109.8 470.0 108.8 476.8 108.8 483.0 109.2 485.9 109.7 488.4 110.5 490.6 111.5 492.5 112.7 494.0 114.0 495.1 115.5 495.7 117.1 496.0 118.7 495.8 120.4 495.1 122.2 494.1 124.0 492.5 125.8 490.7 127.4 488.5 129.0 486.1 130.5 483.1 133.0 476.8 134.8 470.0 135.7 463.3 135.7 457.2 135.3 454.2 134.7 451.7 134.0 449.6 133.0 447.7 131.8 446.3 130.5 445.2 129.0 444.5 127.4 444.3 125.7 444.5 124.0 445.2 122.2 446.3 120.4 447.8 118.7 449.7 117.0 452.0 113.9 457.4 111.4 463.7 109.7 470.2 108.8 476.7 108.8 483.0 109.2 485.8 109.7 488.4 110.5 490.6 111.5 492.5 112.7 494.0 114.0 495.1 115.5 495.7 117.0 496.0 118.7 495.8 120.4 495.2 122.1 494.1 124.0 492.6 125.7 490.7 127.4 488.6 128.9 486.1 130.5 483.2 133.0 476.9 134.8 470.1 135.7 463.3 135.7 457.3 135.3 454.3 134.8 451.8 134.0 449.6 133.0 447.8 131.8 446.3 130.5 445.2 129.0 444.6 127.5 444.3 125.8 444.5 124.0 445.2 122.3 446.3 120.5 447.8 118.7 449.6 117.0 451.9 114.0 457.3 111.4 463.6 109.7 470.1 108.8 476.6 108.8 482.9 109.1 485.7 109.7 488.3 110.5 490.5 111.5 492.4 112.6 493.9 114.0 495.0 115.4 495.7 117.0 496.0 118.6 495.8 120.4 495.2 122.1 494.1 124.0 492.6 125.7 490.8 127.3 488.6 128.9 486.2 130.4 483.3 133.0 477.0 134.8 470.2 135.7 463.4 135.7 457.3 135.3 454.4 134.8 451.9 134.0 449.7 133.0 447.8 131.9 446.3 130.5 445.2 129.1 444.6 127.5 444.3 125.8 444.5 124.1 445.2 122.3 446.2 120.5 447.7 118.8 449.6 117.1 451.8 114.0 457.2 111.5 463.5 109.7 470.0 108.8 476.8 108.8 483.1 109.2 485.9 109.7 488.4 110.5 490.6 111.5 492.5 112.7 494.0 114.0 495.1 115.5 495.7 117.1 496.0 118.7 495.8 120.4 495.1 122.2 494.1 124.1 492.5 125.8 490.7 127.4 488.5 129.0 486.1 130.5 483.1 133.1 476.8 134.8 470.0" stroke="#e377c2"/><path d="M140.8 474.8 140.6 474.0 140.0 474.4 139.5 475.4 139.3 476.8 139.6 478.7 140.0 479.2 140.5 479.5 141.5 479.2 142.5 478.4 143.6 477.0 144.5 475.2 145.6 472.3 146.2 469.0 146.4 465.8 146.2 462.7 145.7 460.9 145.1 459.3 144.2 458.1 143.1 457.3 141.9 456.9 140.7 456.9 139.3 457.2 137.9 458.0 135.9 459.7 133.8 462.1 131.9 465.1 130.2 468.5 128.7 472.2 127.5 476.2 126.5 480.4 125.9 484.6 125.6 489.9 125.9 494.5 126.8 498.6 128.1 501.9 130.0 504.4 131.1 505.3 132.2 505.9 133.5 506.3 134.8 506.4 137.4 505.8 140.5 504.1 143.8 501.2 146.8 497.3 149.7 492.4 152.3 486.8 154.3 480.9 155.9 474.8 156.9 468.7 157.4 462.4 157.2 456.9 156.4 451.7 155.0 447.6 153.1 444.4 151.8 443.2 150.7 442.3 149.2 441.7 147.9 441.4 146.3 441.4 144.8 441.6 143.1 442.3 141.4 443.3 138.0 446.0 134.8 449.8 131.7 454.6 128.8 460.4 126.6 466.6 124.8 473.0 123.6 479.5 123.1 484.2 123.0 489.0 123.2 493.1 123.9 497.2 124.8 500.5 126.1 503.4 127.7 505.6 129.6 507.2 131.6 508.1 133.9 508.3 136.4 507.7 138.9 506.5 141.3 504.7 143.8 502.1 146.3 499.0 148.6 495.3 150.7 491.2 152.6 486.8 154.2 482.1 155.6 477.2 156.6 472.3 157.2 467.4 157.5 462.7 157.4 458.3 157.0 454.1 156.2 450.5 155.0 447.3 153.6 444.9 151.8 443.0 149.9 441.8 147.6 441.2 145.4 441.4 143.7 442.0 141.9 442.8 138.6 445.4 135.3 449.0 132.2 453.7 129.3 459.4 126.9 465.5 125.0 471.9 123.7 478.4 123.2 483.1 123.0 487.9 123.1 492.2 123.7 496.3 124.5 499.7 125.8 502.8 127.3 505.1 129.2 506.9 131.1 507.9 133.4 508.3 135.8 507.9 138.4 506.8 140.7 505.1 143.3 502.7 145.7 499.7 148.1 496.2 150.3 492.1 152.2 487.8 153.9 483.1 155.3 478.3 156.4 473.4 157.1 468.5 157.5 463.7 157.5 459.5 157.2 455.3 156.4 451.5 155.4 448.2 154.0 445.6 152.3 443.5 150.4 442.0 148.1 441.3 145.9 441.3 144.2 441.7 142.5 442.5 139.2 444.9 135.9 448.3 132.8 452.8 129.7 458.4 127.3 464.4 125.3 470.7 123.9 477.2 123.3 481.6 123.0 485.9 123.0 490.0 123.3 494.1 123.9 497.5 124.8 500.5 126.0 503.1 127.5 505.4 129.1 506.9 131.1 507.9 133.0 508.3 135.3 508.1 137.5 507.3 139.8 505.8 142.2 503.8 144.5 501.2 146.6 498.4 148.8 494.9 150.8 491.1 152.5 487.0 154.1 482.6 155.4 478.1 156.4 473.5 157.0 469.2 157.4 464.8 157.5 460.5 157.3 456.5 156.8 453.0 155.9 449.7 154.9 447.1 153.4 444.7 151.9 443.0 150.0 441.8 148.0 441.3 145.8 441.3 143.6 442.0 141.2 443.3 138.9 445.1 136.6 447.4 134.4 450.3 132.2 453.8 130.2 457.4 128.4 461.4 126.9 465.6 125.5 469.9 124.5 474.4 123.7 478.8 123.2 483.2 123.0 487.4 123.1 491.4 123.5 495.1 124.2 498.6 125.2 501.5 126.6 504.1 128.1 506.0 129.9 507.4 131.8 508.1 133.9 508.3 136.1 507.8 138.4 506.8 140.6 505.2 143.0 503.0 145.3 500.3 147.5 497.1 149.7 493.2 151.8 488.9 153.5 484.3 155.0 479.5 156.2 474.6 157.0 469.7 157.4 464.9 157.5 460.6 157.3 456.3 156.6 452.4 155.7 448.9 154.4 446.2 152.8 443.9 150.9 442.3 148.7 441.4 146.5 441.3 144.3 441.7 142.1 442.7 139.8 444.3 137.7 446.3 135.5 448.8 133.5 451.6 131.5 455.0 129.7 458.5 128.0 462.5 126.6 466.5 125.4 470.5 124.3 475.0 123.6 479.1 123.1 483.4 123.0 487.6 123.1 491.6 123.5 495.0 124.1 498.3 125.1 501.3 126.3 503.7 127.6 505.5 129.3 507.0 131.1 507.9 133.1 508.3 135.2 508.1 137.3 507.3 139.6 506.0 141.8 504.2 143.9 502.0 146.1 499.3 148.1 496.1 150.1 492.4 151.8 488.7 153.4 484.7 154.8 480.2 155.9 476.0 156.7 471.7 157.2 467.5 157.5 463.4 157.5 459.5 157.2 455.8 156.7 452.4 155.8 449.4 154.7 446.8 153.4 444.6 151.8 443.0 150.1 441.9 148.1 441.3 146.1 441.3 143.9 441.9 141.6 443.0 139.5 444.6 137.3 446.7 135.0 449.4 132.9 452.6 131.0 455.8 129.2 459.6 127.6 463.4 126.3 467.4 125.1 471.8 124.2 475.9 123.5 480.3 123.1 484.6 123.0 488.8 123.1 492.4 123.6 495.7 124.2 498.7 125.2 501.4 126.3 503.7 127.6 505.5 129.1 506.9 130.9 507.9 132.7 508.3 134.8 508.2 136.8 507.6 139.0 506.4 141.0 504.9 143.2 502.8 145.2 500.4 147.3 497.5 149.1 494.4 150.9 490.8 152.5 486.9 154.0 482.9 156.1 474.8 157.3 466.7 157.5 462.6 157.5 459.0 157.2 455.4 156.6 452.3 155.8 449.3 154.8 446.9 153.5 444.8 152.1 443.2 150.4 442.0 148.6 441.4 146.8 441.2 144.8 441.6 142.7 442.4 140.6 443.7 138.5 445.5 136.5 447.7 134.4 450.3 132.5 453.2 130.6 456.6 129.0 460.1 126.1 467.9 124.1 476.1 123.4 480.5 123.0 484.9 123.0 489.0 123.2 493.2 123.8 496.7 124.6 499.8 125.7 502.5 127.1 504.9 128.7 506.5 130.6 507.7 132.5 508.2 134.7 508.2 136.9 507.5 139.3 506.2 141.7 504.3 144.0 501.9 146.1 499.2 148.3 495.8 150.3 492.0 152.1 488.0 153.7 483.6 155.1 479.1 156.2 474.6 156.9 470.3 157.4 465.8 157.5 461.5 157.4 457.4 156.9 453.9 156.2 450.4 155.2 447.7 153.8 445.2 152.3 443.4 150.4 442.1 148.5 441.4 146.3 441.3 144.2 441.8 141.7 442.9 139.5 444.6 137.2 446.8 135.0 449.5 132.7 452.9 130.7 456.5 128.9 460.4 127.2 464.5 125.8 468.8 124.7 473.3 123.8 477.7 123.3 482.1 123.0 486.4 123.0 490.4 123.3 494.2 124.0 497.9 124.9 500.8 126.2 503.5 127.7 505.5 129.4 507.1 131.3 508.0 133.4 508.3 135.5 508.0 137.9 507.1 140.1 505.7 142.4 503.6 144.8 501.0 147.0 497.9 149.3 494.0 151.3 489.8 153.2 485.3 154.7 480.5 155.9 475.6 156.8 470.7 157.4 465.9 157.5 461.6 157.4 457.2 156.8 453.2 155.9 449.6 154.7 446.8 153.2 444.4 151.3 442.6 149.2 441.5 147.0 441.2 144.7 441.6 142.5 442.5 140.2 444.0 138.0 446.0 135.5 448.8 133.4 451.8 131.3 455.2 129.5 459.0 127.8 463.1 126.3 467.4 125.1 471.8 124.0 476.6 123.4 481.0 123.0 485.3 123.0 489.4 123.3 493.5 123.8 497.0 124.8 500.3 125.9 503.0 127.4 505.2 129.0 506.8 130.9 507.9 132.9 508.3 135.1 508.1 137.3 507.3 139.7 506.0 142.1 504.0 144.4 501.4 146.5 498.6 148.6 495.2 150.6 491.4 152.4 487.2 154.0 482.9 155.3 478.4 156.3 473.8 157.0 469.5 157.4 465.1 157.5 460.8 157.3 456.7 156.8 453.2 156.0 449.9 154.9 447.2 153.5 444.8 152.0 443.1 150.1 441.9 148.2 441.3 145.9 441.3 143.8 441.9 141.3 443.2 139.1 445.0 136.8 447.3 134.6 450.0 132.3 453.5 130.4 457.1 128.6 461.1 127.0 465.3 125.6 469.6 124.5 474.1 123.7 478.5 123.2 483.2 123.0 487.4 123.1 491.4 123.5 495.1 124.2 498.7 125.3 501.7 126.8 504.4 128.6 506.4 130.6 507.7 132.7 508.3 135.1 508.1 137.6 507.2 140.1 505.6 142.7 503.4 145.2 500.5 147.5 497.0 149.8 493.1 151.8 488.8 153.5 484.2 155.0 479.4 156.2 474.5" stroke="#7f7f7f"/><path d="M187.0 439.0 180.0 440.2 176.9 440.3 173.4 440.2 170.6 439.7 168.1 439.0 157.8 435.2 154.9 434.7 152.1 434.6 148.5 435.4 144.9 437.1 141.3 439.7 138.1 443.0 135.8 445.8 133.5 449.2 131.6 452.6 129.6 456.7 127.9 460.6 126.4 465.0 125.1 469.3 124.1 473.9 123.3 478.1 122.8 482.6 122.6 486.9 122.7 491.0 123.0 494.5 123.7 497.9 124.6 500.9 125.8 503.5 127.3 505.5 128.9 507.1 130.7 508.1 132.9 508.5 135.0 508.3 137.1 507.6 139.4 506.3 141.8 504.4 143.9 502.1 146.1 499.3 148.1 496.2 150.1 492.5 151.8 488.7 153.5 484.4 154.9 479.9 155.9 475.7 156.8 471.1 157.3 466.9 157.5 462.5 157.5 458.6 157.1 454.7 156.4 451.5 155.5 448.6 154.4 446.1 152.8 443.9 151.2 442.5 149.4 441.6 147.4 441.2 145.3 441.4 143.0 442.2 140.8 443.6 138.5 445.5 136.2 447.9 134.1 450.8 132.0 454.1 130.0 457.8 128.3 461.8 126.7 466.0 125.5 470.0 124.4 474.5 123.6 478.9 123.2 483.3 123.0 487.5 123.1 491.5 123.5 495.2 124.2 498.5 125.1 501.4 126.4 503.8 127.8 505.7 129.5 507.1 131.4 508.0 133.3 508.3 135.4 508.0 137.6 507.2 139.8 505.8 142.2 503.8 144.4 501.5 146.5 498.7 148.5 495.5 150.5 491.7 152.2 487.9 153.8 483.6 155.1 479.1 156.1 474.8 156.9 470.2 157.4 466.1 157.5 461.7 157.4 457.9 157.0 454.1 156.3 450.8 155.3 448.0 154.1 445.6 152.6 443.7 151.0 442.4 149.1 441.5 147.1 441.2 145.0 441.5 142.8 442.4 140.5 443.8 138.2 445.8 136.0 448.3 133.8 451.2 131.7 454.6 129.8 458.3 128.1 462.3 126.7 466.2 125.4 470.6 124.3 475.0 123.6 479.1 123.1 483.5 123.0 487.7 123.1 491.7 123.5 495.3 124.2 498.6 125.2 501.5 126.4 503.9 127.9 505.8 129.6 507.2 131.5 508.0 133.5 508.3 135.6 508.0 137.7 507.1 139.9 505.8 142.3 503.7 144.5 501.3 146.6 498.5 148.6 495.3 150.6 491.5 152.2 487.7 153.8 483.3 155.2 478.8 156.2 474.6 156.9 470.0 157.4 465.8 157.5 461.8 157.4 458.0 157.0 454.1 156.3 450.9 155.3 448.1 154.1 445.7 152.7 443.8 151.0 442.4 149.2 441.5 147.2 441.2 145.0 441.5 142.8 442.4 140.5 443.8 138.3 445.7 136.0 448.2 133.8 451.1 131.8 454.5 129.8 458.2 128.1 462.2 126.6 466.4 125.4 470.5 124.3 474.9 123.6 479.0 123.1 483.4 123.0 487.6 123.1 491.6 123.5 495.3 124.2 498.6 125.2 501.5 126.4 503.9 127.9 505.8 129.6 507.2 131.4 508.0 133.4 508.3 135.5 508.0 137.7 507.2 139.9 505.8 142.3 503.8 144.4 501.4 146.5 498.6 148.5 495.4 150.5 491.6 152.2 487.8 153.8 483.4 155.1 478.9 156.1 474.7 156.9 470.1 157.4 465.9 157.5 461.9 157.4 458.1 157.0 454.2 156.3 451.0 155.4 448.2 154.1 445.8 152.7 443.8 151.1 442.4 149.2 441.5 147.2 441.2 145.1 441.5 142.9 442.3 140.6 443.7 138.3 445.7 136.1 448.1 133.9 451.0 131.8 454.4 129.9 458.1 128.1 462.1 126.6 466.3 125.4 470.4 124.4 474.8 123.6 478.9 123.2 483.3 123.0 487.5 123.1 491.5 123.5 495.2 124.2 498.5 125.2 501.4 126.4 503.8 127.8 505.8 129.5 507.1 131.4 508.0 133.4 508.3 135.4 508.0 137.6 507.2 139.8 505.8 142.2 503.8 144.4 501.4 146.5 498.7 148.5 495.5 150.5 491.7 152.2 487.9 153.8 483.5 155.1 479.0 156.1 474.8 156.9 470.2 157.4 466.0 157.5 461.7 157.4 457.9 157.0 454.0 156.3 450.8 155.3 448.0 154.1 445.6 152.6 443.7 151.0 442.4 149.1 441.5 147.1 441.2 145.0 441.5 142.7 442.4 140.5 443.8 138.2 445.8 135.9 448.3 133.8 451.2 131.7 454.6 129.8 458.3 128.1 462.3 126.6 466.2 125.4 470.6 124.3 475.1 123.6 479.2 123.1 483.5 123.0 487.7 123.1 491.7 123.5 495.4 124.2 498.6 125.2 501.5 126.5 503.9 127.9 505.8 129.6 507.2 131.5 508.0 133.5 508.3 135.6 508.0 137.7 507.1 139.9 505.8 142.3 503.7 144.5 501.3 146.6 498.5 148.6 495.3 150.6 491.5 152.2 487.7 153.8 483.3 155.2 478.8 156.2 474.6 156.9 470.0 157.4 465.8 157.5 461.8 157.4 458.0 157.0 454.1 156.3 450.9 155.3 448.1 154.1 445.7 152.7 443.8 151.0 442.4 149.2 441.5 147.1 441.2 145.0 441.5 142.8 442.4 140.5 443.8 138.3 445.7 136.0 448.2 133.8 451.1 131.8 454.5 129.8 458.2 128.1 462.2 126.6 466.5 125.4 470.5 124.3 475.0 123.6 479.1 123.1 483.4 123.0 487.6 123.1 491.6 123.5 495.3 124.2 498.6 125.2 501.5 126.4 503.9 127.9 505.8 129.6 507.2 131.4 508.0 133.4 508.3 135.5 508.0 137.7 507.2 139.9 505.8 142.3 503.8 144.4 501.4 146.5 498.6 148.5 495.4 150.5 491.6 152.2 487.8 153.8 483.4 155.1 478.9 156.1 474.7 156.9 470.1 157.4 465.9 157.5 461.9 157.4 458.0 157.0 454.2 156.3 451.0 155.4 448.1 154.1 445.7 152.7 443.8 151.0 442.4 149.2 441.5 147.2 441.2 145.1 441.5 142.9 442.3 140.6 443.7 138.3 445.7 136.1 448.1 133.9 451.1 131.8 454.4 129.9 458.1 128.1 462.1 126.6 466.4 125.4 470.4 124.4 474.8 123.6 478.9 123.2 483.3 123.0 487.5 123.1 491.5 123.5 495.2 124.2 498.5 125.2 501.4 126.4 503.8 127.9 505.8 129.5 507.2 131.4 508.0 133.4 508.3 135.5 508.0 137.6 507.2 139.8 505.8 142.2 503.8 144.4 501.4 146.5 498.6 148.5 495.5 150.5 491.7 152.2 487.9 153.8 483.5 155.1 479.0 156.1 474.8 156.9 470.2 157.4 466.0 157.5 461.7 157.4 457.9 157.0 454.0 156.3 450.8 155.3 448.0 154.1 445.6 152.6 443.7 151.0 442.3 149.1 441.5 147.1 441.2 145.0 441.5 142.7 442.4 140.5 443.8 138.2 445.8 135.9 448.3 133.8 451.2 131.7 454.6 129.8 458.3 128.1 462.3 126.6 466.2 125.3 470.6 124.3 475.1 123.6 479.2 123.1 483.5 123.0 487.7 123.1 491.7 123.5 495.4 124.2 498.7 125.2 501.5 126.5 503.9 127.9 505.8 129.6 507.2 131.5 508.0 133.5 508.3 135.6 508.0 137.7 507.1 140.0 505.7 142.3 503.7 144.5 501.3 146.6 498.5 148.6 495.3 150.6 491.5 152.3 487.7 153.8 483.3 155.2 478.8 156.2 474.6 156.9 470.0 157.4 465.8 157.5 461.8 157.4 457.9 157.0 454.1 156.3 450.9 155.3 448.1 154.1 445.7 152.7 443.8 151.0 442.4 149.1 441.5 147.1 441.2 145.0 441.5 142.8 442.4 140.5 443.8 138.2 445.7 136.0 448.2 133.8 451.1 131.8 454.5 129.8 458.2 128.1 462.2 126.6 466.5 125.4 470.5 124.3 475.0 123.6 479.1 123.1 483.4 123.0 487.6 123.1 491.6 123.5 495.3 124.2 498.6 125.2 501.5 126.4 503.9 127.9 505.8 129.6 507.2 131.4 508.0 133.4 508.3 135.5 508.0 137.7 507.2 139.9 505.8 142.3 503.7 144.5 501.4 146.6 498.6 148.5 495.4 150.5 491.6 152.2 487.7 153.8 483.4 155.1 478.9 156.1 474.7 156.9 470.1 157.4 465.9 157.5 461.9 157.4 458.0 157.0 454.2 156.3 451.0 155.3 448.1 154.1 445.7 152.7 443.8 151.0 442.4 149.2 441.5 147.2 441.2 145.1 441.5 142.8 442.3 140.6 443.7 138.3 445.7 136.1 448.1 133.9 451.1 131.8 454.4 129.9 458.1 128.1 462.1 126.6 466.4 125.4 470.4 124.4 474.9 123.6 479.0 123.2 483.3 123.0 487.5 123.1 491.5 123.5 495.2 124.2 498.5 125.2 501.4 126.4 503.8 127.9 505.8 129.5 507.2 131.4 508.0 133.4 508.3 135.5 508.0 137.6 507.2 139.8 505.8 142.2 503.8 144.4 501.4 146.5 498.6 148.5 495.4 150.5 491.7 152.2 487.8 153.8 483.5 155.1 479.0 156.1 474.8 156.9 470.2 157.4 466.0 157.5 461.7 157.4 457.8 157.0 454.0 156.3 450.8 155.3 448.0 154.1 445.6 152.6 443.7 150.9 442.3 149.1 441.5 147.1 441.2 144.9 441.5 142.7 442.4 140.5 443.8 138.2 445.8 135.9 448.3 133.8 451.2 131.7 454.6 129.8 458.3 128.0 462.4 126.6 466.3 125.3 470.6 124.3 475.1 123.6 479.2 123.1 483.6 123.0 487.8 123.1 491.7 123.5 495.4 124.2 498.7 125.2 501.5 126.5 503.9 127.9 505.8 129.6 507.2 131.5 508.0 133.5 508.3 135.6 508.0 137.8 507.1 140.0 505.7 142.3 503.7 144.5 501.3 146.6 498.5 148.6 495.3 150.6 491.5 152.3 487.6 153.8 483.3 155.2 478.8 156.2 474.5" stroke="#bcbd22"/><path d="M159.2 479.5 159.2 478.8 158.9 478.4 158.5 478.4 158.0 478.8 157.1 480.4 156.4 482.6 156.2 484.6 156.2 486.5 156.6 488.2 157.2 489.5 157.8 490.3 158.6 490.8 159.4 491.0 160.3 491.0 162.4 490.1 164.6 488.1 166.2 486.1 167.7 483.5 169.2 480.6 170.4 477.5 171.5 474.1 172.4 470.5 173.4 463.5 173.6 458.5 173.2 454.2 172.3 450.3 171.0 447.3 169.3 444.9 167.2 443.5 165.9 443.0 164.8 442.9 162.1 443.2 160.2 444.0 158.5 445.0 154.9 448.1 151.4 452.4 148.1 457.8 145.0 464.4 142.5 471.2 140.5 478.5 139.2 485.7 138.6 491.3 138.4 496.6 138.7 501.5 139.4 506.3 140.4 510.2 141.9 513.7 143.7 516.2 145.9 518.1 148.3 519.1 151.0 519.2 153.8 518.5 156.7 517.0 159.7 514.6 162.7 511.5 165.5 507.7 168.2 503.3 170.7 498.4 172.9 493.1 174.8 487.5 176.3 481.7 177.5 475.9 178.3 470.2 178.6 464.6 178.6 459.7 178.1 454.8 177.2 450.4 175.9 446.7 174.3 443.9 172.2 441.6 170.0 440.2 167.4 439.5 164.8 439.8 162.8 440.4 160.8 441.5 158.7 442.9 156.9 444.5 153.0 448.9 149.4 454.5 145.9 461.3 143.1 468.6 140.8 476.3 139.2 484.0 138.6 489.7 138.3 495.1 138.4 500.1 139.0 505.1 140.0 509.2 141.4 512.8 143.1 515.6 145.2 517.7 147.5 518.9 150.1 519.3 153.0 518.9 155.9 517.6 158.7 515.6 161.6 512.7 164.5 509.1 167.3 504.9 169.8 500.2 172.1 495.0 174.1 489.5 175.8 483.8 177.1 478.0 178.1 472.2 178.6 466.5 178.6 461.2 178.3 456.2 177.5 451.6 176.3 447.7 174.8 444.7 172.8 442.1 170.6 440.4 168.0 439.6 165.4 439.6 163.4 440.2 161.4 441.1 159.4 442.4 157.6 443.9 153.7 448.1 150.0 453.4 146.4 460.1 143.5 467.3 141.2 474.9 139.5 482.7 138.7 487.9 138.3 493.0 138.3 497.9 138.6 502.4 139.3 506.5 140.3 510.1 141.6 513.2 143.2 515.7 145.0 517.5 147.1 518.8 149.4 519.3 151.9 519.1 154.5 518.3 157.0 516.8 159.6 514.8 162.3 511.9 164.8 508.7 167.4 504.7 169.6 500.6 171.8 495.8 173.7 490.8 175.4 485.5 176.7 480.0 177.7 475.0 178.3 469.7 178.6 464.8 178.6 459.9 178.2 455.6 177.4 451.5 176.4 448.0 175.1 445.1 173.4 442.8 171.6 441.1 169.4 440.0 167.1 439.5 164.7 439.8 162.1 440.7 159.5 442.3 156.8 444.6 154.1 447.5 151.6 450.9 149.1 454.9 146.8 459.3 144.7 464.1 142.9 469.1 141.4 474.0 140.1 479.3 139.2 484.6 138.5 489.8 138.3 494.8 138.4 499.6 138.8 503.9 139.6 507.9 140.7 511.3 142.1 514.2 143.8 516.4 145.8 518.1 147.9 519.0 150.2 519.3 152.8 518.9 155.4 517.9 157.9 516.2 160.5 513.9 163.2 510.8 165.7 507.4 168.2 503.3 170.5 498.7 172.6 493.8 174.4 488.6 176.0 483.3 177.2 477.8 178.0 472.4 178.5 467.1 178.7 462.1 178.4 457.3 177.8 453.3 176.9 449.4 175.6 446.3 174.0 443.5 172.2 441.6 170.0 440.2 167.8 439.6 165.3 439.7 162.8 440.4 159.9 442.0 157.3 444.2 154.6 446.9 152.0 450.3 149.4 454.5 147.0 458.9 144.9 463.6 143.0 468.6 141.4 473.8 140.2 479.1 139.2 484.5 138.6 489.7 138.3 494.7 138.4 499.4 138.8 503.8 139.7 508.1 140.8 511.5 142.3 514.5 144.1 516.7 146.2 518.3 148.4 519.1 150.9 519.3 153.4 518.8 156.1 517.4 158.7 515.6 161.4 512.9 164.1 509.6 166.7 505.8 169.2 501.5 171.4 496.8 173.4 491.7 175.1 486.5 176.5 481.1 177.6 475.6 178.3 470.3 178.6 465.4 178.6 460.5 178.2 455.8 177.5 451.6 176.5 448.2 175.0 445.1 173.4 442.7 171.3 440.9 169.2 439.9 166.7 439.5 164.2 439.9 161.6 441.0 159.0 442.7 156.1 445.3 153.5 448.3 150.9 451.9 148.5 456.0 146.2 460.5 144.2 465.4 142.4 470.5 140.9 475.7 139.8 481.1 138.9 486.4 138.4 491.5 138.3 496.8 138.5 501.4 139.1 505.6 140.0 509.3 141.4 512.8 142.9 515.4 144.9 517.4 147.0 518.7 149.4 519.3 151.8 519.2 154.5 518.3 157.0 516.8 159.8 514.6 162.4 511.9 165.0 508.4 167.6 504.4 169.9 500.0 172.1 495.1 174.0 490.0 175.6 484.7 176.9 479.3 177.8 473.8 178.4 468.5 178.7 463.4 178.5 458.9 178.0 454.4 177.2 450.6 176.0 447.1 174.6 444.3 172.7 442.0 170.8 440.5 168.4 439.7 166.0 439.6 164.1 439.9 162.1 440.7 160.1 441.9 158.2 443.3 154.3 447.3 150.6 452.4 147.0 459.0 144.0 466.0 141.5 473.6 139.7 481.3 138.8 487.0 138.4 492.6 138.3 497.8 138.7 503.0 139.5 507.3 140.7 511.3 142.3 514.4 144.3 516.9 146.4 518.4 149.0 519.3 151.7 519.2 154.6 518.2 157.4 516.6 160.3 514.1 163.3 510.8 166.1 506.9 168.7 502.3 171.1 497.3 173.3 492.0 175.1 486.3 176.6 480.5 177.7 474.7 178.4 469.0 178.7 463.5 178.5 458.3 177.9 453.6 176.9 449.4 175.5 446.0 173.7 443.2 171.6 441.1 169.2 439.9 166.6 439.5 164.0 440.0 161.4 441.1 158.7 442.9 156.0 445.4 153.2 448.7 150.7 452.3 148.3 456.5 146.0 461.0 144.0 465.9 142.3 471.0 140.8 476.3 139.7 481.6 138.8 486.9 138.4 492.0 138.3 496.9 138.6 501.9 139.2 506.0 140.2 509.7 141.4 512.9 143.0 515.4 144.8 517.4 146.8 518.6 149.1 519.3 151.6 519.2 154.1 518.4 156.9 516.9 159.5 514.9 162.2 512.0 164.7 508.9 167.3 504.9 169.5 500.8 171.7 496.1 173.5 491.4 175.2 486.1 176.6 480.7 177.6 475.6 178.3 470.3 178.6 465.4 178.6 460.4 178.3 456.1 177.6 451.9 176.5 448.4 175.2 445.5 173.6 443.0 171.6 441.1 169.5 440.0 167.3 439.5 164.8 439.8 162.2 440.7 159.6 442.2 156.9 444.5 154.3 447.3 151.7 450.8 149.2 454.7 146.9 459.1 145.0 463.5 143.1 468.5 141.6 473.3 140.3 478.6 139.3 483.9 138.6 489.2 138.3 494.2 138.4 499.0 138.8 503.4 139.5 507.4 140.6 510.9 142.0 513.8 143.6 516.2 145.5 517.9 147.6 518.9 149.9 519.3 152.5 519.0 155.1 518.0 157.8 516.3 160.4 514.0 163.1 511.0 165.6 507.6 168.1 503.5 170.3 499.3 172.4 494.4 174.2 489.2 175.8 483.9 177.1 478.5 178.0 473.0 178.5 467.7 178.7 462.6 178.5 457.9 177.9 453.8 177.0 449.8 175.8 446.6 174.2 443.8 172.4 441.8 170.3 440.3 168.0 439.6 165.4 439.6 162.9 440.4 160.1 441.9 157.4 444.0 154.7 446.8 152.1 450.1 149.5 454.3 147.1 458.6 145.0 463.4 143.1 468.4 141.5 473.6 140.2 478.9 139.2 484.2 138.6 489.4 138.3 494.5 138.4 499.2 138.8 503.6 139.6 507.9 140.7 511.3 142.3 514.4 144.0 516.6 146.1 518.3 148.3 519.1 150.8 519.3 153.2 518.8 156.0 517.5 158.6 515.7 161.3 513.1 164.0 509.8 166.6 506.0 169.1 501.7 171.3 497.0 173.3 492.0 175.0 486.7 176.4 481.3 177.5 475.9 178.3 470.5 178.6 465.6 178.6 460.7 178.3 456.0 177.5 451.8 176.5 448.3 175.1 445.2 173.5 442.8 171.4 441.0 169.3 439.9 166.8 439.5 164.3 439.9 161.6 441.0 158.9 442.8 156.0 445.4 153.4 448.4 150.8 452.0 148.4 456.1 146.2 460.7 144.2 465.5 142.4 470.6 140.9 475.9 139.7 481.2 138.9 486.5 138.4 491.7 138.3 497.0 138.5 501.6 139.1 505.7 140.1 509.5 141.4 512.9 143.0 515.4 145.0 517.5 147.0 518.7 149.4 519.3 151.8 519.2 154.5 518.3 157.1 516.8 159.9 514.5 162.4 511.8 165.1 508.3 167.6 504.3 170.0 499.8 172.1 495.0 174.0 489.8 175.6 484.5 176.9 479.1" stroke="#17becf"/><path d="M204.7 443.3 201.1 443.9 197.5 444.2 194.1 444.1 191.6 443.7 189.2 443.0 186.9 442.0 179.4 437.8 176.5 436.5 173.5 435.6 170.4 435.4 168.3 435.7 166.4 436.3 164.2 437.2 162.3 438.3 160.1 439.9 158.1 441.7 154.1 446.2 151.5 449.9 149.2 453.7 146.9 458.3 144.9 462.8 143.1 467.5 141.6 472.4 140.4 477.3 139.3 482.7 138.6 487.6 138.2 492.7 138.2 497.2 138.5 501.8 139.0 505.7 140.0 509.4 141.1 512.4 142.6 515.1 144.4 517.1 146.4 518.5 148.6 519.2 151.0 519.3 153.5 518.7 156.0 517.5 158.6 515.7 161.4 513.0 163.9 510.0 166.3 506.5 168.6 502.6 170.9 498.0 172.8 493.4 174.6 488.1 176.1 482.8 177.2 477.7 178.0 472.3 178.5 467.4 178.7 462.7 178.5 458.2 177.9 453.8 177.1 450.1 175.9 446.9 174.5 444.2 172.7 442.1 170.8 440.6 168.6 439.7 166.2 439.5 163.7 440.1 161.1 441.3 158.4 443.1 155.8 445.6 153.2 448.7 150.6 452.4 148.2 456.5 146.2 460.7 144.1 465.6 142.5 470.3 141.0 475.6 139.8 480.9 139.0 485.8 138.5 491.0 138.3 495.9 138.5 500.6 139.0 504.9 139.8 508.7 141.0 512.0 142.5 514.7 144.3 516.9 146.2 518.3 148.4 519.2 150.9 519.3 153.4 518.7 156.0 517.5 158.5 515.7 161.3 513.1 163.8 510.1 166.2 506.6 168.5 502.7 170.8 498.1 172.7 493.5 174.5 488.3 176.1 482.9 177.2 477.9 178.0 472.5 178.5 467.5 178.7 462.8 178.5 458.3 177.9 453.9 177.1 450.2 176.0 446.9 174.5 444.2 172.8 442.1 170.8 440.6 168.6 439.7 166.3 439.5 163.8 440.0 161.2 441.2 158.5 443.1 155.8 445.6 153.2 448.7 150.7 452.3 148.3 456.4 146.2 460.6 144.2 465.5 142.5 470.2 141.0 475.4 139.8 480.8 139.0 485.7 138.5 490.8 138.3 495.8 138.4 500.5 139.0 504.8 139.8 508.6 141.0 511.9 142.5 514.7 144.2 516.8 146.2 518.3 148.4 519.1 150.9 519.3 153.3 518.8 155.9 517.6 158.5 515.8 161.2 513.1 163.8 510.2 166.2 506.7 168.5 502.8 170.8 498.2 172.7 493.6 174.5 488.4 176.0 483.0 177.1 478.0 178.0 472.6 178.5 467.7 178.7 462.9 178.5 458.4 178.0 454.0 177.1 450.3 176.0 447.0 174.5 444.3 172.8 442.1 170.9 440.6 168.7 439.7 166.3 439.5 163.8 440.0 161.2 441.2 158.6 443.0 155.9 445.5 153.3 448.6 150.7 452.2 148.3 456.3 146.3 460.5 144.2 465.4 142.6 470.1 141.1 475.3 139.8 480.6 139.0 485.5 138.5 490.7 138.3 495.7 138.4 500.4 138.9 504.7 139.8 508.5 141.0 511.9 142.4 514.6 144.2 516.8 146.1 518.3 148.3 519.1 150.8 519.3 153.3 518.8 155.8 517.6 158.4 515.8 161.2 513.2 163.7 510.2 166.1 506.8 168.4 502.9 170.7 498.3 172.6 493.7 174.5 488.5 176.0 483.2 177.1 478.1 178.0 472.7 178.5 467.8 178.7 463.0 178.5 458.5 178.0 454.1 177.2 450.3 176.0 447.1 174.6 444.3 172.9 442.2 170.9 440.6 168.8 439.8 166.4 439.5 163.9 440.0 161.3 441.1 158.6 443.0 156.0 445.4 153.3 448.5 150.8 452.1 148.4 456.2 146.3 460.4 144.3 465.2 142.6 469.9 141.1 475.2 139.9 480.5 139.0 485.4 138.5 490.6 138.3 495.6 138.4 500.3 138.9 504.6 139.8 508.4 140.9 511.8 142.4 514.6 144.1 516.7 146.1 518.3 148.2 519.1 150.8 519.3 153.2 518.8 155.8 517.6 158.3 515.9 161.1 513.3 163.6 510.3 166.1 506.9 168.4 503.0 170.7 498.4 172.6 493.8 174.4 488.6 176.0 483.3 177.1 478.2 178.0 472.8 178.5 467.9 178.7 463.1 178.5 458.6 178.0 454.2 177.2 450.4 176.1 447.2 174.6 444.4 172.9 442.2 171.0 440.7 168.8 439.8 166.5 439.5 164.0 440.0 161.4 441.1 158.7 442.9 156.0 445.4 153.4 448.4 150.9 452.0 148.4 456.1 146.4 460.3 144.3 465.1 142.7 469.8 141.1 475.0 139.9 480.4 139.1 485.3 138.5 490.5 138.3 495.5 138.4 500.1 138.9 504.5 139.7 508.3 140.9 511.7 142.3 514.5 144.1 516.7 146.0 518.2 148.2 519.1 150.5 519.3 153.0 518.9 155.5 517.8 158.1 516.1 160.8 513.5 163.4 510.6 166.0 507.0 168.3 503.1 170.6 498.5 172.6 493.9 174.4 488.7 175.9 483.4 177.1 478.4 178.0 472.9 178.5 468.0 178.7 463.3 178.5 458.8 178.0 454.3 177.2 450.5 176.1 447.2 174.7 444.5 173.0 442.3 171.0 440.7 168.9 439.8 166.5 439.5 164.0 440.0 161.4 441.1 158.8 442.9 156.1 445.3 153.5 448.3 150.9 451.9 148.5 456.0 146.4 460.2 144.4 465.0 142.7 469.7 141.2 474.9 139.9 480.2 139.1 485.1 138.5 490.3 138.3 495.3 138.4 500.0 138.9 504.4 139.7 508.3 140.9 511.6 142.3 514.4 144.0 516.6 146.0 518.2 148.1 519.1 150.5 519.3 152.9 518.9 155.4 517.8 158.0 516.1 160.8 513.6 163.3 510.7 165.9 507.1 168.3 503.2 170.6 498.6 172.5 494.0 174.4 488.9 175.9 483.5 177.0 478.5 178.0 473.1 178.5 468.1 178.7 463.4 178.5 458.9 178.0 454.4 177.2 450.6 176.1 447.3 174.7 444.5 173.0 442.3 171.1 440.7 168.9 439.8 166.6 439.5 164.1 439.9 161.5 441.0 158.8 442.8 156.2 445.2 153.5 448.3 151.0 451.8 148.6 455.9 146.5 460.0 144.4 464.9 142.7 469.5 141.2 474.8 140.0 480.1 139.1 485.0 138.5 490.2 138.3 495.2 138.4 499.9 138.9 504.3 139.7 508.2 140.8 511.5 142.3 514.4 144.0 516.6 145.9 518.2 148.1 519.1 150.4 519.3 152.8 518.9 155.4 517.9 158.0 516.2 160.7 513.7 163.3 510.8 165.9 507.1 168.2 503.3 170.5 498.7 172.5 494.2 174.3 489.0 175.9 483.6 177.0 478.6 177.9 473.2 178.5 468.3 178.7 463.5 178.5 459.0 178.0 454.5 177.3 450.7 176.1 447.4 174.7 444.6 173.1 442.4 171.1 440.8 169.0 439.8 166.6 439.5 164.2 439.9 161.6 441.0 158.9 442.8 156.2 445.2 153.6 448.2 151.0 451.7 148.6 455.8 146.5 459.9 144.5 464.7 142.8 469.4 141.2 474.7 140.0 480.0 139.1 484.9 138.5 490.1 138.3 495.1 138.4 499.8 138.9 504.2 139.7 508.1 140.8 511.5 142.2 514.3 143.9 516.5 145.9 518.1 148.0 519.1 150.3 519.3 152.8 518.9 155.3 517.9 157.9 516.2 160.7 513.7 163.2 510.9 165.8 507.2 168.1 503.4 170.5 498.8 172.4 494.3 174.3 489.1 175.8 483.8 177.0 478.7 177.9 473.3 178.5 468.4 178.7 463.6 178.5 459.1 178.1 454.6 177.3 450.8 176.2 447.5 174.8 444.7 173.1 442.4 171.2 440.8 169.0 439.8 166.7 439.5 164.2 439.9 161.6 441.0 159.0 442.7 156.3 445.1 153.7 448.1 151.1 451.6 148.7 455.7 146.6 459.8 144.5 464.6 142.7 469.7 141.3 474.5 140.0 479.8 139.1 484.8 138.5 490.0 138.3 495.0 138.4 499.7 138.8 504.1 139.6 508.0 140.8 511.4 142.2 514.2 143.9 516.5 145.8 518.1 148.0 519.0 150.3 519.3 152.7 519.0 155.3 517.9 157.8 516.3 160.6 513.8 163.1 511.0 165.8 507.3 168.1 503.5 170.4 498.9 172.4 494.4 174.2 489.2 175.8 483.9 177.0 478.8 177.9 473.4 178.4 468.5 178.7 463.7 178.6 459.2 178.1 454.7 177.3 450.9 176.2 447.5 174.8 444.7 173.2 442.5 171.2 440.8 169.1 439.8 166.8 439.5 164.3 439.9 161.7 440.9 159.0 442.7 156.4 445.0 153.7 448.0 151.2 451.5 148.7 455.6 146.6 459.7 144.6 464.5 142.7 469.6 141.3 474.4 140.0 479.7 139.2 484.6 138.5 489.8 138.3 494.9 138.4 499.6 138.8 504.0 139.6 507.9 140.7 511.3 142.2 514.2 143.8 516.4 145.8 518.1 147.9 519.0 150.2 519.3 152.7 519.0 155.2 518.0 157.8 516.3 160.5 513.9 163.1 511.0 165.7 507.4 168.0 503.6 170.4 499.0 172.3 494.5 174.2 489.3 175.8 484.0 176.9 479.0 177.9 473.6 178.4 468.6 178.7 463.8 178.6 459.3 178.1 454.8 177.3 451.0 176.2 447.6 174.9 444.8 173.2 442.5 171.3 440.9 169.1 439.9 166.8 439.5 164.3 439.9 161.8 440.9 159.1 442.6 156.4 445.0 153.8 447.9 151.2 451.5 148.8 455.5 146.7 459.6 144.6 464.4 142.8 469.4 141.3 474.3 140.1 479.6 139.2 484.5 138.6 489.7 138.3 494.7 138.4 499.5 138.8 503.9 139.6 507.8 140.7 511.2 142.1 514.1 143.8 516.4 145.7 518.0 147.9 519.0 150.2 519.3 152.6 519.0 155.1 518.0 157.7 516.4 160.5 513.9 163.0 511.1 165.7 507.5 168.0 503.7 170.3 499.2 172.3 494.6 174.2 489.5 175.7 484.1 176.9 479.1" stroke="#1f77b4"/><path d="M177.7 484.3 177.8 483.4 177.5 482.7 177.0 482.6 176.2 483.0 174.8 485.0 173.4 488.1 172.6 491.2 172.0 494.6 171.9 497.8 172.1 501.0 172.6 503.3 173.3 505.2 174.2 506.8 175.3 508.0 176.6 508.7 178.0 508.9 179.5 508.7 181.1 508.1 183.6 506.4 186.2 503.5 188.7 500.0 191.0 495.8 193.2 490.9 195.0 485.6 196.5 479.9 197.7 474.1 198.5 466.4 198.5 459.4 197.8 453.1 196.3 447.8 195.3 445.5 194.2 443.5 192.9 441.9 191.5 440.6 189.9 439.7 188.2 439.1 186.4 438.9 184.7 439.1 182.6 439.7 180.3 440.8 178.0 442.3 176.0 444.1 173.7 446.5 171.6 449.0 167.5 455.2 163.7 462.5 160.4 470.7 157.7 479.5 155.8 488.4 154.8 494.8 154.4 501.1 154.4 506.9 154.9 512.7 155.9 517.4 157.4 521.8 159.2 525.0 161.5 527.5 163.9 529.0 165.3 529.5 166.8 529.7 168.3 529.6 169.9 529.3 173.2 527.9 176.3 525.8 179.6 522.6 182.8 518.7 185.9 514.0 188.8 508.7 191.5 502.9 193.9 496.7 195.8 490.2 197.4 483.6 198.6 477.0 199.3 470.5 199.5 464.4 199.3 458.6 198.5 453.3 197.3 448.8 195.7 444.9 193.6 441.9 191.3 440.0 189.9 439.2 188.5 438.8 185.7 438.7 183.1 439.3 180.4 440.6 177.7 442.5 174.9 445.1 172.2 448.2 169.5 451.9 166.9 456.1 164.5 460.8 162.3 465.8 160.2 471.0 158.6 476.1 157.1 481.7 155.9 487.3 155.1 492.9 154.5 498.3 154.3 503.5 154.5 508.4 155.0 512.9 155.8 517.0 156.9 520.6 158.3 523.6 160.0 526.1 161.9 527.9 164.2 529.2 166.6 529.7 169.2 529.5 171.8 528.6 174.6 527.0 177.3 524.9 180.2 522.0 182.8 518.8 185.5 514.8 187.8 510.6 190.2 505.8 192.3 501.0 194.2 495.5 195.9 489.9 197.3 484.2 198.4 478.5 199.1 473.2 199.5 467.8 199.5 462.9 199.2 458.0 198.6 453.8 197.6 449.7 196.4 446.4 194.8 443.5 193.0 441.3 190.8 439.7 188.6 438.9 186.2 438.7 183.6 439.1 180.9 440.3 178.2 442.1 175.4 444.5 172.7 447.6 170.0 451.2 167.4 455.3 164.9 459.8 162.7 464.8 160.6 470.0 158.8 475.5 157.3 481.0 156.1 486.7 155.0 493.2 154.5 499.5 154.4 505.5 154.8 511.4 155.6 516.3 157.0 520.8 158.7 524.2 160.9 527.0 163.3 528.7 164.6 529.3 166.1 529.6 167.5 529.7 169.2 529.5 172.4 528.3 175.5 526.4 178.8 523.5 182.0 519.7 185.2 515.2 187.8 510.8 190.4 505.5 192.5 500.3 194.6 494.4 196.4 488.3 197.7 482.6 198.7 476.4 199.3 470.8 199.5 465.0 199.4 459.9 198.8 454.9 197.9 450.7 196.6 446.8 195.0 443.7 193.1 441.4 190.9 439.7 188.5 438.8 185.8 438.7 183.0 439.3 180.1 440.8 177.1 443.0 174.1 445.9 171.2 449.5 168.5 453.4 165.8 458.1 163.3 463.4 161.0 469.0 159.1 474.4 157.6 480.0 156.2 486.1 155.2 492.1 154.6 498.0 154.3 503.2 154.5 508.6 155.1 513.4 156.0 517.8 157.3 521.5 158.9 524.6 160.8 527.0 163.0 528.6 165.5 529.5 168.1 529.6 170.8 529.0 173.8 527.5 176.7 525.4 179.8 522.4 182.6 519.0 185.5 514.6 188.1 510.1 190.7 504.8 192.8 499.6 194.8 493.7 196.5 487.5 197.8 481.8 198.8 475.7 199.3 470.1 199.5 464.4 199.3 459.3 198.8 454.7 197.9 450.5 196.5 446.6 194.9 443.6 193.0 441.3 190.8 439.7 188.3 438.8 185.7 438.7 182.9 439.4 179.9 440.9 177.0 443.1 174.0 446.1 171.0 449.7 168.2 454.0 165.5 458.8 163.0 464.1 160.7 469.7 158.9 475.2 157.4 480.7 156.0 486.8 155.1 492.9 154.5 498.8 154.3 504.4 154.6 509.6 155.2 514.4 156.2 518.6 157.6 522.2 159.3 525.1 161.3 527.4 163.5 528.9 166.0 529.6 168.6 529.6 171.4 528.8 174.4 527.1 177.3 524.9 180.4 521.7 183.2 518.2 186.1 513.8 188.6 509.2 191.1 503.8 193.2 498.5 195.2 492.5 196.8 486.4 198.0 480.6 198.9 474.5 199.4 469.0 199.5 463.3 199.3 458.3 198.6 453.8 197.6 449.7 196.2 445.9 194.5 443.1 192.5 440.9 190.3 439.4 187.8 438.7 185.1 438.8 182.3 439.6 179.3 441.3 176.3 443.7 173.4 446.8 170.4 450.5 167.8 454.6 165.1 459.5 162.7 464.8 160.4 470.5 158.7 475.9 157.2 481.5 155.9 487.6 155.0 493.7 154.5 499.5 154.4 504.6 154.6 509.9 155.3 514.6 156.3 518.8 157.7 522.4 159.4 525.3 161.4 527.5 163.6 528.9 166.1 529.6 168.8 529.5 171.5 528.7 174.6 527.0 177.5 524.7 180.5 521.6 183.3 518.0 186.2 513.5 188.7 508.9 191.2 503.5 193.3 498.2 195.3 492.2 196.9 486.1 198.1 480.3 199.0 474.2 199.4 468.7 199.5 463.0 199.2 458.1 198.5 453.2 197.5 449.2 196.0 445.5 194.3 442.7 192.3 440.7 190.0 439.3 187.5 438.7 184.7 438.8 181.9 439.8 178.9 441.5 176.0 444.0 173.0 447.2 170.0 451.1 167.2 455.5 164.6 460.5 162.2 465.9 160.0 471.7 158.3 477.2 156.9 482.8 155.7 488.9 154.8 494.9 154.4 500.7 154.4 506.2 154.8 511.3 155.5 515.8 156.6 519.9 158.1 523.3 159.9 526.0 162.0 528.0 164.3 529.2 166.8 529.7 169.5 529.4 172.3 528.4 175.4 526.5 178.3 524.0 181.3 520.6 184.1 516.9 186.9 512.3 189.4 507.5 191.9 502.0 193.9 496.6 195.7 490.6 197.3 484.4 198.3 478.7 199.1 472.6 199.5 467.2 199.5 461.6 199.1 456.7 198.3 452.3 197.2 448.4 195.7 444.9 193.9 442.3 191.8 440.3 189.5 439.1 186.9 438.7 184.2 439.0 181.3 440.1 178.3 442.0 175.3 444.6 172.4 448.0 169.5 452.0 166.9 456.2 164.3 461.2 161.9 466.7 159.8 472.4 158.1 478.0 156.7 483.6 155.5 489.7 154.8 495.6 154.4 501.4 154.4 506.4 154.8 511.5 155.6 516.1 156.7 520.1 158.2 523.4 160.0 526.1 162.1 528.0 164.4 529.2 167.0 529.7 169.7 529.4 172.5 528.3 175.6 526.3 178.4 523.8 181.5 520.4 184.2 516.6 187.1 512.0 189.5 507.3 192.0 501.8 194.0 496.3 195.8 490.3 197.3 484.1 198.4 478.4 199.2 472.3 199.5 466.9 199.5 461.3 199.1 456.5 198.2 451.8 197.1 448.0 195.5 444.5 193.6 442.0 191.5 440.1 189.2 439.0 186.6 438.6 183.8 439.1 180.9 440.3 177.9 442.3 174.9 445.0 172.0 448.4 169.1 452.5 166.3 457.2 163.8 462.3 161.4 467.8 159.5 473.2 157.7 479.2 156.4 484.8 155.3 490.9 154.7 496.9 154.4 502.6 154.5 507.9 155.0 512.9 155.9 517.3 157.2 521.3 158.8 524.5 160.7 526.9 162.9 528.6 165.5 529.5 168.1 529.6 171.1 528.9 174.2 527.3 177.3 524.9 180.1 522.0 183.1 518.3 186.0 513.8 188.7 508.9 191.2 503.5 193.5 497.7 195.4 491.7 197.0 485.6 198.2 479.4 199.1 473.3 199.5 467.4 199.5 462.2 199.1 457.0 198.3 452.2 197.1 448.1 195.6 444.8 193.7 442.0 191.6 440.1 189.0 439.0 186.4 438.7 183.4 439.2 180.5 440.5 177.6 442.6 174.6 445.4 171.6 448.9 168.7 453.1 166.0 457.8 163.4 463.0 161.1 468.6 159.1 474.4 157.4 480.5 156.1 486.6 155.1 492.6 154.5 498.5 154.3 504.1 154.6 509.8 155.2 514.5 156.3 518.7 157.6 522.3 159.5 525.4 161.5 527.6 164.0 529.1 166.5 529.6 169.3 529.4 172.1 528.5 175.2 526.6 178.3 524.0 181.4 520.6 184.3 516.5 187.2 511.9 189.8 506.8 192.2 501.2 194.3 495.3 196.1 489.3 197.5 483.1 198.6 476.9 199.3 470.9 199.5 465.1 199.4 459.7 198.8 455.0 197.9 450.5 196.6 446.8 194.9 443.6 193.0 441.3 190.6 439.6 188.1 438.8 185.2 438.8 182.4 439.6 179.2 441.3 176.2 443.7 173.3 446.9 170.3 450.7 167.3 455.4 164.7 460.4 162.2 465.8 160.1 471.6 158.2 477.5 156.7 483.6 155.5 489.7 154.8 495.7 154.4 501.4 154.4 506.9 154.8 511.9 155.7 516.7 157.0 520.9 158.9 524.5 161.0 527.1 162.1 528.0 163.5 528.9 164.8 529.4 166.4 529.6 167.8 529.7 169.5 529.4 172.7 528.2 176.0 526.0 179.3 522.9 182.6 519.0 185.7 514.4 188.6 509.1 191.3 503.4 193.7 497.2 195.8 490.3 197.4 483.7" stroke="#ff7f0e"/><path d="M222.7 447.6 219.3 448.1 216.0 448.2 212.9 447.9 210.5 447.3 208.3 446.3 206.2 445.1 199.0 439.6 196.0 437.8 192.7 436.5 189.3 436.1 187.0 436.4 184.8 437.0 182.5 438.1 180.1 439.6 177.8 441.5 175.4 443.7 173.1 446.4 170.8 449.4 167.9 453.9 165.4 458.4 163.1 463.3 161.0 468.6 159.2 474.0 157.6 479.6 156.3 485.2 155.3 490.9 154.7 496.4 154.3 501.7 154.4 506.7 154.8 511.7 155.5 515.9 156.6 519.7 157.9 522.9 159.7 525.7 161.7 527.7 164.0 529.1 166.5 529.7 169.2 529.5 171.9 528.6 174.8 526.9 177.7 524.6 180.5 521.6 183.3 518.0 186.0 513.9 188.5 509.3 191.1 503.9 193.2 498.6 195.1 492.7 196.8 486.5 198.0 480.8 198.9 474.7 199.4 469.2 199.5 463.4 199.3 458.5 198.6 453.6 197.6 449.5 196.2 446.0 194.6 443.1 192.6 440.9 190.4 439.5 187.9 438.7 185.2 438.8 182.4 439.6 179.4 441.2 176.4 443.6 173.7 446.4 170.7 450.1 167.9 454.4 165.2 459.3 162.9 464.2 160.7 469.8 158.9 475.3 157.2 481.3 155.9 487.4 155.1 493.0 154.5 498.9 154.4 504.5 154.6 509.7 155.2 514.1 156.2 518.4 157.5 522.0 159.2 525.0 161.2 527.3 163.4 528.8 165.8 529.6 168.5 529.6 171.2 528.9 174.1 527.4 176.9 525.2 180.0 522.2 182.8 518.7 185.7 514.3 188.3 509.8 190.8 504.5 193.0 499.2 195.0 493.2 196.6 487.1 197.9 481.4 198.8 475.3 199.4 469.7 199.5 464.0 199.3 459.0 198.7 454.0 197.7 449.9 196.4 446.4 194.8 443.4 192.8 441.1 190.6 439.6 188.1 438.8 185.5 438.7 182.7 439.5 179.7 441.0 176.7 443.3 173.7 446.3 170.8 450.0 168.0 454.3 165.3 459.2 163.0 464.1 160.7 469.7 158.9 475.1 157.2 481.2 155.9 487.3 155.1 492.9 154.5 498.7 154.3 504.3 154.6 509.6 155.2 514.0 156.1 518.3 157.5 521.9 159.1 524.9 161.1 527.2 163.3 528.8 165.8 529.6 168.4 529.6 171.1 528.9 174.0 527.4 176.9 525.3 179.9 522.2 182.8 518.8 185.7 514.4 188.2 509.9 190.8 504.6 192.9 499.3 194.9 493.4 196.6 487.3 197.9 481.5 198.8 475.4 199.4 469.8 199.5 464.1 199.3 459.1 198.7 454.1 197.7 450.0 196.4 446.4 194.8 443.5 192.9 441.2 190.7 439.6 188.2 438.8 185.5 438.7 182.7 439.5 179.8 441.0 176.8 443.2 173.8 446.2 170.9 449.9 168.0 454.2 165.3 459.0 163.0 463.9 160.8 469.6 158.9 475.0 157.3 481.0 156.0 487.1 155.1 492.7 154.5 498.6 154.3 504.2 154.6 509.5 155.1 513.9 156.1 518.2 157.4 521.8 159.1 524.9 161.1 527.2 163.3 528.7 165.7 529.6 168.3 529.6 171.1 528.9 173.9 527.5 176.8 525.3 179.9 522.3 182.7 518.9 185.6 514.5 188.2 510.0 190.7 504.7 192.9 499.5 194.9 493.5 196.6 487.4 197.8 481.7 198.8 475.5 199.3 470.0 199.5 464.2 199.3 459.2 198.7 454.2 197.8 450.1 196.5 446.5 194.8 443.5 192.9 441.2 190.7 439.6 188.3 438.8 185.6 438.7 182.8 439.4 179.9 440.9 176.9 443.2 173.9 446.1 170.9 449.8 168.1 454.1 165.4 458.9 163.1 463.8 160.8 469.4 159.0 474.8 157.3 480.9 156.0 487.0 155.1 492.6 154.5 498.5 154.3 504.1 154.6 509.3 155.1 513.8 156.1 518.1 157.4 521.8 159.0 524.8 161.0 527.1 163.2 528.7 165.6 529.5 168.3 529.6 171.0 528.9 173.8 527.5 176.7 525.4 179.8 522.4 182.6 519.0 185.5 514.6 188.1 510.1 190.7 504.8 192.8 499.6 194.8 493.7 196.5 487.5 197.8 481.8 198.8 475.7 199.3 470.1 199.5 464.4 199.3 459.3 198.7 454.3 197.8 450.2 196.5 446.6 194.9 443.6 193.0 441.3 190.8 439.7 188.3 438.8 185.7 438.7 182.9 439.4 179.9 440.9 177.0 443.1 174.0 446.1 171.0 449.7 168.2 454.0 165.5 458.8 163.1 463.7 160.9 469.3 159.0 474.7 157.5 480.3 156.1 486.4 155.2 492.0 154.6 497.9 154.4 503.1 154.5 508.4 155.0 512.9 155.9 517.3 157.1 521.2 158.7 524.3 160.6 526.8 162.8 528.5 165.2 529.5 167.8 529.7 170.5 529.1 173.3 527.8 176.2 525.8 179.3 522.9 182.1 519.6 185.1 515.4 187.7 511.0 190.3 505.8 192.4 500.5 194.5 494.7 196.3 488.6 197.6 482.8 198.6 476.7 199.3 471.1 199.5 465.3 199.4 460.2 198.9 455.1 198.0 450.9 196.8 447.2 195.2 444.1 193.3 441.6 191.2 439.9 188.8 438.9 186.2 438.7 183.4 439.2 180.5 440.5 177.5 442.6 174.5 445.5 171.5 449.0 168.7 453.2 165.9 457.9 163.6 462.7 161.3 468.2 159.4 473.6 157.6 479.7 156.2 485.8 155.3 491.4 154.6 497.3 154.4 503.0 154.5 508.3 155.0 512.8 155.9 517.2 157.1 521.1 158.7 524.2 160.6 526.7 162.7 528.5 165.1 529.4 167.7 529.7 170.4 529.1 173.3 527.9 176.1 525.9 179.2 523.0 182.1 519.7 185.0 515.5 187.6 511.1 190.2 505.9 192.4 500.7 194.5 494.8 196.2 488.7 197.6 483.0 198.6 476.8 199.3 471.2 199.5 465.4 199.4 460.3 198.9 455.2 198.0 451.0 196.8 447.3 195.2 444.2 193.4 441.7 191.2 439.9 188.8 438.9 186.2 438.7 183.4 439.2 180.5 440.5 177.6 442.6 174.6 445.4 171.6 448.9 168.7 453.1 166.0 457.8 163.6 462.6 161.3 468.1 159.4 473.5 157.7 479.5 156.3 485.6 155.3 491.2 154.6 497.1 154.4 502.8 154.5 508.2 155.0 512.7 155.8 517.1 157.1 521.0 158.6 524.2 160.5 526.7 162.7 528.4 165.1 529.4 167.7 529.7 170.4 529.2 173.2 527.9 176.1 525.9 179.2 523.1 182.0 519.8 184.9 515.6 187.5 511.2 190.1 506.0 192.3 500.8 194.4 494.9 196.2 488.8 197.5 483.1 198.6 477.0 199.2 471.4 199.5 465.5 199.4 460.4 198.9 455.3 198.0 451.1 196.8 447.4 195.3 444.2 193.4 441.7 191.3 440.0 188.9 438.9 186.3 438.7 183.5 439.2 180.6 440.5 177.6 442.5 174.6 445.3 171.7 448.8 168.8 453.0 166.1 457.7 163.7 462.4 161.4 468.0 159.5 473.3 157.7 479.4 156.3 485.5 155.3 491.1 154.6 497.0 154.4 502.7 154.5 508.0 154.9 512.6 155.8 517.0 157.0 520.9 158.6 524.1 160.5 526.6 162.6 528.4 165.0 529.4 167.6 529.7 170.3 529.2 173.1 527.9 176.0 526.0 179.1 523.2 181.9 519.9 184.9 515.7 187.5 511.3 190.1 506.1 192.3 500.9 194.4 495.1 196.2 489.0 197.5 483.3 198.6 477.1 199.2 471.5 199.5 465.7 199.4 460.6 198.9 455.5 198.1 451.2 196.9 447.4 195.3 444.3 193.5 441.8 191.3 440.0 189.0 438.9 186.4 438.7 183.6 439.1 180.7 440.4 177.7 442.5 174.7 445.3 171.8 448.7 168.9 452.9 166.1 457.5 163.8 462.3 161.4 467.8 159.5 473.2 157.7 479.2 156.3 485.3 155.3 490.9 154.7 496.9 154.4 502.6 154.5 507.9 154.9 512.5 155.8 516.9 157.0 520.8 158.6 524.0 160.4 526.6 162.6 528.3 165.0 529.4 167.5 529.7 170.2 529.2 173.1 528.0 175.9 526.1 179.0 523.2 181.9 520.0 184.8 515.8 187.4 511.4 190.0 506.2 192.2 501.1 194.3 495.2 196.1 489.1 197.5 483.4 198.6 477.2 199.2 471.6 199.5 465.8 199.4 460.7 198.9 455.6 198.1 451.3 196.9 447.5 195.4 444.4 193.5 441.8 191.4 440.0 189.0 439.0 186.4 438.7 183.7 439.1 180.8 440.4 177.8 442.4 174.8 445.2 171.8 448.6 168.9 452.7 166.2 457.4 163.8 462.2 161.5 467.7 159.6 473.1 157.8 479.1 156.4 485.2 155.4 490.8 154.7 496.7 154.4 502.4 154.5 507.8 154.9 512.4 155.7 516.8 157.0 520.7 158.5 524.0 160.4 526.5 162.5 528.3 164.9 529.4 167.5 529.7 170.2 529.2 173.0 528.0 175.9 526.1 178.9 523.3 181.8 520.0 184.7 515.9 187.3 511.5 190.0 506.4 192.2 501.2 194.3 495.3 196.1 489.3 197.5 483.5 198.5 477.4 199.2 471.8 199.5 465.9 199.4 460.8 198.9 455.7 198.1 451.4 196.9 447.6 195.4 444.4 193.6 441.9 191.5 440.1 189.1 439.0 186.5 438.7 183.7 439.1 180.8 440.3 177.9 442.4 174.9 445.1 171.9 448.5 169.0 452.6 166.3 457.3 163.9 462.0 161.5 467.5 159.6 472.9 157.8 478.9 156.4 485.0 155.4 490.6 154.7 496.6 154.4 502.3 154.5 507.7 154.9 512.3 155.7 516.7 156.9 520.6 158.5 523.9 160.3 526.4 162.5 528.3 164.8 529.4 167.4 529.7 170.1 529.2 172.9 528.1 175.8 526.2 178.9 523.4 181.7 520.1 184.7 516.0 187.3 511.7 189.9 506.5 192.1 501.3 194.3 495.5 196.1 489.4 197.4 483.7" stroke="#2ca02c"/><path d="M196.6 489.2 196.7 487.9 196.4 486.9 195.6 486.5 194.6 486.8 193.6 487.7 192.5 489.0 190.2 492.9 188.4 497.5 187.0 502.4 186.1 507.5 185.6 512.5 185.7 516.5 186.1 520.0 186.8 523.1 187.9 525.5 189.3 527.4 191.0 528.5 192.9 528.9 194.9 528.6 196.5 527.9 198.3 526.8 200.0 525.4 201.8 523.6 205.3 518.9 208.9 512.9 211.9 506.2 214.7 498.6 216.9 491.0 218.7 482.8 219.9 473.2 220.2 464.7 219.6 456.9 219.0 453.2 218.2 450.2 217.2 447.2 216.0 444.8 214.6 442.6 213.1 440.9 211.3 439.6 209.5 438.8 207.4 438.4 205.4 438.5 203.0 439.0 200.6 440.1 198.1 441.7 195.9 443.6 193.3 446.1 191.1 448.8 188.6 452.2 186.5 455.6 182.2 463.6 178.4 472.7 175.3 482.4 173.0 492.3 171.8 499.5 171.2 506.6 171.0 513.2 171.4 519.7 172.3 525.1 173.7 529.8 175.5 533.6 176.6 535.2 177.9 536.7 179.1 537.7 180.4 538.6 181.8 539.1 183.5 539.5 185.0 539.6 186.8 539.3 188.4 538.9 190.3 538.1 193.9 535.7 197.5 532.4 201.0 528.1 204.5 523.1 207.7 517.3 210.7 510.9 213.3 504.1 215.6 497.0 217.5 489.7 218.9 482.4 219.9 475.2 220.3 468.2 220.2 461.7 219.6 455.8 218.4 450.5 216.8 446.1 214.6 442.6 212.3 440.2 210.8 439.3 209.4 438.7 207.9 438.4 206.3 438.4 203.1 439.0 199.9 440.5 196.7 442.9 193.4 446.0 190.2 450.0 187.0 454.7 184.0 460.0 181.2 465.8 178.6 472.0 176.4 478.6 174.5 485.3 173.0 492.1 171.9 498.9 171.3 505.4 171.0 511.7 171.3 517.9 171.9 523.1 173.0 527.8 174.5 531.7 176.5 535.1 178.7 537.4 180.0 538.3 181.3 539.0 184.0 539.6 187.2 539.2 190.2 538.1 193.5 536.0 196.9 533.0 200.2 529.1 203.5 524.6 206.6 519.4 209.5 513.7 212.1 507.5 214.3 501.4 216.3 494.7 217.9 487.9 219.1 481.5 219.9 474.8 220.3 468.8 220.2 462.7 219.8 457.4 218.9 452.3 217.6 448.2 216.0 444.6 214.1 441.9 211.8 439.9 209.2 438.7 206.4 438.4 203.4 438.9 200.3 440.3 197.0 442.6 193.7 445.7 190.7 449.2 187.6 453.8 184.5 459.0 181.7 464.7 179.3 470.4 176.9 476.9 175.1 483.1 173.5 489.9 172.2 496.7 171.5 502.8 171.1 509.2 171.1 515.2 171.6 520.7 172.5 525.6 173.7 529.9 175.4 533.4 177.4 536.2 179.7 538.2 182.3 539.3 185.1 539.6 188.0 539.0 191.1 537.6 194.4 535.2 197.5 532.3 200.9 528.3 203.9 524.0 206.9 518.7 209.6 513.4 212.2 507.2 214.5 500.6 216.4 494.4 218.0 487.6 219.1 481.2 219.9 474.5 220.3 468.5 220.2 462.4 219.8 457.2 218.8 452.1 217.6 448.0 215.9 444.5 213.9 441.7 211.5 439.7 208.9 438.6 206.0 438.4 203.0 439.0 199.9 440.6 196.6 442.9 193.3 446.1 190.1 450.1 186.9 454.8 183.9 460.1 181.1 465.9 178.8 471.7 176.7 477.7 174.7 484.5 173.2 491.3 172.0 498.0 171.4 504.1 171.0 510.4 171.2 516.3 171.7 521.7 172.7 526.5 174.1 530.7 175.8 534.1 177.9 536.7 180.2 538.5 182.8 539.4 185.7 539.5 188.6 538.8 191.7 537.2 195.1 534.7 198.2 531.6 201.5 527.5 204.5 523.0 207.5 517.7 210.1 512.2 212.7 505.9 214.9 499.4 216.8 492.6 218.3 485.8 219.4 479.4 220.1 472.8 220.3 466.9 220.1 460.9 219.6 455.8 218.5 450.8 217.1 446.9 215.4 443.6 213.3 441.1 211.0 439.4 208.3 438.5 205.4 438.4 202.4 439.3 199.2 441.0 195.9 443.5 192.6 446.9 189.7 450.7 186.5 455.5 183.5 460.8 180.8 466.7 178.5 472.5 176.4 478.6 174.5 485.4 173.0 492.2 171.9 498.9 171.3 505.0 171.0 511.2 171.2 517.1 171.8 522.4 172.8 527.1 174.3 531.2 176.1 534.5 178.2 537.0 180.6 538.6 183.2 539.5 186.0 539.5 189.0 538.6 192.1 537.0 195.5 534.3 198.6 531.1 201.9 526.9 204.8 522.4 207.8 517.0 210.4 511.5 213.0 505.2 215.2 498.6 216.9 492.3 218.4 485.4 219.4 479.1 220.1 472.5 220.3 466.6 220.1 460.6 219.5 455.5 218.4 450.6 217.0 446.7 215.3 443.5 213.2 441.0 210.8 439.3 208.2 438.4 205.3 438.5 202.2 439.3 199.0 441.1 195.8 443.7 192.5 447.1 189.5 450.9 186.4 455.7 183.4 461.1 180.6 467.1 178.3 472.9 176.3 479.0 174.4 485.7 172.9 492.5 171.9 499.2 171.3 505.3 171.0 511.5 171.2 517.4 171.9 522.7 172.9 527.4 174.4 531.4 176.2 534.6 178.3 537.1 180.7 538.7 183.3 539.5 186.2 539.4 189.2 538.6 192.3 536.9 195.6 534.2 198.8 530.9 202.0 526.7 205.0 522.2 208.0 516.7 210.6 511.2 213.1 504.8 215.3 498.2 217.0 491.9 218.5 485.1 219.4 478.8 220.1 472.2 220.3 466.3 220.1 460.3 219.5 455.3 218.4 450.4 217.0 446.5 215.2 443.3 213.1 440.9 210.7 439.2 208.0 438.4 205.1 438.5 202.0 439.4 198.8 441.2 195.6 443.8 192.3 447.3 189.3 451.2 186.2 456.0 183.2 461.4 180.5 467.4 178.2 473.2 176.2 479.3 174.3 486.1 172.9 492.9 171.8 499.6 171.2 505.6 171.0 511.8 171.3 517.6 171.9 522.9 173.0 527.6 174.4 531.5 176.3 534.8 178.4 537.2 180.8 538.8 183.5 539.5 186.3 539.4 189.3 538.5 192.4 536.8 195.8 534.0 198.9 530.8 202.2 526.5 205.1 521.9 208.1 516.4 210.7 510.9 213.2 504.5 215.4 497.9 217.1 491.6 218.5 484.8 219.5 478.5 220.1 471.9 220.3 466.0 220.1 460.1 219.4 455.0 218.3 450.2 216.9 446.3 215.1 443.2 213.0 440.8 210.6 439.2 207.9 438.4 205.0 438.5 201.9 439.5 198.7 441.3 195.4 444.0 192.1 447.5 188.9 451.7 185.8 456.7 182.9 462.2 180.2 468.2 177.9 474.1 175.9 480.2 174.1 486.9 172.7 493.7 171.7 500.5 171.2 506.4 171.0 512.6 171.3 518.4 172.0 523.6 173.1 528.1 174.7 532.0 176.5 535.1 178.7 537.4 181.2 538.9 183.9 539.6 186.7 539.3 190.0 538.2 193.1 536.3 196.4 533.4 199.6 530.0 202.8 525.6 205.7 520.9 208.7 515.3 211.4 509.2 213.8 502.8 215.9 496.1 217.6 489.3 218.9 482.5 219.8 476.2 220.2 469.7 220.3 463.9 219.9 458.2 219.1 453.3 217.8 448.7 216.3 445.1 214.4 442.2 212.1 440.1 209.6 438.8 206.8 438.3 203.9 438.8 200.7 440.0 197.5 442.2 194.2 445.2 191.0 448.9 187.8 453.4 184.7 458.6 181.9 464.3 179.3 470.4 177.1 476.4 175.2 482.6 173.6 489.4 172.3 496.2 171.5 502.8 171.1 508.7 171.1 514.7 171.5 520.3 172.4 525.3 173.6 529.6 175.3 533.2 177.3 536.0 179.7 538.2 182.3 539.3 183.8 539.5 185.3 539.5 188.5 538.8 191.8 537.2 194.9 534.8 198.3 531.5 201.6 527.3 204.8 522.5 207.8 517.1 210.6 511.2 213.1 504.8 215.3 498.2 217.1 491.4 218.5 484.6 219.6 477.8 220.1 471.7 220.3 465.4 220.1 459.9 219.3 454.5 218.3 450.1 216.7 446.0 214.9 442.9 212.7 440.6 210.3 439.1 207.6 438.4 204.6 438.6 201.5 439.6 198.3 441.6 195.1 444.3 191.8 447.9 188.6 452.2 185.7 456.8 182.8 462.3 180.1 468.4 177.7 474.7 175.7 480.9 174.1 487.1 172.7 493.9 171.7 500.6 171.1 507.1 171.0 513.2 171.4 518.9 172.1 524.1 173.3 528.6 174.8 532.4 176.7 535.4 178.9 537.6 180.3 538.5 181.6 539.1 184.4 539.6 187.3 539.2 190.3 538.0 193.6 535.9 196.8 533.1 200.1 529.3 203.1 525.1 206.2 520.0 208.9 514.7 211.6 508.6 214.0 502.2 216.1 495.5 217.7 488.6 218.9 482.3 219.8 475.6 220.2 469.5 220.3 463.4 219.9 458.0 219.0 452.8 217.8 448.6 216.1 444.8 214.1 442.0 211.9 439.9 209.3 438.7 206.5 438.3 203.5 438.9 200.4 440.2 197.2 442.5 193.6 445.8 190.4 449.7 187.2 454.3 184.2 459.6 181.4 465.4 178.8 471.6 176.5 478.1 174.6 484.9 173.1 491.7 172.0 498.4 171.3 505.0 171.0 511.3 171.2 517.1 171.8 522.4 172.9 527.2 174.4 531.5 176.2 534.7 178.5 537.3 181.0 538.8 182.4 539.3 183.9 539.6 186.7 539.3 190.0 538.2 193.3 536.1 196.7 533.2 199.8 529.7 203.1 525.2 206.2 520.1 209.1 514.5 211.7 508.3 214.1 501.8 216.1 495.1 217.8 488.3" stroke="#d62728"/><path d="M240.9 452.0 237.8 452.3 234.7 452.3 231.9 451.7 229.7 450.9 227.7 449.7 225.7 448.2 219.0 441.6 215.9 439.1 214.0 438.0 212.1 437.3 210.1 436.9 208.3 436.8 205.8 437.2 203.1 438.1 200.3 439.6 197.8 441.4 195.0 444.0 192.5 446.8 190.0 450.0 187.5 453.6 184.7 458.4 182.1 463.7 179.6 469.4 177.4 475.3 175.7 481.0 174.0 487.2 172.7 493.5 171.8 499.7 171.2 505.7 171.0 511.5 171.2 516.9 171.7 521.9 172.6 526.3 173.9 530.2 175.4 533.4 177.2 536.0 179.5 538.0 182.1 539.2 184.8 539.6 187.8 539.1 190.8 537.8 193.9 535.6 197.1 532.8 200.2 529.2 203.2 525.1 206.1 520.3 208.8 515.1 211.5 509.0 213.7 503.0 215.8 496.3 217.5 489.5 218.8 483.2 219.7 476.4 220.2 470.4 220.3 464.6 220.0 459.2 219.3 454.2 218.2 449.8 216.7 446.0 214.9 442.9 212.8 440.6 210.3 439.1 207.6 438.4 204.9 438.5 201.8 439.5 198.6 441.4 195.4 444.1 192.3 447.3 189.1 451.5 186.0 456.4 183.0 461.8 180.5 467.3 178.0 473.7 176.0 479.8 174.3 486.0 172.9 492.8 171.9 499.0 171.2 505.6 171.0 511.8 171.2 517.6 171.8 522.5 172.9 527.2 174.3 531.2 176.1 534.5 178.2 537.0 180.6 538.7 183.3 539.5 186.1 539.5 189.1 538.6 192.2 536.9 195.3 534.5 198.7 531.1 201.7 527.2 204.9 522.3 207.7 517.3 210.5 511.4 212.8 505.5 215.1 498.9 216.9 492.1 218.3 485.8 219.4 479.0 220.1 472.8 220.3 466.5 220.1 460.9 219.5 455.4 218.5 450.9 217.1 446.9 215.4 443.6 213.3 441.1 211.0 439.4 208.3 438.5 205.4 438.4 202.4 439.3 199.2 441.0 195.9 443.5 192.9 446.6 189.7 450.7 186.5 455.4 183.6 460.8 181.0 466.2 178.5 472.5 176.4 478.6 174.7 484.8 173.1 491.6 172.1 497.8 171.3 504.4 171.0 510.7 171.2 516.6 171.7 521.6 172.7 526.4 174.0 530.6 175.7 534.0 177.8 536.6 180.2 538.4 182.8 539.4 184.3 539.6 185.8 539.5 188.8 538.7 191.9 537.1 195.0 534.8 198.3 531.4 201.4 527.6 204.6 522.8 207.4 517.8 210.2 511.9 212.6 506.1 214.9 499.5 216.8 492.8 218.2 486.4 219.3 479.6 220.0 473.4 220.3 467.0 220.2 461.5 219.6 455.9 218.6 451.3 217.3 447.3 215.6 443.9 213.6 441.3 211.2 439.5 208.6 438.5 205.7 438.4 202.7 439.1 199.5 440.8 196.3 443.2 193.0 446.5 189.8 450.6 186.6 455.3 183.6 460.7 181.1 466.1 178.5 472.4 176.5 478.4 174.7 484.6 173.1 491.4 172.1 497.7 171.3 504.3 171.0 510.6 171.2 516.5 171.7 521.5 172.6 526.3 174.0 530.5 175.7 533.9 177.8 536.6 180.1 538.4 182.7 539.4 184.2 539.6 185.7 539.5 188.7 538.8 191.8 537.2 194.9 534.8 198.3 531.5 201.3 527.7 204.5 522.9 207.4 517.9 210.2 512.1 212.6 506.3 214.8 499.7 216.7 492.9 218.2 486.6 219.3 479.8 220.0 473.6 220.3 467.2 220.2 461.6 219.6 456.0 218.7 451.4 217.3 447.4 215.6 444.0 213.6 441.4 211.3 439.6 208.7 438.5 205.8 438.4 202.8 439.1 199.6 440.7 196.3 443.2 193.1 446.4 189.8 450.5 186.7 455.2 183.7 460.5 181.1 465.9 178.6 472.2 176.5 478.3 174.7 484.5 173.2 491.3 172.1 497.5 171.4 504.1 171.0 510.4 171.2 516.3 171.7 521.3 172.6 526.2 173.9 530.4 175.7 533.8 177.7 536.5 180.0 538.4 182.6 539.4 184.1 539.6 185.7 539.5 188.6 538.8 191.7 537.2 194.8 534.9 198.2 531.6 201.3 527.8 204.5 523.0 207.3 518.1 210.1 512.2 212.5 506.4 214.8 499.8 216.7 493.1 218.1 486.7 219.3 479.9 220.0 473.7 220.3 467.3 220.2 461.7 219.6 456.1 218.7 451.5 217.4 447.5 215.7 444.1 213.7 441.4 211.3 439.6 208.7 438.6 205.9 438.4 202.9 439.1 199.7 440.7 196.4 443.1 193.2 446.3 189.9 450.3 186.8 455.1 183.8 460.4 181.2 465.8 178.6 472.0 176.6 478.1 174.8 484.3 173.2 491.1 172.1 497.4 171.4 504.0 171.0 510.3 171.2 516.2 171.6 521.2 172.6 526.1 173.9 530.3 175.6 533.8 177.6 536.5 180.0 538.3 182.6 539.4 184.1 539.6 185.6 539.5 188.6 538.8 191.6 537.3 194.7 535.0 198.1 531.7 201.2 527.9 204.4 523.2 207.2 518.2 210.0 512.4 212.4 506.5 214.7 500.0 216.7 493.2 218.1 486.9 219.3 480.1 220.0 473.9 220.3 467.5 220.2 461.9 219.6 456.3 218.7 451.6 217.4 447.6 215.7 444.2 213.7 441.5 211.4 439.6 208.8 438.6 206.0 438.4 202.9 439.1 199.8 440.6 196.5 443.0 193.2 446.2 190.0 450.2 186.8 454.9 183.8 460.3 181.2 465.7 178.7 471.9 176.6 477.9 174.8 484.1 173.2 490.9 172.2 497.2 171.4 503.8 171.0 510.1 171.1 516.1 171.6 521.1 172.5 526.0 173.9 530.2 175.6 533.7 177.6 536.4 179.9 538.3 182.5 539.3 184.0 539.6 185.5 539.5 188.5 538.8 191.6 537.3 194.7 535.0 198.0 531.7 201.1 528.0 204.3 523.3 207.1 518.3 210.0 512.5 212.4 506.7 214.7 500.1 216.6 493.4 218.1 487.0 219.3 480.2 220.0 474.0 220.3 467.6 220.2 462.0 219.6 456.4 218.7 451.7 217.4 447.6 215.8 444.2 213.8 441.6 211.5 439.7 208.9 438.6 206.0 438.4 203.0 439.0 199.8 440.6 196.6 442.9 193.3 446.2 190.1 450.1 186.9 454.8 183.9 460.1 181.3 465.5 178.8 471.7 176.7 477.8 174.9 484.0 173.3 490.8 172.2 497.0 171.4 503.6 171.0 510.0 171.1 515.9 171.6 521.0 172.5 525.9 173.8 530.1 175.5 533.6 177.5 536.3 179.9 538.3 182.4 539.3 183.9 539.6 185.5 539.5 188.4 538.9 191.5 537.4 194.6 535.1 198.0 531.8 201.0 528.1 204.2 523.4 207.1 518.4 209.9 512.6 212.3 506.8 214.6 500.3 216.6 493.5 218.0 487.2 219.2 480.4 219.9 474.2 220.3 467.8 220.2 462.1 219.7 456.5 218.8 451.8 217.5 447.7 215.8 444.3 213.8 441.6 211.5 439.7 208.9 438.6 206.1 438.4 203.1 439.0 199.9 440.5 196.7 442.9 193.4 446.1 190.1 450.0 187.0 454.7 184.0 460.0 181.4 465.4 178.8 471.6 176.7 477.6 174.9 483.8 173.3 490.6 172.2 496.9 171.4 503.5 171.0 509.8 171.1 515.8 171.6 520.8 172.5 525.8 173.8 530.0 175.5 533.5 177.5 536.3 179.8 538.2 182.4 539.3 183.9 539.6 185.4 539.5 188.3 538.9 191.4 537.4 194.5 535.2 197.9 531.9 201.0 528.2 204.2 523.5 207.0 518.6 209.9 512.8 212.3 507.0 214.6 500.4 216.5 493.7 218.0 487.4 219.2 480.5 219.9 474.3 220.3 467.9 220.2 462.3 219.7 456.6 218.8 451.9 217.5 447.8 215.9 444.4 213.9 441.7 211.6 439.7 209.0 438.6 206.2 438.4 203.2 439.0 200.0 440.5 196.8 442.8 193.5 446.0 190.2 449.9 187.1 454.6 184.0 459.9 181.4 465.2 178.9 471.4 176.8 477.4 175.0 483.6 173.4 490.4 172.2 496.7 171.4 503.3 171.1 509.7 171.1 515.6 171.6 520.7 172.5 525.6 173.8 529.9 175.4 533.5 177.4 536.2 179.7 538.2 182.3 539.3 183.8 539.5 185.3 539.5 188.3 538.9 191.3 537.5 194.4 535.2 197.8 532.0 200.9 528.3 204.1 523.6 206.9 518.7 209.8 512.9 212.2 507.1 214.5 500.6 216.5 493.9 218.0 487.5 219.2 480.7 219.9 474.5 220.3 468.0 220.2 462.4 219.7 456.8 218.8 452.0 217.5 447.9 215.9 444.5 213.9 441.7 211.6 439.8 209.1 438.6 206.2 438.4 203.2 439.0 200.1 440.4 196.8 442.7 193.6 445.9 190.3 449.8 187.1 454.5 184.1 459.7 181.5 465.1 178.9 471.3 176.8 477.3 175.0 483.5 173.4 490.3 172.3 496.5 171.4 503.2 171.1 509.5 171.1 515.5 171.6 520.6 172.4 525.5 173.7 529.8 175.4 533.4 177.4 536.2 179.7 538.1 182.2 539.3 183.7 539.5 185.2 539.6 188.2 538.9 191.2 537.5 194.4 535.3 197.7 532.1 200.8 528.4 204.0 523.7 206.9 518.8 209.7 513.0 212.2 507.3 214.5 500.7 216.5 494.0 217.9 487.7 219.2 480.8 219.9 474.6 220.3 468.2 220.2 462.5 219.7 456.9 218.8 452.2 217.6 448.0 216.0 444.5 214.0 441.8 211.7 439.8 209.1 438.7 206.3 438.4 203.3 438.9 200.2 440.4 196.9 442.7 193.6 445.8 190.4 449.7 187.2 454.3 184.2 459.6 181.6 464.9 179.0 471.1 176.9 477.1 175.0 483.3 173.4 490.1 172.3 496.4 171.5 503.0 171.1 509.4 171.1 515.4 171.5 520.4 172.4 525.4 173.7 529.7 175.3 533.3 177.3 536.1 179.6 538.1 182.2 539.3 184.9 539.6 187.9 539.0 190.9 537.7 194.0 535.6 197.4 532.4 200.5 528.8 203.7 524.2 206.6 519.3 209.5 513.6 211.9 507.9 214.3 501.4 216.3 494.7 217.8 488.3" stroke="#9467bd"/></g><g fill="none" stroke-width="2.8" stroke-linecap="square" stroke-linejoin="round"><path d="M438.3 422.3 430.4 424.3 424.4 425.5 418.9 426.2 408.5 427.1 404.5 427.7 400.0 429.2 398.0 430.1 395.9 431.4 393.9 433.0 392.1 434.7 388.8 438.9 386.1 443.9 384.2 449.4 383.5 453.4 383.3 457.2 383.7 460.4 384.8 462.7 385.9 463.6 387.1 463.9 388.5 463.3 389.8 462.1 390.6 460.8 391.2 459.3 391.6 457.6 391.7 456.1 391.3 454.3 390.8 453.9 390.3 453.8 389.4 454.4 388.8 455.7 388.7 456.8 388.9 457.5 389.2 457.6 389.6 457.3 389.8 456.4 389.6 456.2 389.4 456.5 389.4 456.7 389.5 456.6" stroke="#1f77b4"/><path d="M446.7 424.4 439.1 426.3 432.4 427.4 426.8 428.0 416.9 428.5 412.8 429.0 410.5 429.5 408.1 430.4 405.9 431.4 403.9 432.7 401.8 434.4 399.8 436.4 398.0 438.7 396.3 441.1 394.8 443.9 393.5 446.9 392.4 449.9 391.6 453.0 390.9 457.8 390.9 462.0 391.7 465.4 392.4 466.8 393.2 467.7 393.9 468.2 394.7 468.5 395.6 468.4 396.4 468.2 398.1 467.0 399.7 464.8 400.7 462.6 401.4 460.3 401.6 457.9 401.4 456.0 400.9 454.8 400.2 454.1 399.3 454.1 398.3 454.6 397.6 455.4 397.0 456.5 396.4 459.1 396.7 460.8 397.1 461.2 397.6 461.3 398.4 460.7 399.0 459.4 399.1 458.2 398.8 457.5 398.3 457.6 397.9 458.1 397.8 459.3 398.0 459.5 398.2 459.4 398.5 458.7 398.3 458.4 398.1 458.8 398.1 459.0 398.2 458.8" stroke="#ff7f0e"/><path d="M455.2 426.4 447.8 428.2 441.3 429.2 435.3 429.7 425.0 429.7 421.0 430.1 418.7 430.6 416.4 431.4 414.3 432.4 412.1 433.8 409.8 435.7 407.7 437.9 405.6 440.5 403.8 443.3 402.2 446.5 400.8 449.7 399.7 453.2 398.9 456.8 398.2 462.4 398.3 464.9 398.5 467.2 399.1 469.3 399.8 471.0 400.7 472.3 401.8 473.2 402.8 473.5 403.9 473.5 405.1 473.2 406.2 472.5 407.4 471.5 408.4 470.2 410.3 466.8 411.4 463.4 411.9 460.0 411.8 456.9 411.0 454.6 409.9 453.4 409.2 453.2 408.5 453.2 406.9 454.0 405.5 455.8 404.4 457.9 403.8 460.2 403.5 462.5 403.8 464.5 404.4 465.8 405.2 466.4 406.3 466.3 407.3 465.5 408.2 464.3 408.9 462.7 409.2 461.0 409.3 459.4 409.0 458.2 408.5 457.5 407.8 457.2 407.1 457.5 406.4 458.2 405.8 459.3 405.2 461.7 405.3 462.7 405.6 463.4 406.0 463.8 406.6 463.8 407.5 462.8 408.1 461.1 408.0 459.7 407.8 459.2 407.4 459.1 406.7 459.5 406.1 460.7 406.1 461.9 406.4 462.5 407.0 462.3 407.4 461.6 407.6 460.7 407.4 460.1 407.0 460.1 406.6 460.5 406.5 461.2 406.6 461.7 406.8 461.8 407.1 461.6 407.3 460.7 407.1 460.5 406.9 460.6 406.7 461.3 406.9 461.4 407.1 461.0 407.0 460.8 406.8 461.1 406.9 461.3 406.9 461.1" stroke="#2ca02c"/><path d="M424.8 465.5 424.7 465.1 424.3 465.4 424.2 466.0 424.4 466.4 424.9 465.9 425.0 464.9 424.6 464.7 424.1 465.3 423.9 466.3 424.2 466.9 424.7 466.9 425.1 466.3 425.4 465.4 425.4 464.5 425.2 463.9 424.8 463.8 424.3 464.1 423.8 464.8 423.4 466.5 423.7 467.8 424.1 468.1 424.7 468.0 425.2 467.5 425.7 466.6 426.2 464.6 426.0 462.9 425.6 462.4 425.0 462.2 424.4 462.5 423.8 463.1 423.1 464.2 422.6 465.6 422.4 467.1 422.5 468.5 422.9 469.6 423.7 470.1 424.6 470.0 425.5 469.2 426.4 467.8 427.1 466.0 427.4 464.1 427.4 462.3 427.0 460.9 426.3 459.9 425.3 459.7 424.2 460.1 423.0 461.4 421.9 463.5 421.2 465.8 420.8 468.3 421.1 470.8 421.8 472.5 422.4 473.0 423.1 473.3 423.8 473.2 424.6 472.9 426.2 471.4 427.7 469.0 428.7 466.1 429.2 462.9 429.1 460.0 428.4 457.7 427.8 456.9 427.1 456.4 426.3 456.2 425.5 456.3 424.5 456.7 423.5 457.4 421.6 459.9 420.1 463.2 419.2 466.8 419.0 470.9 419.2 472.7 419.6 474.1 420.3 475.4 421.1 476.2 422.0 476.6 423.0 476.7 424.2 476.3 425.3 475.5 426.5 474.3 427.6 472.9 429.4 469.0 430.6 464.6 430.9 460.3 430.8 458.3 430.4 456.6 429.7 455.1 429.0 454.1 428.0 453.4 426.9 453.2 425.7 453.4 424.4 454.0 423.1 455.1 421.8 456.6 420.7 458.4 419.7 460.5 418.2 465.2 417.6 469.1 417.6 472.7 418.3 475.7 419.5 477.8 420.3 478.5 421.2 478.9 422.2 479.0 423.2 478.8 424.2 478.3 425.3 477.6 427.3 475.4 429.1 472.3 430.6 468.7 431.5 464.8 431.9 461.0 431.7 457.5 430.9 454.7 429.6 452.6 428.8 452.0 427.9 451.7 426.5 451.6 425.1 452.1 423.7 453.1 422.3 454.6 420.9 456.5 419.7 458.7 418.7 461.1 417.9 463.8 417.3 466.6 416.9 469.5 416.9 472.0 417.2 474.5 417.8 476.5 418.6 478.2 419.7 479.3 421.0 479.9 422.0 480.0 423.1 479.7 424.3 479.2 425.4 478.3 427.6 475.8 429.6 472.4 431.1 468.4 432.0 464.1 432.3 459.9 431.9 456.3 430.9 453.4 430.1 452.4 429.3 451.7 428.4 451.2 427.4 451.0 426.3 451.2 425.2 451.6 422.9 453.4 420.8 456.2 418.9 459.8 417.6 463.8 417.0 466.8 416.7 469.7 416.7 472.4 417.1 474.9 417.7 477.0 418.6 478.6 419.7 479.7 421.1 480.2 422.1 480.3 423.2 480.0 424.4 479.4 425.5 478.5 427.7 475.9 429.7 472.4 431.2 468.3 432.1 464.0 432.4 459.7 432.0 456.1 430.9 453.2 430.2 452.2 429.3 451.4 428.4 451.0 427.3 450.8 426.2 451.0 425.1 451.5 422.8 453.4 420.6 456.3 418.8 460.0 417.5 464.2 416.9 467.2 416.6 470.1 416.7 472.8 417.1 475.3 417.7 477.3 418.7 478.9 419.9 479.9 421.2 480.4 422.3 480.3 423.4 480.0 424.6 479.3 425.8 478.4 427.9 475.7 429.9 472.1 431.3 467.9 432.2 463.6 432.4 459.3 432.0 455.8 430.8 453.0 430.0 452.0 429.2 451.3 428.2 450.9 427.1 450.8 425.9 451.1 424.8 451.6 422.5 453.6 420.4 456.6 418.6 460.4 417.4 464.6 416.8 467.6 416.6 470.5 416.7 473.2 417.1 475.6 417.8 477.6 418.8 479.1 420.0 480.0 421.4 480.4 422.5 480.3 423.6 479.9 424.8 479.2 426.0 478.2 428.1 475.4 430.0 471.8 431.5 467.5 432.3 463.2 432.4 459.0 431.9 455.5 431.4 454.0 430.7 452.7 429.9 451.8 429.0 451.2 428.0 450.8 426.9 450.8 425.7 451.1 424.6 451.7 422.3 453.8 420.2 456.9 418.5 460.8 417.3 465.0 416.8 468.0 416.6 470.9 416.7 473.5 417.2 475.9 418.0 477.8 419.0 479.2 420.2 480.1 421.6 480.4 423.0 480.2 424.6 479.3 426.2 478.0 427.7 476.1 429.0 473.8 430.2 471.3 431.2 468.5 431.9 465.5" stroke="#d62728"/><path d="M472.2 430.6 464.2 432.3 457.8 433.0 452.2 432.9 441.8 431.9 437.3 432.1 434.6 432.7 432.0 433.7 429.6 435.1 427.1 437.0 423.8 440.3 420.8 444.4 418.1 449.3 415.9 454.6 414.2 460.3 413.2 465.9 412.9 471.4 413.3 476.1 414.3 480.0 415.0 481.5 415.9 482.8 416.9 483.8 418.0 484.5 419.2 484.9 420.5 484.9 421.7 484.7 423.1 484.1 424.4 483.2 425.8 482.0 428.3 478.8 430.5 474.7 432.3 469.8 433.5 464.6 433.8 459.7 433.4 455.2 432.9 453.4 432.2 451.8 431.4 450.5 430.4 449.6 429.3 449.0 428.0 448.8 426.7 449.0 425.3 449.6 423.0 451.4 420.8 454.3 418.8 457.9 417.3 462.0 416.3 466.4 415.9 470.7 416.2 474.6 417.0 477.8 418.3 480.0 419.2 480.7 420.1 481.2 421.1 481.4 422.1 481.3 423.2 481.0 424.4 480.3 426.5 478.4 428.6 475.5 430.4 471.9 431.7 468.0 432.5 463.8 432.8 459.7 432.4 456.2 431.5 453.3 430.8 452.1 430.0 451.2 429.1 450.6 428.2 450.3 427.1 450.3 426.1 450.5 423.9 451.8 421.8 454.0 419.9 457.0 418.3 460.6 417.2 464.7 416.5 468.6 416.5 472.4 416.9 475.6 418.0 478.3 419.4 480.0 420.2 480.4 421.2 480.7 422.2 480.6 423.2 480.3 425.3 479.0 427.3 476.8 429.2 473.7 430.8 470.1 431.9 466.2 432.5 462.2 432.5 458.6 432.0 455.3 430.9 452.9 430.2 451.9 429.4 451.2 428.6 450.8 427.6 450.6 426.6 450.7 425.5 451.1 423.5 452.5 421.4 454.9 419.6 457.9 418.2 461.5 417.1 465.4 416.6 469.3 416.6 472.9 417.2 476.0 418.2 478.4 419.7 479.9 420.6 480.3 421.5 480.5 423.5 480.1 425.6 478.6 427.6 476.3 429.4 473.2 430.8 469.7 431.9 465.8 432.4 461.8 432.4 458.3 431.8 455.1 430.8 452.8 430.0 451.8 429.2 451.2 428.4 450.9 427.4 450.7 425.4 451.2 423.3 452.7 421.3 455.1 419.6 458.2 418.1 461.8 417.1 465.6 416.6 469.5 416.7 473.1 417.3 476.1 418.3 478.5 419.8 479.9 420.7 480.3 421.6 480.4 423.6 479.9 425.7 478.4 427.7 476.1 429.5 473.0 430.9 469.4 431.9 465.5 432.4 461.6 432.4 458.1 431.8 455.1 430.7 452.7 430.0 451.8 429.2 451.2 428.3 450.9 427.4 450.8 425.3 451.3 423.3 452.8 421.3 455.2 419.5 458.3 418.1 461.9 417.1 465.7 416.6 469.6 416.7 473.1 417.3 476.2 418.4 478.5 419.9 480.0 420.7 480.3 421.7 480.4 423.7 479.9 425.8 478.4 427.7 476.0 429.5 473.0 430.9 469.5 431.9 465.6 432.4 461.6 432.4 458.1 431.8 455.1 430.7 452.8 430.0 451.9 429.2 451.3 428.3 450.9 427.4 450.8 425.4 451.3 423.3 452.8 421.3 455.2 419.5 458.2 418.1 461.8 417.1 465.7 416.6 469.5 416.7 473.1 417.3 476.2 418.4 478.5 419.8 479.9 420.7 480.3 421.6 480.4 423.6 479.9 425.8 478.4 427.7 476.1 429.5 473.0 430.9 469.5 431.9 465.6 432.4 461.7 432.4 458.2 431.8 455.0 430.7 452.7 429.2 451.3 428.3 450.9 427.4 450.8 425.4 451.3 423.3 452.8 421.3 455.1 419.6 458.2 418.1 461.8 417.1 465.6 416.6 469.5 416.7 473.1 417.3 476.1 418.3 478.5 419.8 479.9 420.7 480.3 421.6 480.4 423.6 479.9 425.7 478.4 427.7 476.1 429.5 472.9 431.0 469.3 431.9 465.5 432.4 461.6 432.3 458.1 431.7 455.0 430.7 452.7 429.2 451.2 428.3 450.9 427.4 450.8 425.3 451.3 423.3 452.8 421.3 455.2 419.5 458.3 418.1 461.9 417.1 465.7 416.6 469.6 416.7 473.1 417.3 476.2 418.4 478.5 419.9 479.9 420.7 480.3 421.7 480.4 423.7 479.9 425.8 478.4 427.7 476.0 429.5 473.0 430.9 469.5 431.9 465.6 432.4 461.6 432.4 458.1 431.7 455.0 430.7 452.7 429.2 451.3 428.3 450.9 427.4 450.8 425.4 451.3 423.3 452.8 421.3 455.2 419.5 458.2 418.1 461.8 417.1 465.7 416.6 469.5 416.7 473.1 417.3 476.2 418.4 478.5 419.9 479.9 420.7 480.3 421.7 480.4 423.6 479.9 425.8 478.4 427.7 476.0 429.5 472.9 431.0 469.2 431.9 465.5 432.4 461.5 432.3 458.0 431.7 454.9 430.6 452.6 429.1 451.2 428.3 450.9 427.3 450.8 425.3 451.3 423.2 452.8 421.3 455.2 419.5 458.3 418.1 461.9 417.1 465.8 416.6 469.6 416.7 473.2 417.3 476.2 418.4 478.5 419.9 480.0 420.8 480.3 421.7 480.4 423.7 479.9 425.8 478.3 427.8 476.0 429.5 472.9 431.0 469.3 431.9 465.5 432.4 461.6 432.3 458.1 431.7 455.0 430.7 452.7 429.2 451.2 428.3 450.9 427.3 450.8 425.3 451.3 423.3 452.8 421.3 455.2 419.5 458.3 418.1 461.9 417.1 465.8 416.6 469.6 416.7 473.2 417.3 476.2 418.4 478.5 419.9 479.9 420.7 480.3 421.7 480.4 423.7 479.9 425.8 478.4 427.7 476.0 429.5 473.0 430.9 469.5 431.9 465.5" stroke="#9467bd"/><path d="M442.7 470.1 442.6 469.6 442.3 469.7 441.8 470.9 442.0 471.8 442.5 472.0 443.3 471.2 444.0 469.6 444.1 467.6 443.6 466.2 443.0 465.8 442.2 465.8 441.4 466.3 440.6 467.3 439.6 469.2 438.8 471.5 438.4 473.9 438.4 476.2 438.9 478.8 439.4 479.7 440.1 480.4 440.8 480.8 441.7 480.9 442.6 480.7 443.5 480.3 444.7 479.3 445.9 478.0 448.1 474.3 449.7 469.8 450.7 465.0 450.9 462.2 450.9 459.4 450.5 456.9 449.9 454.8 449.0 453.0 447.9 451.8 446.6 451.0 445.1 450.7 443.2 451.1 441.3 452.1 439.3 453.8 437.3 456.2 435.5 459.2 433.9 462.4 432.5 466.0 431.4 469.8 430.6 474.4 430.2 478.7 430.2 482.8 430.8 486.5 431.7 489.6 433.1 492.0 434.9 493.7 436.8 494.5 437.9 494.6 439.2 494.4 441.5 493.4 444.1 491.5 446.5 488.9 448.8 485.4 450.9 481.5 452.7 476.9 454.0 472.3 455.0 467.3 455.5 462.7 455.5 458.1 455.1 454.1 454.1 450.7 452.8 447.9 451.0 445.9 449.0 444.8 447.8 444.6 446.5 444.6 444.0 445.4 441.4 447.1 438.9 449.7 436.3 453.2 434.1 457.2 432.2 461.7 430.6 466.5 429.5 471.5 428.9 476.6 428.8 481.5 429.2 486.0 430.2 489.7 431.7 492.7 433.6 494.7 434.7 495.4 435.8 495.8 437.5 495.9 439.5 495.5 441.5 494.5 443.5 493.0 445.4 491.0 447.3 488.6 449.1 485.7 450.8 482.5 452.2 479.1 453.5 475.4 454.5 471.7 455.2 467.9 455.7 464.1 455.8 460.5 455.7 457.1 455.3 453.9 454.5 451.1 453.6 448.7 452.3 446.8 450.9 445.5 449.3 444.6 447.6 444.3 445.7 444.6 443.8 445.3 441.7 446.7 439.8 448.4 437.8 450.8 436.1 453.4 434.3 456.6 432.8 459.9 431.4 463.6 430.4 467.2 429.4 472.2 428.8 477.3 428.8 482.2 429.3 486.5 430.4 490.2 431.9 493.0 433.8 495.0 434.9 495.6 436.1 495.9 437.9 495.9 439.8 495.4 441.8 494.3 443.8 492.7 445.8 490.6 447.7 488.1 449.4 485.2 451.1 481.9 452.5 478.4 453.7 474.8 454.6 471.0 455.3 467.2 455.7 463.4 455.8 459.8 455.6 456.5 455.2 453.4 454.4 450.7 453.4 448.4 452.1 446.5 450.7 445.3 449.0 444.5 447.3 444.3 445.3 444.7 443.4 445.5 441.4 447.0 439.5 448.8 437.5 451.3 435.7 454.0 434.0 457.2 432.6 460.5 431.3 464.0 430.2 467.9 429.2 472.9 428.7 478.0 428.8 482.8 429.4 487.1 430.5 490.6 432.1 493.4 433.1 494.4 434.1 495.1 435.3 495.7 436.4 495.9 438.2 495.9 440.2 495.3 442.2 494.1 444.2 492.4 446.1 490.2 448.0 487.6 449.8 484.6 451.3 481.3 452.7 477.8 453.9 474.1 454.8 470.3 455.4 466.5 455.8 462.8 455.8 459.2 455.6 455.9 455.0 452.9 454.2 450.2 453.1 448.0 451.8 446.3 450.4 445.1 448.7 444.5 446.9 444.3 445.0 444.8 443.1 445.7 441.0 447.3 439.1 449.2 437.1 451.8 435.4 454.5 433.7 457.8 432.3 461.2 431.1 464.7 430.1 468.6 429.1 473.6 428.7 478.7 428.9 483.4 429.5 487.6 430.7 491.1 432.4 493.7 433.4 494.6 434.4 495.3 435.6 495.8 436.8 496.0 438.5 495.8 440.5 495.1 442.5 493.8 444.5 492.0 446.5 489.8 448.3 487.1 450.0 484.1 451.6 480.7 452.9 477.1 454.1 473.4 454.9 469.6 455.5 465.8 455.8 462.1 455.8 458.6 455.5 455.3 454.9 452.4 454.0 449.8 452.9 447.7 451.6 446.0 450.1 445.0 448.3 444.4 446.6 444.4 444.6 444.9 442.7 446.0 440.6 447.6 438.7 449.6 436.8 452.3 435.1 455.1 433.4 458.4 432.1 461.8 430.9 465.4 429.9 469.3 428.9 475.6 428.7 481.5 429.3 486.7 429.9 489.0 430.8 491.2 431.7 492.8 432.8 494.1 434.1 495.1 435.5 495.8 437.0 496.0 438.6 495.8 440.2 495.2 442.0 494.2 443.7 492.9 445.4 491.1 447.1 489.0 448.6 486.6 451.5 481.0 453.8 474.5 455.2 467.9 455.8 461.5 455.5 455.6 455.1 453.0 454.4 450.6 453.5 448.6 452.4 447.0 451.2 445.7 449.8 444.8 448.3 444.4 446.6 444.4 444.9 444.8 443.3 445.6 441.5 446.9 439.7 448.5 438.0 450.6 436.5 452.8 433.5 458.4 431.1 464.5 429.5 471.1 428.8 477.8 428.9 483.7 429.3 486.5 429.9 489.0 430.7 491.0 431.7 492.8 432.9 494.2 434.2 495.2 435.7 495.8 437.3 496.0 439.0 495.7 440.7 495.0 442.4 493.9 444.2 492.4 445.9 490.5 447.6 488.2 450.6 482.9 453.1 476.6 454.9 469.8 455.7 463.3 455.8 459.9 455.7 457.0 455.3 454.2 454.7 451.7 454.0 449.6 453.0 447.7 451.8 446.3 450.5 445.2 449.0 444.5 447.4 444.3 445.7 444.5 444.0 445.2 442.2 446.3 440.4 447.8 438.7 449.7 437.0 452.0 433.9 457.4 431.5 463.4 429.8 469.9 428.8 476.7 428.8 483.0 429.2 485.8 429.7 488.4 430.5 490.6 431.5 492.5 432.7 494.0 434.0 495.1 435.5 495.7 437.0 496.0 438.7 495.8 440.4 495.2 442.1 494.1 443.9 492.7 445.6 490.9 447.4 488.6 450.4 483.4 452.9 477.1 454.8 470.4 455.7 463.8 455.7 457.5 455.4 454.7 454.9 452.2 454.1 449.9 453.2 448.2 452.1 446.6 450.9 445.5 449.5 444.7 448.1 444.4 446.6 444.4 445.0 444.8 443.2 445.6 441.6 446.8 439.9 448.3 438.3 450.1 435.3 454.7 432.7 460.1 430.7 466.2 429.3 472.5 428.7 478.6 429.0 484.5 430.0 489.2 430.8 491.2 431.8 492.9 432.9 494.2 434.2 495.2 435.5 495.8 437.1 496.0 438.6 495.8 440.4 495.2 442.0 494.2 443.7 492.9 445.3 491.2 446.9 489.2 449.9 484.3 452.4 478.7 454.3 472.5 455.5 466.2 455.8 460.1 455.4 454.6 454.8 452.0 454.1 450.0 453.2 448.1 452.2 446.6 451.0 445.5 449.7 444.8 448.1 444.4 446.6 444.4 445.0 444.8 443.4 445.5 441.8 446.7 440.1 448.1 437.0 452.0 434.0 457.2 431.6 463.0 429.9 469.2 428.9 475.5 428.7 481.4 429.3 486.7 429.9 489.0 430.7 491.0 431.6 492.7 432.8 494.1 434.0 495.1 435.4 495.7 436.8 496.0 438.5 495.8 440.0 495.3 441.6 494.4 443.3 493.2 445.0 491.6 448.1 487.4 450.9 482.2 453.2 476.3 454.8 470.0" stroke="#8c564b"/><path d="M489.5 434.7 482.0 436.2 478.7 436.5 475.4 436.6 470.0 436.0 459.3 433.7 456.8 433.5 454.4 433.6 451.1 434.3 448.1 435.6 445.2 437.5 442.2 440.2 440.2 442.4 438.2 445.0 436.4 447.8 434.6 451.0 431.6 457.9 429.4 465.2 428.0 472.5 427.6 479.6 427.7 482.9 428.1 486.0 428.7 488.7 429.5 491.1 430.6 493.1 431.8 494.7 433.1 495.9 434.8 496.7 436.4 496.9 438.1 496.8 439.9 496.1 441.8 495.0 443.6 493.6 445.5 491.6 447.2 489.4 448.9 486.7 451.8 480.7 454.1 474.0 455.5 466.8 456.0 460.1 455.8 456.9 455.4 454.0 454.8 451.3 453.9 449.2 452.8 447.3 451.6 445.9 450.1 444.8 448.6 444.3 446.9 444.2 445.2 444.6 443.2 445.5 441.5 446.8 439.5 448.6 437.8 450.7 436.2 453.2 434.6 455.9 431.9 462.0 430.0 468.8 428.9 475.6 428.7 482.0 429.0 484.9 429.5 487.5 430.2 489.9 431.2 492.0 432.3 493.6 433.6 494.8 435.0 495.6 436.7 496.0 438.4 495.9 440.1 495.3 441.8 494.4 443.7 492.9 445.4 491.1 447.1 489.0 448.6 486.6 450.2 483.7 452.8 477.5 454.7 470.7 455.7 463.9 455.8 457.8 455.4 454.8 454.9 452.2 454.1 450.0 453.2 448.1 452.0 446.4 450.7 445.3 449.2 444.6 447.6 444.3 446.0 444.5 444.2 445.1 442.5 446.1 440.7 447.6 438.9 449.4 437.2 451.6 435.6 454.2 434.1 457.0 431.6 463.2 429.8 469.7 428.8 476.5 428.8 482.8 429.1 485.6 429.7 488.2 430.5 490.5 431.4 492.4 432.6 493.9 433.9 495.0 435.4 495.7 436.9 496.0 438.6 495.8 440.3 495.2 442.0 494.2 443.9 492.7 445.6 490.9 447.3 488.7 448.8 486.3 450.4 483.4 453.0 477.1 454.8 470.3 455.7 463.5 455.7 457.4 455.4 454.4 454.8 451.9 454.0 449.7 453.1 447.9 451.9 446.4 450.6 445.3 449.1 444.6 447.6 444.3 445.9 444.5 444.1 445.1 442.4 446.2 440.6 447.7 438.8 449.5 437.1 451.8 434.0 457.1 431.5 463.4 429.8 469.9 428.8 476.7 428.8 483.0 429.2 485.8 429.7 488.3 430.5 490.6 431.5 492.5 432.7 494.0 434.0 495.1 435.4 495.7 437.0 496.0 438.7 495.8 440.4 495.2 442.1 494.1 444.0 492.6 445.7 490.8 447.3 488.6 448.9 486.1 450.5 483.2 453.0 476.9 454.8 470.1 455.7 463.4 455.7 457.3 455.3 454.3 454.8 451.8 454.0 449.6 453.0 447.8 451.8 446.3 450.5 445.2 449.1 444.6 447.5 444.3 445.8 444.5 444.1 445.2 442.3 446.3 440.5 447.8 438.7 449.6 437.1 451.9 434.0 457.3 431.4 463.6 429.7 470.1 428.8 476.6 428.8 482.9 429.1 485.7 429.7 488.3 430.5 490.5 431.5 492.4 432.6 493.9 433.9 495.0 435.4 495.7 437.0 496.0 438.6 495.8 440.3 495.2 442.1 494.2 444.0 492.6 445.7 490.8 447.3 488.7 448.9 486.2 450.4 483.3 453.0 477.0 454.8 470.2 455.7 463.4 455.7 457.3 455.3 454.4 454.8 451.9 454.0 449.7 453.0 447.8 451.9 446.3 450.6 445.2 449.1 444.6 447.5 444.3 445.8 444.5 444.1 445.2 442.3 446.2 440.5 447.7 438.8 449.6 437.1 451.8 434.0 457.2 431.5 463.5 429.8 470.0 428.8 476.8 428.8 483.0 429.2 485.9 429.7 488.4 430.5 490.6 431.5 492.5 432.7 494.0 434.0 495.1 435.5 495.7 437.1 496.0 438.7 495.8 440.4 495.1 442.2 494.1 444.0 492.5 445.7 490.7 447.4 488.5 449.0 486.1 450.5 483.1 453.0 476.8 454.8 470.1 455.7 463.3 455.7 457.2 455.3 454.2 454.7 451.8 454.0 449.6 453.0 447.7 451.8 446.3 450.5 445.2 449.0 444.5 447.4 444.3 445.7 444.5 444.0 445.2 442.2 446.3 440.5 447.8 438.7 449.7 437.0 451.9 433.9 457.4 431.4 463.7 429.7 470.2 428.8 476.7 428.8 483.0 429.2 485.8 429.7 488.3 430.5 490.6 431.5 492.5 432.7 494.0 434.0 495.1 435.4 495.7 437.0 496.0 438.7 495.8 440.4 495.2 442.1 494.1 444.0 492.6 445.7 490.7 447.4 488.6 448.9 486.1 450.5 483.2 453.0 476.9 454.8 470.1 455.7 463.4 455.7 457.3 455.3 454.3 454.8 451.8 454.0 449.6 453.0 447.8 451.8 446.3 450.5 445.2 449.1 444.6 447.5 444.3 445.8 444.5 444.0 445.2 442.3 446.3 440.5 447.8 438.7 449.6 437.0 451.9 434.0 457.3 431.4 463.6 429.7 470.1 428.8 476.6 428.8 482.9 429.1 485.7 429.7 488.3 430.5 490.5 431.5 492.4 432.6 493.9 434.0 495.0 435.4 495.7 437.0 496.0 438.6 495.8 440.3 495.2 442.1 494.2 444.0 492.6 445.7 490.8 447.3 488.6 448.9 486.2 450.4 483.3 453.0 477.0 454.8 470.2 455.7 463.4 455.7 457.3 455.3 454.4 454.8 451.9 454.0 449.7 453.0 447.8 451.9 446.3 450.6 445.2 449.1 444.6 447.5 444.3 445.8 444.5 444.1 445.2 442.3 446.2 440.5 447.7 438.8 449.6 437.1 451.8 434.0 457.2 431.5 463.5 429.8 470.0 428.8 476.8 428.8 483.0 429.2 485.9 429.7 488.4 430.5 490.6 431.5 492.5 432.7 494.0 434.0 495.1 435.5 495.7 437.1 496.0 438.7 495.8 440.4 495.1 442.2 494.1 444.0 492.5 445.8 490.7 447.4 488.5 449.0 486.1 450.5 483.1 453.0 476.8 454.8 470.0 455.7 463.3 455.7 457.2 455.3 454.2 454.7 451.7 454.0 449.6 453.0 447.7 451.8 446.3 450.5 445.2 449.0 444.5 447.4 444.3 445.7 444.5 444.0 445.2 442.2 446.3 440.4 447.8 438.7 449.7 437.0 452.0 433.9 457.4 431.4 463.7 429.7 470.2 428.8 476.7 428.8 483.0 429.2 485.8 429.7 488.4 430.5 490.6 431.5 492.5 432.7 494.0 434.0 495.1 435.5 495.7 437.0 496.0 438.7 495.8 440.4 495.2 442.1 494.1 444.0 492.6 445.7 490.7 447.4 488.6 448.9 486.1 450.5 483.2 453.0 476.9 454.8 470.1 455.7 463.3 455.7 457.3 455.3 454.3 454.8 451.8 454.0 449.6 453.0 447.8 451.8 446.3 450.5 445.2 449.0 444.6 447.5 444.3 445.8 444.5 444.0 445.2 442.3 446.3 440.5 447.8 438.7 449.6 437.0 451.9 434.0 457.3 431.4 463.6 429.7 470.1 428.8 476.6 428.8 482.9 429.1 485.7 429.7 488.3 430.5 490.5 431.5 492.4 432.6 493.9 434.0 495.0 435.4 495.7 437.0 496.0 438.6 495.8 440.4 495.2 442.1 494.1 444.0 492.6 445.7 490.8 447.3 488.6 448.9 486.2 450.4 483.3 453.0 477.0 454.8 470.2 455.7 463.4 455.7 457.3 455.3 454.4 454.8 451.9 454.0 449.7 453.0 447.8 451.9 446.3 450.5 445.2 449.1 444.6 447.5 444.3 445.8 444.5 444.1 445.2 442.3 446.2 440.5 447.7 438.8 449.6 437.1 451.8 434.0 457.2 431.5 463.5 429.7 470.0 428.8 476.8 428.8 483.1 429.2 485.9 429.7 488.4 430.5 490.6 431.5 492.5 432.7 494.0 434.0 495.1 435.5 495.7 437.1 496.0 438.7 495.8 440.4 495.1 442.2 494.1 444.1 492.5 445.8 490.7 447.4 488.5 449.0 486.1 450.5 483.1 453.1 476.8 454.8 470.0" stroke="#e377c2"/><path d="M460.8 474.8 460.6 474.0 460.0 474.4 459.5 475.4 459.3 476.8 459.6 478.7 460.0 479.2 460.5 479.5 461.5 479.2 462.5 478.4 463.6 477.0 464.5 475.2 465.6 472.3 466.2 469.0 466.4 465.8 466.2 462.7 465.7 460.9 465.1 459.3 464.2 458.1 463.1 457.3 461.9 456.9 460.7 456.9 459.3 457.2 457.9 458.0 455.9 459.7 453.8 462.1 451.9 465.1 450.2 468.5 448.7 472.2 447.5 476.2 446.5 480.4 445.9 484.6 445.6 489.9 445.9 494.5 446.8 498.6 448.1 501.9 450.0 504.4 451.1 505.3 452.2 505.9 453.5 506.3 454.8 506.4 457.4 505.8 460.5 504.1 463.8 501.2 466.8 497.3 469.7 492.4 472.3 486.8 474.3 480.9 475.9 474.8 476.9 468.7 477.4 462.4 477.2 456.9 476.4 451.7 475.0 447.6 473.1 444.4 471.8 443.2 470.7 442.3 469.2 441.7 467.9 441.4 466.3 441.4 464.8 441.6 463.1 442.3 461.4 443.3 458.0 446.0 454.8 449.8 451.7 454.6 448.8 460.4 446.6 466.6 444.8 473.0 443.6 479.5 443.1 484.2 443.0 489.0 443.2 493.1 443.9 497.2 444.8 500.5 446.1 503.4 447.7 505.6 449.6 507.2 451.6 508.1 453.9 508.3 456.4 507.7 458.9 506.5 461.3 504.7 463.8 502.1 466.3 499.0 468.6 495.3 470.7 491.2 472.6 486.8 474.2 482.1 475.6 477.2 476.6 472.3 477.2 467.4 477.5 462.7 477.4 458.3 477.0 454.1 476.2 450.5 475.0 447.3 473.6 444.9 471.8 443.0 469.9 441.8 467.6 441.2 465.4 441.4 463.7 442.0 461.9 442.8 458.6 445.4 455.3 449.0 452.2 453.7 449.3 459.4 446.9 465.5 445.0 471.9 443.7 478.4 443.2 483.1 443.0 487.9 443.1 492.2 443.7 496.3 444.5 499.7 445.8 502.8 447.3 505.1 449.2 506.9 451.1 507.9 453.4 508.3 455.8 507.9 458.4 506.8 460.7 505.1 463.3 502.7 465.7 499.7 468.1 496.2 470.3 492.1 472.2 487.8 473.9 483.1 475.3 478.3 476.4 473.4 477.1 468.5 477.5 463.7 477.5 459.5 477.2 455.3 476.4 451.5 475.4 448.2 474.0 445.6 472.3 443.5 470.4 442.0 468.1 441.3 465.9 441.3 464.2 441.7 462.5 442.5 459.2 444.9 455.9 448.3 452.8 452.8 449.7 458.4 447.3 464.4 445.3 470.7 443.9 477.2 443.3 481.6 443.0 485.9 443.0 490.0 443.3 494.1 443.9 497.5 444.8 500.5 446.0 503.1 447.5 505.4 449.1 506.9 451.1 507.9 453.0 508.3 455.3 508.1 457.5 507.3 459.8 505.8 462.2 503.8 464.5 501.2 466.6 498.4 468.8 494.9 470.8 491.1 472.5 487.0 474.1 482.6 475.4 478.1 476.4 473.5 477.0 469.2 477.4 464.8 477.5 460.5 477.3 456.5 476.8 453.0 475.9 449.7 474.9 447.1 473.4 444.7 471.9 443.0 470.0 441.8 468.0 441.3 465.8 441.3 463.6 442.0 461.2 443.3 458.9 445.1 456.6 447.4 454.4 450.3 452.2 453.8 450.2 457.4 448.4 461.4 446.9 465.6 445.5 469.9 444.5 474.4 443.7 478.8 443.2 483.2 443.0 487.4 443.1 491.4 443.5 495.1 444.2 498.6 445.2 501.5 446.6 504.1 448.1 506.0 449.9 507.4 451.8 508.1 453.9 508.3 456.1 507.8 458.4 506.8 460.6 505.2 463.0 503.0 465.3 500.3 467.5 497.1 469.7 493.2 471.8 488.9 473.5 484.3 475.0 479.5 476.2 474.6 477.0 469.7 477.4 464.9 477.5 460.6 477.3 456.3 476.6 452.4 475.7 448.9 474.4 446.2 472.8 443.9 470.9 442.3 468.7 441.4 466.5 441.3 464.3 441.7 462.1 442.7 459.8 444.3 457.7 446.3 455.5 448.8 453.5 451.6 451.5 455.0 449.7 458.5 448.0 462.5 446.6 466.5 445.4 470.5 444.3 475.0 443.6 479.1 443.1 483.4 443.0 487.6 443.1 491.6 443.5 495.0 444.1 498.3 445.1 501.3 446.3 503.7 447.6 505.5 449.3 507.0 451.1 507.9 453.1 508.3 455.2 508.1 457.3 507.3 459.6 506.0 461.8 504.2 463.9 502.0 466.1 499.3 468.1 496.1 470.1 492.4 471.8 488.7 473.4 484.7 474.8 480.2 475.9 476.0 476.7 471.7 477.2 467.5 477.5 463.4 477.5 459.5 477.2 455.8 476.7 452.4 475.8 449.4 474.7 446.8 473.4 444.6 471.8 443.0 470.1 441.9 468.1 441.3 466.1 441.3 463.9 441.9 461.6 443.0 459.5 444.6 457.3 446.7 455.0 449.4 452.9 452.6 451.0 455.8 449.2 459.6 447.6 463.4 446.3 467.4 445.1 471.8 444.2 475.9 443.5 480.3 443.1 484.6 443.0 488.8 443.1 492.4 443.6 495.7 444.2 498.7 445.2 501.4 446.3 503.7 447.6 505.5 449.1 506.9 450.9 507.9 452.7 508.3 454.8 508.2 456.8 507.6 459.0 506.4 461.0 504.9 463.2 502.8 465.2 500.4 467.3 497.5 469.1 494.4 470.9 490.8 472.5 486.9 474.0 482.9 476.1 474.8 477.3 466.7 477.5 462.6 477.5 459.0 477.2 455.4 476.6 452.3 475.8 449.3 474.8 446.9 473.5 444.8 472.1 443.2 470.4 442.0 468.6 441.4 466.8 441.2 464.8 441.6 462.7 442.4 460.6 443.7 458.5 445.5 456.5 447.7 454.4 450.3 452.5 453.2 450.6 456.6 449.0 460.1 446.1 467.9 444.1 476.1 443.4 480.5 443.0 484.9 443.0 489.0 443.2 493.2 443.8 496.7 444.6 499.8 445.7 502.5 447.1 504.9 448.7 506.5 450.6 507.7 452.5 508.2 454.7 508.2 456.9 507.5 459.3 506.2 461.7 504.3 464.0 501.9 466.1 499.2 468.3 495.8 470.3 492.0 472.1 488.0 473.7 483.6 475.1 479.1 476.2 474.6 476.9 470.3 477.4 465.8 477.5 461.5 477.4 457.4 476.9 453.9 476.2 450.4 475.2 447.7 473.8 445.2 472.3 443.4 470.4 442.1 468.5 441.4 466.3 441.3 464.2 441.8 461.7 442.9 459.5 444.6 457.2 446.8 455.0 449.5 452.7 452.9 450.7 456.5 448.9 460.4 447.2 464.5 445.8 468.8 444.7 473.3 443.8 477.7 443.3 482.1 443.0 486.4 443.0 490.4 443.3 494.2 444.0 497.9 444.9 500.8 446.2 503.5 447.7 505.5 449.4 507.1 451.3 508.0 453.4 508.3 455.5 508.0 457.9 507.1 460.1 505.7 462.4 503.6 464.8 501.0 467.0 497.9 469.3 494.0 471.3 489.8 473.2 485.3 474.7 480.5 475.9 475.6 476.8 470.7 477.4 465.9 477.5 461.6 477.4 457.2 476.8 453.2 475.9 449.6 474.7 446.8 473.2 444.4 471.3 442.6 469.2 441.5 467.0 441.2 464.7 441.6 462.5 442.5 460.2 444.0 458.0 446.0 455.5 448.8 453.4 451.8 451.3 455.2 449.5 459.0 447.8 463.1 446.3 467.4 445.1 471.8 444.0 476.6 443.4 481.0 443.0 485.3 443.0 489.4 443.3 493.5 443.8 497.0 444.8 500.3 445.9 503.0 447.4 505.2 449.0 506.8 450.9 507.9 452.9 508.3 455.1 508.1 457.3 507.3 459.7 506.0 462.1 504.0 464.4 501.4 466.5 498.6 468.6 495.2 470.6 491.4 472.4 487.2 474.0 482.9 475.3 478.4 476.3 473.8 477.0 469.5 477.4 465.1 477.5 460.8 477.3 456.7 476.8 453.2 476.0 449.9 474.9 447.2 473.5 444.8 472.0 443.1 470.1 441.9 468.2 441.3 465.9 441.3 463.8 441.9 461.3 443.2 459.1 445.0 456.8 447.3 454.6 450.0 452.3 453.5 450.4 457.1 448.6 461.1 447.0 465.3 445.6 469.6 444.5 474.1 443.7 478.5 443.2 483.2 443.0 487.4 443.1 491.4 443.5 495.1 444.2 498.7 445.3 501.7 446.8 504.4 448.6 506.4 450.6 507.7 452.7 508.3 455.1 508.1 457.6 507.2 460.1 505.6 462.7 503.4 465.2 500.5 467.5 497.0 469.8 493.1 471.8 488.8 473.5 484.2 475.0 479.4 476.2 474.5" stroke="#7f7f7f"/><path d="M507.0 439.0 500.0 440.2 496.9 440.3 493.4 440.2 490.6 439.7 488.1 439.0 477.8 435.2 474.9 434.7 472.1 434.6 468.5 435.4 464.9 437.1 461.3 439.7 458.1 443.0 455.8 445.8 453.5 449.2 451.6 452.6 449.6 456.7 447.9 460.6 446.4 465.0 445.1 469.3 444.1 473.9 443.3 478.1 442.8 482.6 442.6 486.9 442.7 491.0 443.0 494.5 443.7 497.9 444.6 500.9 445.8 503.5 447.3 505.5 448.9 507.1 450.7 508.1 452.9 508.5 455.0 508.3 457.1 507.6 459.4 506.3 461.8 504.4 463.9 502.1 466.1 499.3 468.1 496.2 470.1 492.5 471.8 488.7 473.5 484.4 474.9 479.9 475.9 475.7 476.8 471.1 477.3 466.9 477.5 462.5 477.5 458.6 477.1 454.7 476.4 451.5 475.5 448.6 474.4 446.1 472.8 443.9 471.2 442.5 469.4 441.6 467.4 441.2 465.3 441.4 463.0 442.2 460.8 443.6 458.5 445.5 456.2 447.9 454.1 450.8 452.0 454.1 450.0 457.8 448.3 461.8 446.7 466.0 445.5 470.0 444.4 474.5 443.6 478.9 443.2 483.3 443.0 487.5 443.1 491.5 443.5 495.2 444.2 498.5 445.1 501.4 446.4 503.8 447.8 505.7 449.5 507.1 451.4 508.0 453.3 508.3 455.4 508.0 457.6 507.2 459.8 505.8 462.2 503.8 464.4 501.5 466.5 498.7 468.5 495.5 470.5 491.7 472.2 487.9 473.8 483.6 475.1 479.1 476.1 474.8 476.9 470.2 477.4 466.1 477.5 461.7 477.4 457.9 477.0 454.1 476.3 450.8 475.3 448.0 474.1 445.6 472.6 443.7 471.0 442.4 469.1 441.5 467.1 441.2 465.0 441.5 462.8 442.4 460.5 443.8 458.2 445.8 456.0 448.3 453.8 451.2 451.7 454.6 449.8 458.3 448.1 462.3 446.7 466.2 445.4 470.6 444.3 475.0 443.6 479.1 443.1 483.5 443.0 487.7 443.1 491.7 443.5 495.3 444.2 498.6 445.2 501.5 446.4 503.9 447.9 505.8 449.6 507.2 451.5 508.0 453.5 508.3 455.6 508.0 457.7 507.1 459.9 505.8 462.3 503.7 464.5 501.3 466.6 498.5 468.6 495.3 470.6 491.5 472.2 487.7 473.8 483.3 475.2 478.8 476.2 474.6 476.9 470.0 477.4 465.8 477.5 461.8 477.4 458.0 477.0 454.1 476.3 450.9 475.3 448.1 474.1 445.7 472.7 443.8 471.0 442.4 469.2 441.5 467.2 441.2 465.0 441.5 462.8 442.4 460.5 443.8 458.3 445.7 456.0 448.2 453.8 451.1 451.8 454.5 449.8 458.2 448.1 462.2 446.6 466.4 445.4 470.5 444.3 474.9 443.6 479.0 443.1 483.4 443.0 487.6 443.1 491.6 443.5 495.3 444.2 498.6 445.2 501.5 446.4 503.9 447.9 505.8 449.6 507.2 451.4 508.0 453.4 508.3 455.5 508.0 457.7 507.2 459.9 505.8 462.3 503.8 464.4 501.4 466.5 498.6 468.5 495.4 470.5 491.6 472.2 487.8 473.8 483.4 475.1 478.9 476.1 474.7 476.9 470.1 477.4 465.9 477.5 461.9 477.4 458.1 477.0 454.2 476.3 451.0 475.4 448.2 474.1 445.8 472.7 443.8 471.1 442.4 469.2 441.5 467.2 441.2 465.1 441.5 462.9 442.3 460.6 443.7 458.3 445.7 456.1 448.1 453.9 451.0 451.8 454.4 449.9 458.1 448.1 462.1 446.6 466.3 445.4 470.4 444.4 474.8 443.6 478.9 443.2 483.3 443.0 487.5 443.1 491.5 443.5 495.2 444.2 498.5 445.2 501.4 446.4 503.8 447.8 505.8 449.5 507.1 451.4 508.0 453.4 508.3 455.4 508.0 457.6 507.2 459.8 505.8 462.2 503.8 464.4 501.4 466.5 498.7 468.5 495.5 470.5 491.7 472.2 487.9 473.8 483.5 475.1 479.0 476.1 474.8 476.9 470.2 477.4 466.0 477.5 461.7 477.4 457.9 477.0 454.0 476.3 450.8 475.3 448.0 474.1 445.6 472.6 443.7 471.0 442.4 469.1 441.5 467.1 441.2 465.0 441.5 462.7 442.4 460.5 443.8 458.2 445.8 455.9 448.3 453.8 451.2 451.7 454.6 449.8 458.3 448.1 462.3 446.6 466.2 445.4 470.6 444.3 475.1 443.6 479.2 443.1 483.5 443.0 487.7 443.1 491.7 443.5 495.4 444.2 498.6 445.2 501.5 446.5 503.9 447.9 505.8 449.6 507.2 451.5 508.0 453.5 508.3 455.6 508.0 457.7 507.1 459.9 505.8 462.3 503.7 464.5 501.3 466.6 498.5 468.6 495.3 470.6 491.5 472.2 487.7 473.8 483.3 475.2 478.8 476.2 474.6 476.9 470.0 477.4 465.8 477.5 461.8 477.4 458.0 477.0 454.1 476.3 450.9 475.3 448.1 474.1 445.7 472.7 443.8 471.0 442.4 469.2 441.5 467.1 441.2 465.0 441.5 462.8 442.4 460.5 443.8 458.3 445.7 456.0 448.2 453.8 451.1 451.8 454.5 449.8 458.2 448.1 462.2 446.6 466.5 445.4 470.5 444.3 475.0 443.6 479.1 443.1 483.4 443.0 487.6 443.1 491.6 443.5 495.3 444.2 498.6 445.2 501.5 446.4 503.9 447.9 505.8 449.6 507.2 451.4 508.0 453.4 508.3 455.5 508.0 457.7 507.2 459.9 505.8 462.3 503.8 464.4 501.4 466.5 498.6 468.5 495.4 470.5 491.6 472.2 487.8 473.8 483.4 475.1 478.9 476.1 474.7 476.9 470.1 477.4 465.9 477.5 461.9 477.4 458.0 477.0 454.2 476.3 451.0 475.4 448.1 474.1 445.7 472.7 443.8 471.0 442.4 469.2 441.5 467.2 441.2 465.1 441.5 462.9 442.3 460.6 443.7 458.3 445.7 456.1 448.1 453.9 451.1 451.8 454.4 449.9 458.1 448.1 462.1 446.6 466.4 445.4 470.4 444.4 474.8 443.6 478.9 443.2 483.3 443.0 487.5 443.1 491.5 443.5 495.2 444.2 498.5 445.2 501.4 446.4 503.8 447.9 505.8 449.5 507.2 451.4 508.0 453.4 508.3 455.5 508.0 457.6 507.2 459.8 505.8 462.2 503.8 464.4 501.4 466.5 498.6 468.5 495.5 470.5 491.7 472.2 487.9 473.8 483.5 475.1 479.0 476.1 474.8 476.9 470.2 477.4 466.0 477.5 461.7 477.4 457.9 477.0 454.0 476.3 450.8 475.3 448.0 474.1 445.6 472.6 443.7 471.0 442.3 469.1 441.5 467.1 441.2 465.0 441.5 462.7 442.4 460.5 443.8 458.2 445.8 455.9 448.3 453.8 451.2 451.7 454.6 449.8 458.3 448.1 462.3 446.6 466.2 445.3 470.6 444.3 475.1 443.6 479.2 443.1 483.5 443.0 487.7 443.1 491.7 443.5 495.4 444.2 498.7 445.2 501.5 446.5 503.9 447.9 505.8 449.6 507.2 451.5 508.0 453.5 508.3 455.6 508.0 457.7 507.1 460.0 505.7 462.3 503.7 464.5 501.3 466.6 498.5 468.6 495.3 470.6 491.5 472.3 487.7 473.8 483.3 475.2 478.8 476.2 474.6 476.9 470.0 477.4 465.8 477.5 461.8 477.4 457.9 477.0 454.1 476.3 450.9 475.3 448.1 474.1 445.7 472.7 443.8 471.0 442.4 469.1 441.5 467.1 441.2 465.0 441.5 462.8 442.4 460.5 443.8 458.2 445.7 456.0 448.2 453.8 451.1 451.8 454.5 449.8 458.2 448.1 462.2 446.6 466.5 445.4 470.5 444.3 475.0 443.6 479.1 443.1 483.4 443.0 487.6 443.1 491.6 443.5 495.3 444.2 498.6 445.2 501.5 446.4 503.9 447.9 505.8 449.6 507.2 451.4 508.0 453.4 508.3 455.5 508.0 457.7 507.2 459.9 505.8 462.3 503.7 464.5 501.4 466.6 498.6 468.5 495.4 470.5 491.6 472.2 487.7 473.8 483.4 475.1 478.9 476.1 474.7 476.9 470.1 477.4 465.9 477.5 461.9 477.4 458.0 477.0 454.2 476.3 451.0 475.3 448.1 474.1 445.7 472.7 443.8 471.0 442.4 469.2 441.5 467.2 441.2 465.1 441.5 462.8 442.3 460.6 443.7 458.3 445.7 456.1 448.1 453.9 451.1 451.8 454.4 449.9 458.1 448.1 462.1 446.6 466.4 445.4 470.4 444.4 474.9 443.6 479.0 443.2 483.3 443.0 487.5 443.1 491.5 443.5 495.2 444.2 498.5 445.2 501.4 446.4 503.8 447.9 505.8 449.5 507.2 451.4 508.0 453.4 508.3 455.5 508.0 457.6 507.2 459.8 505.8 462.2 503.8 464.4 501.4 466.5 498.6 468.5 495.4 470.5 491.7 472.2 487.8 473.8 483.5 475.1 479.0 476.1 474.8 476.9 470.2 477.4 466.0 477.5 461.7 477.4 457.8 477.0 454.0 476.3 450.8 475.3 448.0 474.1 445.6 472.6 443.7 470.9 442.3 469.1 441.5 467.1 441.2 464.9 441.5 462.7 442.4 460.5 443.8 458.2 445.8 455.9 448.3 453.8 451.2 451.7 454.6 449.8 458.3 448.0 462.4 446.6 466.3 445.3 470.6 444.3 475.1 443.6 479.2 443.1 483.6 443.0 487.8 443.1 491.7 443.5 495.4 444.2 498.7 445.2 501.5 446.5 503.9 447.9 505.8 449.6 507.2 451.5 508.0 453.5 508.3 455.6 508.0 457.8 507.1 460.0 505.7 462.3 503.7 464.5 501.3 466.6 498.5 468.6 495.3 470.6 491.5 472.3 487.6 473.8 483.3 475.2 478.8 476.2 474.5" stroke="#bcbd22"/><path d="M479.2 479.5 479.2 478.8 478.9 478.4 478.5 478.4 478.0 478.8 477.1 480.4 476.4 482.6 476.2 484.6 476.2 486.5 476.6 488.2 477.2 489.5 477.8 490.3 478.6 490.8 479.4 491.0 480.3 491.0 482.4 490.1 484.6 488.1 486.2 486.1 487.7 483.5 489.2 480.6 490.4 477.5 491.5 474.1 492.4 470.5 493.4 463.5 493.6 458.5 493.2 454.2 492.3 450.3 491.0 447.3 489.3 444.9 487.2 443.5 485.9 443.0 484.8 442.9 482.1 443.2 480.2 444.0 478.5 445.0 474.9 448.1 471.4 452.4 468.1 457.8 465.0 464.4 462.5 471.2 460.5 478.5 459.2 485.7 458.6 491.3 458.4 496.6 458.7 501.5 459.4 506.3 460.4 510.2 461.9 513.7 463.7 516.2 465.9 518.1 468.3 519.1 471.0 519.2 473.8 518.5 476.7 517.0 479.7 514.6 482.7 511.5 485.5 507.7 488.2 503.3 490.7 498.4 492.9 493.1 494.8 487.5 496.3 481.7 497.5 475.9 498.3 470.2 498.6 464.6 498.6 459.7 498.1 454.8 497.2 450.4 495.9 446.7 494.3 443.9 492.2 441.6 490.0 440.2 487.4 439.5 484.8 439.8 482.8 440.4 480.8 441.5 478.7 442.9 476.9 444.5 473.0 448.9 469.4 454.5 465.9 461.3 463.1 468.6 460.8 476.3 459.2 484.0 458.6 489.7 458.3 495.1 458.4 500.1 459.0 505.1 460.0 509.2 461.4 512.8 463.1 515.6 465.2 517.7 467.5 518.9 470.1 519.3 473.0 518.9 475.9 517.6 478.7 515.6 481.6 512.7 484.5 509.1 487.3 504.9 489.8 500.2 492.1 495.0 494.1 489.5 495.8 483.8 497.1 478.0 498.1 472.2 498.6 466.5 498.6 461.2 498.3 456.2 497.5 451.6 496.3 447.7 494.8 444.7 492.8 442.1 490.6 440.4 488.0 439.6 485.4 439.6 483.4 440.2 481.4 441.1 479.4 442.4 477.6 443.9 473.7 448.1 470.0 453.4 466.4 460.1 463.5 467.3 461.2 474.9 459.5 482.7 458.7 487.9 458.3 493.0 458.3 497.9 458.6 502.4 459.3 506.5 460.3 510.1 461.6 513.2 463.2 515.7 465.0 517.5 467.1 518.8 469.4 519.3 471.9 519.1 474.5 518.3 477.0 516.8 479.6 514.8 482.3 511.9 484.8 508.7 487.4 504.7 489.6 500.6 491.8 495.8 493.7 490.8 495.4 485.5 496.7 480.0 497.7 475.0 498.3 469.7 498.6 464.8 498.6 459.9 498.2 455.6 497.4 451.5 496.4 448.0 495.1 445.1 493.4 442.8 491.6 441.1 489.4 440.0 487.1 439.5 484.7 439.8 482.1 440.7 479.5 442.3 476.8 444.6 474.1 447.5 471.6 450.9 469.1 454.9 466.8 459.3 464.7 464.1 462.9 469.1 461.4 474.0 460.1 479.3 459.2 484.6 458.5 489.8 458.3 494.8 458.4 499.6 458.8 503.9 459.6 507.9 460.7 511.3 462.1 514.2 463.8 516.4 465.8 518.1 467.9 519.0 470.2 519.3 472.8 518.9 475.4 517.9 477.9 516.2 480.5 513.9 483.2 510.8 485.7 507.4 488.2 503.3 490.5 498.7 492.6 493.8 494.4 488.6 496.0 483.3 497.2 477.8 498.0 472.4 498.5 467.1 498.7 462.1 498.4 457.3 497.8 453.3 496.9 449.4 495.6 446.3 494.0 443.5 492.2 441.6 490.0 440.2 487.8 439.6 485.3 439.7 482.8 440.4 479.9 442.0 477.3 444.2 474.6 446.9 472.0 450.3 469.4 454.5 467.0 458.9 464.9 463.6 463.0 468.6 461.4 473.8 460.2 479.1 459.2 484.5 458.6 489.7 458.3 494.7 458.4 499.4 458.8 503.8 459.7 508.1 460.8 511.5 462.3 514.5 464.1 516.7 466.2 518.3 468.4 519.1 470.9 519.3 473.4 518.8 476.1 517.4 478.7 515.6 481.4 512.9 484.1 509.6 486.7 505.8 489.2 501.5 491.4 496.8 493.4 491.7 495.1 486.5 496.5 481.1 497.6 475.6 498.3 470.3 498.6 465.4 498.6 460.5 498.2 455.8 497.5 451.6 496.5 448.2 495.0 445.1 493.4 442.7 491.3 440.9 489.2 439.9 486.7 439.5 484.2 439.9 481.6 441.0 479.0 442.7 476.1 445.3 473.5 448.3 470.9 451.9 468.5 456.0 466.2 460.5 464.2 465.4 462.4 470.5 460.9 475.7 459.8 481.1 458.9 486.4 458.4 491.5 458.3 496.8 458.5 501.4 459.1 505.6 460.0 509.3 461.4 512.8 462.9 515.4 464.9 517.4 467.0 518.7 469.4 519.3 471.8 519.2 474.5 518.3 477.0 516.8 479.8 514.6 482.4 511.9 485.0 508.4 487.6 504.4 489.9 500.0 492.1 495.1 494.0 490.0 495.6 484.7 496.9 479.3 497.8 473.8 498.4 468.5 498.7 463.4 498.5 458.9 498.0 454.4 497.2 450.6 496.0 447.1 494.6 444.3 492.7 442.0 490.8 440.5 488.4 439.7 486.0 439.6 484.1 439.9 482.1 440.7 480.1 441.9 478.2 443.3 474.3 447.3 470.6 452.4 467.0 459.0 464.0 466.0 461.5 473.6 459.7 481.3 458.8 487.0 458.4 492.6 458.3 497.8 458.7 503.0 459.5 507.3 460.7 511.3 462.3 514.4 464.3 516.9 466.4 518.4 469.0 519.3 471.7 519.2 474.6 518.2 477.4 516.6 480.3 514.1 483.3 510.8 486.1 506.9 488.7 502.3 491.1 497.3 493.3 492.0 495.1 486.3 496.6 480.5 497.7 474.7 498.4 469.0 498.7 463.5 498.5 458.3 497.9 453.6 496.9 449.4 495.5 446.0 493.7 443.2 491.6 441.1 489.2 439.9 486.6 439.5 484.0 440.0 481.4 441.1 478.7 442.9 476.0 445.4 473.2 448.7 470.7 452.3 468.3 456.5 466.0 461.0 464.0 465.9 462.3 471.0 460.8 476.3 459.7 481.6 458.8 486.9 458.4 492.0 458.3 496.9 458.6 501.9 459.2 506.0 460.2 509.7 461.4 512.9 463.0 515.4 464.8 517.4 466.8 518.6 469.1 519.3 471.6 519.2 474.1 518.4 476.9 516.9 479.5 514.9 482.2 512.0 484.7 508.9 487.3 504.9 489.5 500.8 491.7 496.1 493.5 491.4 495.2 486.1 496.6 480.7 497.6 475.6 498.3 470.3 498.6 465.4 498.6 460.4 498.3 456.1 497.6 451.9 496.5 448.4 495.2 445.5 493.6 443.0 491.6 441.1 489.5 440.0 487.3 439.5 484.8 439.8 482.2 440.7 479.6 442.2 476.9 444.5 474.3 447.3 471.7 450.8 469.2 454.7 466.9 459.1 465.0 463.5 463.1 468.5 461.6 473.3 460.3 478.6 459.3 483.9 458.6 489.2 458.3 494.2 458.4 499.0 458.8 503.4 459.5 507.4 460.6 510.9 462.0 513.8 463.6 516.2 465.5 517.9 467.6 518.9 469.9 519.3 472.5 519.0 475.1 518.0 477.8 516.3 480.4 514.0 483.1 511.0 485.6 507.6 488.1 503.5 490.3 499.3 492.4 494.4 494.2 489.2 495.8 483.9 497.1 478.5 498.0 473.0 498.5 467.7 498.7 462.6 498.5 457.9 497.9 453.8 497.0 449.8 495.8 446.6 494.2 443.8 492.4 441.8 490.3 440.3 488.0 439.6 485.4 439.6 482.9 440.4 480.1 441.9 477.4 444.0 474.7 446.8 472.1 450.1 469.5 454.3 467.1 458.6 465.0 463.4 463.1 468.4 461.5 473.6 460.2 478.9 459.2 484.2 458.6 489.4 458.3 494.5 458.4 499.2 458.8 503.6 459.6 507.9 460.7 511.3 462.3 514.4 464.0 516.6 466.1 518.3 468.3 519.1 470.8 519.3 473.2 518.8 476.0 517.5 478.6 515.7 481.3 513.1 484.0 509.8 486.6 506.0 489.1 501.7 491.3 497.0 493.3 492.0 495.0 486.7 496.4 481.3 497.5 475.9 498.3 470.5 498.6 465.6 498.6 460.7 498.3 456.0 497.5 451.8 496.5 448.3 495.1 445.2 493.5 442.8 491.4 441.0 489.3 439.9 486.8 439.5 484.3 439.9 481.6 441.0 478.9 442.8 476.0 445.4 473.4 448.4 470.8 452.0 468.4 456.1 466.2 460.7 464.2 465.5 462.4 470.6 460.9 475.9 459.7 481.2 458.9 486.5 458.4 491.7 458.3 497.0 458.5 501.6 459.1 505.7 460.1 509.5 461.4 512.9 463.0 515.4 465.0 517.5 467.0 518.7 469.4 519.3 471.8 519.2 474.5 518.3 477.1 516.8 479.9 514.5 482.4 511.8 485.1 508.3 487.6 504.3 490.0 499.8 492.1 495.0 494.0 489.8 495.6 484.5 496.9 479.1" stroke="#17becf"/><path d="M524.7 443.3 521.1 443.9 517.5 444.2 514.1 444.1 511.6 443.7 509.2 443.0 506.9 442.0 499.4 437.8 496.5 436.5 493.5 435.6 490.4 435.4 488.3 435.7 486.4 436.3 484.2 437.2 482.3 438.3 480.1 439.9 478.1 441.7 474.1 446.2 471.5 449.9 469.2 453.7 466.9 458.3 464.9 462.8 463.1 467.5 461.6 472.4 460.4 477.3 459.3 482.7 458.6 487.6 458.2 492.7 458.2 497.2 458.5 501.8 459.0 505.7 460.0 509.4 461.1 512.4 462.6 515.1 464.4 517.1 466.4 518.5 468.6 519.2 471.0 519.3 473.5 518.7 476.0 517.5 478.6 515.7 481.4 513.0 483.9 510.0 486.3 506.5 488.6 502.6 490.9 498.0 492.8 493.4 494.6 488.1 496.1 482.8 497.2 477.7 498.0 472.3 498.5 467.4 498.7 462.7 498.5 458.2 497.9 453.8 497.1 450.1 495.9 446.9 494.5 444.2 492.7 442.1 490.8 440.6 488.6 439.7 486.2 439.5 483.7 440.1 481.1 441.3 478.4 443.1 475.8 445.6 473.2 448.7 470.6 452.4 468.2 456.5 466.2 460.7 464.1 465.6 462.5 470.3 461.0 475.6 459.8 480.9 459.0 485.8 458.5 491.0 458.3 495.9 458.5 500.6 459.0 504.9 459.8 508.7 461.0 512.0 462.5 514.7 464.3 516.9 466.2 518.3 468.4 519.2 470.9 519.3 473.4 518.7 476.0 517.5 478.5 515.7 481.3 513.1 483.8 510.1 486.2 506.6 488.5 502.7 490.8 498.1 492.7 493.5 494.5 488.3 496.1 482.9 497.2 477.9 498.0 472.5 498.5 467.5 498.7 462.8 498.5 458.3 497.9 453.9 497.1 450.2 496.0 446.9 494.5 444.2 492.8 442.1 490.8 440.6 488.6 439.7 486.3 439.5 483.8 440.0 481.2 441.2 478.5 443.1 475.8 445.6 473.2 448.7 470.7 452.3 468.3 456.4 466.2 460.6 464.2 465.5 462.5 470.2 461.0 475.4 459.8 480.8 459.0 485.7 458.5 490.8 458.3 495.8 458.4 500.5 459.0 504.8 459.8 508.6 461.0 511.9 462.5 514.7 464.2 516.8 466.2 518.3 468.4 519.1 470.9 519.3 473.3 518.8 475.9 517.6 478.5 515.8 481.2 513.1 483.8 510.2 486.2 506.7 488.5 502.8 490.8 498.2 492.7 493.6 494.5 488.4 496.0 483.0 497.1 478.0 498.0 472.6 498.5 467.7 498.7 462.9 498.5 458.4 498.0 454.0 497.1 450.3 496.0 447.0 494.5 444.3 492.8 442.1 490.9 440.6 488.7 439.7 486.3 439.5 483.8 440.0 481.2 441.2 478.6 443.0 475.9 445.5 473.3 448.6 470.7 452.2 468.3 456.3 466.3 460.5 464.2 465.4 462.6 470.1 461.1 475.3 459.8 480.6 459.0 485.5 458.5 490.7 458.3 495.7 458.4 500.4 458.9 504.7 459.8 508.5 461.0 511.9 462.4 514.6 464.2 516.8 466.1 518.3 468.3 519.1 470.8 519.3 473.3 518.8 475.8 517.6 478.4 515.8 481.2 513.2 483.7 510.2 486.1 506.8 488.4 502.9 490.7 498.3 492.6 493.7 494.5 488.5 496.0 483.2 497.1 478.1 498.0 472.7 498.5 467.8 498.7 463.0 498.5 458.5 498.0 454.1 497.2 450.3 496.0 447.1 494.6 444.3 492.9 442.2 490.9 440.6 488.8 439.8 486.4 439.5 483.9 440.0 481.3 441.1 478.6 443.0 476.0 445.4 473.3 448.5 470.8 452.1 468.4 456.2 466.3 460.4 464.3 465.2 462.6 469.9 461.1 475.2 459.9 480.5 459.0 485.4 458.5 490.6 458.3 495.6 458.4 500.3 458.9 504.6 459.8 508.4 460.9 511.8 462.4 514.6 464.1 516.7 466.1 518.3 468.2 519.1 470.8 519.3 473.2 518.8 475.8 517.6 478.3 515.9 481.1 513.3 483.6 510.3 486.1 506.9 488.4 503.0 490.7 498.4 492.6 493.8 494.4 488.6 496.0 483.3 497.1 478.2 498.0 472.8 498.5 467.9 498.7 463.1 498.5 458.6 498.0 454.2 497.2 450.4 496.1 447.2 494.6 444.4 492.9 442.2 491.0 440.7 488.8 439.8 486.5 439.5 484.0 440.0 481.4 441.1 478.7 442.9 476.0 445.4 473.4 448.4 470.9 452.0 468.4 456.1 466.4 460.3 464.3 465.1 462.7 469.8 461.1 475.0 459.9 480.4 459.1 485.3 458.5 490.5 458.3 495.5 458.4 500.1 458.9 504.5 459.7 508.3 460.9 511.7 462.3 514.5 464.1 516.7 466.0 518.2 468.2 519.1 470.5 519.3 473.0 518.9 475.5 517.8 478.1 516.1 480.8 513.5 483.4 510.6 486.0 507.0 488.3 503.1 490.6 498.5 492.6 493.9 494.4 488.7 495.9 483.4 497.1 478.4 498.0 472.9 498.5 468.0 498.7 463.3 498.5 458.8 498.0 454.3 497.2 450.5 496.1 447.2 494.7 444.5 493.0 442.3 491.0 440.7 488.9 439.8 486.5 439.5 484.0 440.0 481.4 441.1 478.8 442.9 476.1 445.3 473.5 448.3 470.9 451.9 468.5 456.0 466.4 460.2 464.4 465.0 462.7 469.7 461.2 474.9 459.9 480.2 459.1 485.1 458.5 490.3 458.3 495.3 458.4 500.0 458.9 504.4 459.7 508.3 460.9 511.6 462.3 514.4 464.0 516.6 466.0 518.2 468.1 519.1 470.5 519.3 472.9 518.9 475.4 517.8 478.0 516.1 480.8 513.6 483.3 510.7 485.9 507.1 488.3 503.2 490.6 498.6 492.5 494.0 494.4 488.9 495.9 483.5 497.0 478.5 498.0 473.1 498.5 468.1 498.7 463.4 498.5 458.9 498.0 454.4 497.2 450.6 496.1 447.3 494.7 444.5 493.0 442.3 491.1 440.7 488.9 439.8 486.6 439.5 484.1 439.9 481.5 441.0 478.8 442.8 476.2 445.2 473.5 448.3 471.0 451.8 468.6 455.9 466.5 460.0 464.4 464.9 462.7 469.5 461.2 474.8 460.0 480.1 459.1 485.0 458.5 490.2 458.3 495.2 458.4 499.9 458.9 504.3 459.7 508.2 460.8 511.5 462.3 514.4 464.0 516.6 465.9 518.2 468.1 519.1 470.4 519.3 472.8 518.9 475.4 517.9 478.0 516.2 480.7 513.7 483.3 510.8 485.9 507.1 488.2 503.3 490.5 498.7 492.5 494.2 494.3 489.0 495.9 483.6 497.0 478.6 497.9 473.2 498.5 468.3 498.7 463.5 498.5 459.0 498.0 454.5 497.3 450.7 496.1 447.4 494.7 444.6 493.1 442.4 491.1 440.8 489.0 439.8 486.6 439.5 484.2 439.9 481.6 441.0 478.9 442.8 476.2 445.2 473.6 448.2 471.0 451.7 468.6 455.8 466.5 459.9 464.5 464.7 462.8 469.4 461.2 474.7 460.0 480.0 459.1 484.9 458.5 490.1 458.3 495.1 458.4 499.8 458.9 504.2 459.7 508.1 460.8 511.5 462.2 514.3 463.9 516.5 465.9 518.1 468.0 519.1 470.3 519.3 472.8 518.9 475.3 517.9 477.9 516.2 480.7 513.7 483.2 510.9 485.8 507.2 488.1 503.4 490.5 498.8 492.4 494.3 494.3 489.1 495.8 483.8 497.0 478.7 497.9 473.3 498.5 468.4 498.7 463.6 498.5 459.1 498.1 454.6 497.3 450.8 496.2 447.5 494.8 444.7 493.1 442.4 491.2 440.8 489.0 439.8 486.7 439.5 484.2 439.9 481.6 441.0 479.0 442.7 476.3 445.1 473.7 448.1 471.1 451.6 468.7 455.7 466.6 459.8 464.5 464.6 462.7 469.7 461.3 474.5 460.0 479.8 459.1 484.8 458.5 490.0 458.3 495.0 458.4 499.7 458.8 504.1 459.6 508.0 460.8 511.4 462.2 514.2 463.9 516.5 465.8 518.1 468.0 519.0 470.3 519.3 472.7 519.0 475.3 517.9 477.8 516.3 480.6 513.8 483.1 511.0 485.8 507.3 488.1 503.5 490.4 498.9 492.4 494.4 494.2 489.2 495.8 483.9 497.0 478.8 497.9 473.4 498.4 468.5 498.7 463.7 498.6 459.2 498.1 454.7 497.3 450.9 496.2 447.5 494.8 444.7 493.2 442.5 491.2 440.8 489.1 439.8 486.8 439.5 484.3 439.9 481.7 440.9 479.0 442.7 476.4 445.0 473.7 448.0 471.2 451.5 468.7 455.6 466.6 459.7 464.6 464.5 462.7 469.6 461.3 474.4 460.0 479.7 459.2 484.6 458.5 489.8 458.3 494.9 458.4 499.6 458.8 504.0 459.6 507.9 460.7 511.3 462.2 514.2 463.8 516.4 465.8 518.1 467.9 519.0 470.2 519.3 472.7 519.0 475.2 518.0 477.8 516.3 480.5 513.9 483.1 511.0 485.7 507.4 488.0 503.6 490.4 499.0 492.3 494.5 494.2 489.3 495.8 484.0 496.9 479.0 497.9 473.6 498.4 468.6 498.7 463.8 498.6 459.3 498.1 454.8 497.3 451.0 496.2 447.6 494.9 444.8 493.2 442.5 491.3 440.9 489.1 439.9 486.8 439.5 484.3 439.9 481.8 440.9 479.1 442.6 476.4 445.0 473.8 447.9 471.2 451.5 468.8 455.5 466.7 459.6 464.6 464.4 462.8 469.4 461.3 474.3 460.1 479.6 459.2 484.5 458.6 489.7 458.3 494.7 458.4 499.5 458.8 503.9 459.6 507.8 460.7 511.2 462.1 514.1 463.8 516.4 465.7 518.0 467.9 519.0 470.2 519.3 472.6 519.0 475.1 518.0 477.7 516.4 480.5 513.9 483.0 511.1 485.7 507.5 488.0 503.7 490.3 499.2 492.3 494.6 494.2 489.5 495.7 484.1 496.9 479.1" stroke="#1f77b4"/><path d="M497.7 484.3 497.8 483.4 497.5 482.7 497.0 482.6 496.2 483.0 494.8 485.0 493.4 488.1 492.6 491.2 492.0 494.6 491.9 497.8 492.1 501.0 492.6 503.3 493.3 505.2 494.2 506.8 495.3 508.0 496.6 508.7 498.0 508.9 499.5 508.7 501.1 508.1 503.6 506.4 506.2 503.5 508.7 500.0 511.0 495.8 513.2 490.9 515.0 485.6 516.5 479.9 517.7 474.1 518.5 466.4 518.5 459.4 517.8 453.1 516.3 447.8 515.3 445.5 514.2 443.5 512.9 441.9 511.5 440.6 509.9 439.7 508.2 439.1 506.4 438.9 504.7 439.1 502.6 439.7 500.3 440.8 498.0 442.3 496.0 444.1 493.7 446.5 491.6 449.0 487.5 455.2 483.7 462.5 480.4 470.7 477.7 479.5 475.8 488.4 474.8 494.8 474.4 501.1 474.4 506.9 474.9 512.7 475.9 517.4 477.4 521.8 479.2 525.0 481.5 527.5 483.9 529.0 485.3 529.5 486.8 529.7 488.3 529.6 489.9 529.3 493.2 527.9 496.3 525.8 499.6 522.6 502.8 518.7 505.9 514.0 508.8 508.7 511.5 502.9 513.9 496.7 515.8 490.2 517.4 483.6 518.6 477.0 519.3 470.5 519.5 464.4 519.3 458.6 518.5 453.3 517.3 448.8 515.7 444.9 513.6 441.9 511.3 440.0 509.9 439.2 508.5 438.8 505.7 438.7 503.1 439.3 500.4 440.6 497.7 442.5 494.9 445.1 492.2 448.2 489.5 451.9 486.9 456.1 484.5 460.8 482.3 465.8 480.2 471.0 478.6 476.1 477.1 481.7 475.9 487.3 475.1 492.9 474.5 498.3 474.3 503.5 474.5 508.4 475.0 512.9 475.8 517.0 476.9 520.6 478.3 523.6 480.0 526.1 481.9 527.9 484.2 529.2 486.6 529.7 489.2 529.5 491.8 528.6 494.6 527.0 497.3 524.9 500.2 522.0 502.8 518.8 505.5 514.8 507.8 510.6 510.2 505.8 512.3 501.0 514.2 495.5 515.9 489.9 517.3 484.2 518.4 478.5 519.1 473.2 519.5 467.8 519.5 462.9 519.2 458.0 518.6 453.8 517.6 449.7 516.4 446.4 514.8 443.5 513.0 441.3 510.8 439.7 508.6 438.9 506.2 438.7 503.6 439.1 500.9 440.3 498.2 442.1 495.4 444.5 492.7 447.6 490.0 451.2 487.4 455.3 484.9 459.8 482.7 464.8 480.6 470.0 478.8 475.5 477.3 481.0 476.1 486.7 475.0 493.2 474.5 499.5 474.4 505.5 474.8 511.4 475.6 516.3 477.0 520.8 478.7 524.2 480.9 527.0 483.3 528.7 484.6 529.3 486.1 529.6 487.5 529.7 489.2 529.5 492.4 528.3 495.5 526.4 498.8 523.5 502.0 519.7 505.2 515.2 507.8 510.8 510.4 505.5 512.5 500.3 514.6 494.4 516.4 488.3 517.7 482.6 518.7 476.4 519.3 470.8 519.5 465.0 519.4 459.9 518.8 454.9 517.9 450.7 516.6 446.8 515.0 443.7 513.1 441.4 510.9 439.7 508.5 438.8 505.8 438.7 503.0 439.3 500.1 440.8 497.1 443.0 494.1 445.9 491.2 449.5 488.5 453.4 485.8 458.1 483.3 463.4 481.0 469.0 479.1 474.4 477.6 480.0 476.2 486.1 475.2 492.1 474.6 498.0 474.3 503.2 474.5 508.6 475.1 513.4 476.0 517.8 477.3 521.5 478.9 524.6 480.8 527.0 483.0 528.6 485.5 529.5 488.1 529.6 490.8 529.0 493.8 527.5 496.7 525.4 499.8 522.4 502.6 519.0 505.5 514.6 508.1 510.1 510.7 504.8 512.8 499.6 514.8 493.7 516.5 487.5 517.8 481.8 518.8 475.7 519.3 470.1 519.5 464.4 519.3 459.3 518.8 454.7 517.9 450.5 516.5 446.6 514.9 443.6 513.0 441.3 510.8 439.7 508.3 438.8 505.7 438.7 502.9 439.4 499.9 440.9 497.0 443.1 494.0 446.1 491.0 449.7 488.2 454.0 485.5 458.8 483.0 464.1 480.7 469.7 478.9 475.2 477.4 480.7 476.0 486.8 475.1 492.9 474.5 498.8 474.3 504.4 474.6 509.6 475.2 514.4 476.2 518.6 477.6 522.2 479.3 525.1 481.3 527.4 483.5 528.9 486.0 529.6 488.6 529.6 491.4 528.8 494.4 527.1 497.3 524.9 500.4 521.7 503.2 518.2 506.1 513.8 508.6 509.2 511.1 503.8 513.2 498.5 515.2 492.5 516.8 486.4 518.0 480.6 518.9 474.5 519.4 469.0 519.5 463.3 519.3 458.3 518.6 453.8 517.6 449.7 516.2 445.9 514.5 443.1 512.5 440.9 510.3 439.4 507.8 438.7 505.1 438.8 502.3 439.6 499.3 441.3 496.3 443.7 493.4 446.8 490.4 450.5 487.8 454.6 485.1 459.5 482.7 464.8 480.4 470.5 478.7 475.9 477.2 481.5 475.9 487.6 475.0 493.7 474.5 499.5 474.4 504.6 474.6 509.9 475.3 514.6 476.3 518.8 477.7 522.4 479.4 525.3 481.4 527.5 483.6 528.9 486.1 529.6 488.8 529.5 491.5 528.7 494.6 527.0 497.5 524.7 500.5 521.6 503.3 518.0 506.2 513.5 508.7 508.9 511.2 503.5 513.3 498.2 515.3 492.2 516.9 486.1 518.1 480.3 519.0 474.2 519.4 468.7 519.5 463.0 519.2 458.1 518.5 453.2 517.5 449.2 516.0 445.5 514.3 442.7 512.3 440.7 510.0 439.3 507.5 438.7 504.7 438.8 501.9 439.8 498.9 441.5 496.0 444.0 493.0 447.2 490.0 451.1 487.2 455.5 484.6 460.5 482.2 465.9 480.0 471.7 478.3 477.2 476.9 482.8 475.7 488.9 474.8 494.9 474.4 500.7 474.4 506.2 474.8 511.3 475.5 515.8 476.6 519.9 478.1 523.3 479.9 526.0 482.0 528.0 484.3 529.2 486.8 529.7 489.5 529.4 492.3 528.4 495.4 526.5 498.3 524.0 501.3 520.6 504.1 516.9 506.9 512.3 509.4 507.5 511.9 502.0 513.9 496.6 515.7 490.6 517.3 484.4 518.3 478.7 519.1 472.6 519.5 467.2 519.5 461.6 519.1 456.7 518.3 452.3 517.2 448.4 515.7 444.9 513.9 442.3 511.8 440.3 509.5 439.1 506.9 438.7 504.2 439.0 501.3 440.1 498.3 442.0 495.3 444.6 492.4 448.0 489.5 452.0 486.9 456.2 484.3 461.2 481.9 466.7 479.8 472.4 478.1 478.0 476.7 483.6 475.5 489.7 474.8 495.6 474.4 501.4 474.4 506.4 474.8 511.5 475.6 516.1 476.7 520.1 478.2 523.4 480.0 526.1 482.1 528.0 484.4 529.2 487.0 529.7 489.7 529.4 492.5 528.3 495.6 526.3 498.4 523.8 501.5 520.4 504.2 516.6 507.1 512.0 509.5 507.3 512.0 501.8 514.0 496.3 515.8 490.3 517.3 484.1 518.4 478.4 519.2 472.3 519.5 466.9 519.5 461.3 519.1 456.5 518.2 451.8 517.1 448.0 515.5 444.5 513.6 442.0 511.5 440.1 509.2 439.0 506.6 438.6 503.8 439.1 500.9 440.3 497.9 442.3 494.9 445.0 492.0 448.4 489.1 452.5 486.3 457.2 483.8 462.3 481.4 467.8 479.5 473.2 477.7 479.2 476.4 484.8 475.3 490.9 474.7 496.9 474.4 502.6 474.5 507.9 475.0 512.9 475.9 517.3 477.2 521.3 478.8 524.5 480.7 526.9 482.9 528.6 485.5 529.5 488.1 529.6 491.1 528.9 494.2 527.3 497.3 524.9 500.1 522.0 503.1 518.3 506.0 513.8 508.7 508.9 511.2 503.5 513.5 497.7 515.4 491.7 517.0 485.6 518.2 479.4 519.1 473.3 519.5 467.4 519.5 462.2 519.1 457.0 518.3 452.2 517.1 448.1 515.6 444.8 513.7 442.0 511.6 440.1 509.0 439.0 506.4 438.7 503.4 439.2 500.5 440.5 497.6 442.6 494.6 445.4 491.6 448.9 488.7 453.1 486.0 457.8 483.4 463.0 481.1 468.6 479.1 474.4 477.4 480.5 476.1 486.6 475.1 492.6 474.5 498.5 474.3 504.1 474.6 509.8 475.2 514.5 476.3 518.7 477.6 522.3 479.5 525.4 481.5 527.6 484.0 529.1 486.5 529.6 489.3 529.4 492.1 528.5 495.2 526.6 498.3 524.0 501.4 520.6 504.3 516.5 507.2 511.9 509.8 506.8 512.2 501.2 514.3 495.3 516.1 489.3 517.5 483.1 518.6 476.9 519.3 470.9 519.5 465.1 519.4 459.7 518.8 455.0 517.9 450.5 516.6 446.8 514.9 443.6 513.0 441.3 510.6 439.6 508.1 438.8 505.2 438.8 502.4 439.6 499.2 441.3 496.2 443.7 493.3 446.9 490.3 450.7 487.3 455.4 484.7 460.4 482.2 465.8 480.1 471.6 478.2 477.5 476.7 483.6 475.5 489.7 474.8 495.7 474.4 501.4 474.4 506.9 474.8 511.9 475.7 516.7 477.0 520.9 478.9 524.5 481.0 527.1 482.1 528.0 483.5 528.9 484.8 529.4 486.4 529.6 487.8 529.7 489.5 529.4 492.7 528.2 496.0 526.0 499.3 522.9 502.6 519.0 505.7 514.4 508.6 509.1 511.3 503.4 513.7 497.2 515.8 490.3 517.4 483.7" stroke="#ff7f0e"/><path d="M542.7 447.6 539.3 448.1 536.0 448.2 532.9 447.9 530.5 447.3 528.3 446.3 526.2 445.1 519.0 439.6 516.0 437.8 512.7 436.5 509.3 436.1 507.0 436.4 504.8 437.0 502.5 438.1 500.1 439.6 497.8 441.5 495.4 443.7 493.1 446.4 490.8 449.4 487.9 453.9 485.4 458.4 483.1 463.3 481.0 468.6 479.2 474.0 477.6 479.6 476.3 485.2 475.3 490.9 474.7 496.4 474.3 501.7 474.4 506.7 474.8 511.7 475.5 515.9 476.6 519.7 477.9 522.9 479.7 525.7 481.7 527.7 484.0 529.1 486.5 529.7 489.2 529.5 491.9 528.6 494.8 526.9 497.7 524.6 500.5 521.6 503.3 518.0 506.0 513.9 508.5 509.3 511.1 503.9 513.2 498.6 515.1 492.7 516.8 486.5 518.0 480.8 518.9 474.7 519.4 469.2 519.5 463.4 519.3 458.5 518.6 453.6 517.6 449.5 516.2 446.0 514.6 443.1 512.6 440.9 510.4 439.5 507.9 438.7 505.2 438.8 502.4 439.6 499.4 441.2 496.4 443.6 493.7 446.4 490.7 450.1 487.9 454.4 485.2 459.3 482.9 464.2 480.7 469.8 478.9 475.3 477.2 481.3 475.9 487.4 475.1 493.0 474.5 498.9 474.4 504.5 474.6 509.7 475.2 514.1 476.2 518.4 477.5 522.0 479.2 525.0 481.2 527.3 483.4 528.8 485.8 529.6 488.5 529.6 491.2 528.9 494.1 527.4 496.9 525.2 500.0 522.2 502.8 518.7 505.7 514.3 508.3 509.8 510.8 504.5 513.0 499.2 515.0 493.2 516.6 487.1 517.9 481.4 518.8 475.3 519.4 469.7 519.5 464.0 519.3 459.0 518.7 454.0 517.7 449.9 516.4 446.4 514.8 443.4 512.8 441.1 510.6 439.6 508.1 438.8 505.5 438.7 502.7 439.5 499.7 441.0 496.7 443.3 493.7 446.3 490.8 450.0 488.0 454.3 485.3 459.2 483.0 464.1 480.7 469.7 478.9 475.1 477.2 481.2 475.9 487.3 475.1 492.9 474.5 498.7 474.3 504.3 474.6 509.6 475.2 514.0 476.1 518.3 477.5 521.9 479.1 524.9 481.1 527.2 483.3 528.8 485.8 529.6 488.4 529.6 491.1 528.9 494.0 527.4 496.9 525.3 499.9 522.2 502.8 518.8 505.7 514.4 508.2 509.9 510.8 504.6 512.9 499.3 514.9 493.4 516.6 487.3 517.9 481.5 518.8 475.4 519.4 469.8 519.5 464.1 519.3 459.1 518.7 454.1 517.7 450.0 516.4 446.4 514.8 443.5 512.9 441.2 510.7 439.6 508.2 438.8 505.5 438.7 502.7 439.5 499.8 441.0 496.8 443.2 493.8 446.2 490.9 449.9 488.0 454.2 485.3 459.0 483.0 463.9 480.8 469.6 478.9 475.0 477.3 481.0 476.0 487.1 475.1 492.7 474.5 498.6 474.3 504.2 474.6 509.5 475.1 513.9 476.1 518.2 477.4 521.8 479.1 524.9 481.1 527.2 483.3 528.7 485.7 529.6 488.3 529.6 491.1 528.9 493.9 527.5 496.8 525.3 499.9 522.3 502.7 518.9 505.6 514.5 508.2 510.0 510.7 504.7 512.9 499.5 514.9 493.5 516.6 487.4 517.8 481.7 518.8 475.5 519.3 470.0 519.5 464.2 519.3 459.2 518.7 454.2 517.8 450.1 516.5 446.5 514.8 443.5 512.9 441.2 510.7 439.6 508.3 438.8 505.6 438.7 502.8 439.4 499.9 440.9 496.9 443.2 493.9 446.1 490.9 449.8 488.1 454.1 485.4 458.9 483.1 463.8 480.8 469.4 479.0 474.8 477.3 480.9 476.0 487.0 475.1 492.6 474.5 498.5 474.3 504.1 474.6 509.3 475.1 513.8 476.1 518.1 477.4 521.8 479.0 524.8 481.0 527.1 483.2 528.7 485.6 529.5 488.3 529.6 491.0 528.9 493.8 527.5 496.7 525.4 499.8 522.4 502.6 519.0 505.5 514.6 508.1 510.1 510.7 504.8 512.8 499.6 514.8 493.7 516.5 487.5 517.8 481.8 518.8 475.7 519.3 470.1 519.5 464.4 519.3 459.3 518.7 454.3 517.8 450.2 516.5 446.6 514.9 443.6 513.0 441.3 510.8 439.7 508.3 438.8 505.7 438.7 502.9 439.4 499.9 440.9 497.0 443.1 494.0 446.1 491.0 449.7 488.2 454.0 485.5 458.8 483.1 463.7 480.9 469.3 479.0 474.7 477.5 480.3 476.1 486.4 475.2 492.0 474.6 497.9 474.4 503.1 474.5 508.4 475.0 512.9 475.9 517.3 477.1 521.2 478.7 524.3 480.6 526.8 482.8 528.5 485.2 529.5 487.8 529.7 490.5 529.1 493.3 527.8 496.2 525.8 499.3 522.9 502.1 519.6 505.1 515.4 507.7 511.0 510.3 505.8 512.4 500.5 514.5 494.7 516.3 488.6 517.6 482.8 518.6 476.7 519.3 471.1 519.5 465.3 519.4 460.2 518.9 455.1 518.0 450.9 516.8 447.2 515.2 444.1 513.3 441.6 511.2 439.9 508.8 438.9 506.2 438.7 503.4 439.2 500.5 440.5 497.5 442.6 494.5 445.5 491.5 449.0 488.7 453.2 485.9 457.9 483.6 462.7 481.3 468.2 479.4 473.6 477.6 479.7 476.2 485.8 475.3 491.4 474.6 497.3 474.4 503.0 474.5 508.3 475.0 512.8 475.9 517.2 477.1 521.1 478.7 524.2 480.6 526.7 482.7 528.5 485.1 529.4 487.7 529.7 490.4 529.1 493.3 527.9 496.1 525.9 499.2 523.0 502.1 519.7 505.0 515.5 507.6 511.1 510.2 505.9 512.4 500.7 514.5 494.8 516.2 488.7 517.6 483.0 518.6 476.8 519.3 471.2 519.5 465.4 519.4 460.3 518.9 455.2 518.0 451.0 516.8 447.3 515.2 444.2 513.4 441.7 511.2 439.9 508.8 438.9 506.2 438.7 503.4 439.2 500.5 440.5 497.6 442.6 494.6 445.4 491.6 448.9 488.7 453.1 486.0 457.8 483.6 462.6 481.3 468.1 479.4 473.5 477.7 479.5 476.3 485.6 475.3 491.2 474.6 497.1 474.4 502.8 474.5 508.2 475.0 512.7 475.8 517.1 477.1 521.0 478.6 524.2 480.5 526.7 482.7 528.4 485.1 529.4 487.7 529.7 490.4 529.2 493.2 527.9 496.1 525.9 499.2 523.1 502.0 519.8 504.9 515.6 507.5 511.2 510.1 506.0 512.3 500.8 514.4 494.9 516.2 488.8 517.5 483.1 518.6 477.0 519.2 471.4 519.5 465.5 519.4 460.4 518.9 455.3 518.0 451.1 516.8 447.4 515.3 444.2 513.4 441.7 511.3 440.0 508.9 438.9 506.3 438.7 503.5 439.2 500.6 440.5 497.6 442.5 494.6 445.3 491.7 448.8 488.8 453.0 486.1 457.7 483.7 462.4 481.4 468.0 479.5 473.3 477.7 479.4 476.3 485.5 475.3 491.1 474.6 497.0 474.4 502.7 474.5 508.0 474.9 512.6 475.8 517.0 477.0 520.9 478.6 524.1 480.5 526.6 482.6 528.4 485.0 529.4 487.6 529.7 490.3 529.2 493.1 527.9 496.0 526.0 499.1 523.2 501.9 519.9 504.9 515.7 507.5 511.3 510.1 506.1 512.3 500.9 514.4 495.1 516.2 489.0 517.5 483.3 518.6 477.1 519.2 471.5 519.5 465.7 519.4 460.6 518.9 455.5 518.1 451.2 516.9 447.4 515.3 444.3 513.5 441.8 511.3 440.0 509.0 438.9 506.4 438.7 503.6 439.1 500.7 440.4 497.7 442.5 494.7 445.3 491.8 448.7 488.9 452.9 486.1 457.5 483.8 462.3 481.4 467.8 479.5 473.2 477.7 479.2 476.3 485.3 475.3 490.9 474.7 496.9 474.4 502.6 474.5 507.9 474.9 512.5 475.8 516.9 477.0 520.8 478.6 524.0 480.4 526.6 482.6 528.3 485.0 529.4 487.5 529.7 490.2 529.2 493.1 528.0 495.9 526.1 499.0 523.2 501.9 520.0 504.8 515.8 507.4 511.4 510.0 506.2 512.2 501.1 514.3 495.2 516.1 489.1 517.5 483.4 518.6 477.2 519.2 471.6 519.5 465.8 519.4 460.7 518.9 455.6 518.1 451.3 516.9 447.5 515.4 444.4 513.5 441.8 511.4 440.0 509.0 439.0 506.4 438.7 503.7 439.1 500.8 440.4 497.8 442.4 494.8 445.2 491.8 448.6 488.9 452.7 486.2 457.4 483.8 462.2 481.5 467.7 479.6 473.1 477.8 479.1 476.4 485.2 475.4 490.8 474.7 496.7 474.4 502.4 474.5 507.8 474.9 512.4 475.7 516.8 477.0 520.7 478.5 524.0 480.4 526.5 482.5 528.3 484.9 529.4 487.5 529.7 490.2 529.2 493.0 528.0 495.9 526.1 498.9 523.3 501.8 520.0 504.7 515.9 507.3 511.5 510.0 506.4 512.2 501.2 514.3 495.3 516.1 489.3 517.5 483.5 518.5 477.4 519.2 471.8 519.5 465.9 519.4 460.8 518.9 455.7 518.1 451.4 516.9 447.6 515.4 444.4 513.6 441.9 511.5 440.1 509.1 439.0 506.5 438.7 503.7 439.1 500.8 440.3 497.9 442.4 494.9 445.1 491.9 448.5 489.0 452.6 486.3 457.3 483.9 462.0 481.5 467.5 479.6 472.9 477.8 478.9 476.4 485.0 475.4 490.6 474.7 496.6 474.4 502.3 474.5 507.7 474.9 512.3 475.7 516.7 476.9 520.6 478.5 523.9 480.3 526.4 482.5 528.3 484.8 529.4 487.4 529.7 490.1 529.2 492.9 528.1 495.8 526.2 498.9 523.4 501.7 520.1 504.7 516.0 507.3 511.7 509.9 506.5 512.1 501.3 514.3 495.5 516.1 489.4 517.4 483.7" stroke="#2ca02c"/><path d="M516.6 489.2 516.7 487.9 516.4 486.9 515.6 486.5 514.6 486.8 513.6 487.7 512.5 489.0 510.2 492.9 508.4 497.5 507.0 502.4 506.1 507.5 505.6 512.5 505.7 516.5 506.1 520.0 506.8 523.1 507.9 525.5 509.3 527.4 511.0 528.5 512.9 528.9 514.9 528.6 516.5 527.9 518.3 526.8 520.0 525.4 521.8 523.6 525.3 518.9 528.9 512.9 531.9 506.2 534.7 498.6 536.9 491.0 538.7 482.8 539.9 473.2 540.2 464.7 539.6 456.9 539.0 453.2 538.2 450.2 537.2 447.2 536.0 444.8 534.6 442.6 533.1 440.9 531.3 439.6 529.5 438.8 527.4 438.4 525.4 438.5 523.0 439.0 520.6 440.1 518.1 441.7 515.9 443.6 513.3 446.1 511.1 448.8 508.6 452.2 506.5 455.6 502.2 463.6 498.4 472.7 495.3 482.4 493.0 492.3 491.8 499.5 491.2 506.6 491.0 513.2 491.4 519.7 492.3 525.1 493.7 529.8 495.5 533.6 496.6 535.2 497.9 536.7 499.1 537.7 500.4 538.6 501.8 539.1 503.5 539.5 505.0 539.6 506.8 539.3 508.4 538.9 510.3 538.1 513.9 535.7 517.5 532.4 521.0 528.1 524.5 523.1 527.7 517.3 530.7 510.9 533.3 504.1 535.6 497.0 537.5 489.7 538.9 482.4 539.9 475.2 540.3 468.2 540.2 461.7 539.6 455.8 538.4 450.5 536.8 446.1 534.6 442.6 532.3 440.2 530.8 439.3 529.4 438.7 527.9 438.4 526.3 438.4 523.1 439.0 519.9 440.5 516.7 442.9 513.4 446.0 510.2 450.0 507.0 454.7 504.0 460.0 501.2 465.8 498.6 472.0 496.4 478.6 494.5 485.3 493.0 492.1 491.9 498.9 491.3 505.4 491.0 511.7 491.3 517.9 491.9 523.1 493.0 527.8 494.5 531.7 496.5 535.1 498.7 537.4 500.0 538.3 501.3 539.0 504.0 539.6 507.2 539.2 510.2 538.1 513.5 536.0 516.9 533.0 520.2 529.1 523.5 524.6 526.6 519.4 529.5 513.7 532.1 507.5 534.3 501.4 536.3 494.7 537.9 487.9 539.1 481.5 539.9 474.8 540.3 468.8 540.2 462.7 539.8 457.4 538.9 452.3 537.6 448.2 536.0 444.6 534.1 441.9 531.8 439.9 529.2 438.7 526.4 438.4 523.4 438.9 520.3 440.3 517.0 442.6 513.7 445.7 510.7 449.2 507.6 453.8 504.5 459.0 501.7 464.7 499.3 470.4 496.9 476.9 495.1 483.1 493.5 489.9 492.2 496.7 491.5 502.8 491.1 509.2 491.1 515.2 491.6 520.7 492.5 525.6 493.7 529.9 495.4 533.4 497.4 536.2 499.7 538.2 502.3 539.3 505.1 539.6 508.0 539.0 511.1 537.6 514.4 535.2 517.5 532.3 520.9 528.3 523.9 524.0 526.9 518.7 529.6 513.4 532.2 507.2 534.5 500.6 536.4 494.4 538.0 487.6 539.1 481.2 539.9 474.5 540.3 468.5 540.2 462.4 539.8 457.2 538.8 452.1 537.6 448.0 535.9 444.5 533.9 441.7 531.5 439.7 528.9 438.6 526.0 438.4 523.0 439.0 519.9 440.6 516.6 442.9 513.3 446.1 510.1 450.1 506.9 454.8 503.9 460.1 501.1 465.9 498.8 471.7 496.7 477.7 494.7 484.5 493.2 491.3 492.0 498.0 491.4 504.1 491.0 510.4 491.2 516.3 491.7 521.7 492.7 526.5 494.1 530.7 495.8 534.1 497.9 536.7 500.2 538.5 502.8 539.4 505.7 539.5 508.6 538.8 511.7 537.2 515.1 534.7 518.2 531.6 521.5 527.5 524.5 523.0 527.5 517.7 530.1 512.2 532.7 505.9 534.9 499.4 536.8 492.6 538.3 485.8 539.4 479.4 540.1 472.8 540.3 466.9 540.1 460.9 539.6 455.8 538.5 450.8 537.1 446.9 535.4 443.6 533.3 441.1 531.0 439.4 528.3 438.5 525.4 438.4 522.4 439.3 519.2 441.0 515.9 443.5 512.6 446.9 509.7 450.7 506.5 455.5 503.5 460.8 500.8 466.7 498.5 472.5 496.4 478.6 494.5 485.4 493.0 492.2 491.9 498.9 491.3 505.0 491.0 511.2 491.2 517.1 491.8 522.4 492.8 527.1 494.3 531.2 496.1 534.5 498.2 537.0 500.6 538.6 503.2 539.5 506.0 539.5 509.0 538.6 512.1 537.0 515.5 534.3 518.6 531.1 521.9 526.9 524.8 522.4 527.8 517.0 530.4 511.5 533.0 505.2 535.2 498.6 536.9 492.3 538.4 485.4 539.4 479.1 540.1 472.5 540.3 466.6 540.1 460.6 539.5 455.5 538.4 450.6 537.0 446.7 535.3 443.5 533.2 441.0 530.8 439.3 528.2 438.4 525.3 438.5 522.2 439.3 519.0 441.1 515.8 443.7 512.5 447.1 509.5 450.9 506.4 455.7 503.4 461.1 500.6 467.1 498.3 472.9 496.3 479.0 494.4 485.7 492.9 492.5 491.9 499.2 491.3 505.3 491.0 511.5 491.2 517.4 491.9 522.7 492.9 527.4 494.4 531.4 496.2 534.6 498.3 537.1 500.7 538.7 503.3 539.5 506.2 539.4 509.2 538.6 512.3 536.9 515.6 534.2 518.8 530.9 522.0 526.7 525.0 522.2 528.0 516.7 530.6 511.2 533.1 504.8 535.3 498.2 537.0 491.9 538.5 485.1 539.4 478.8 540.1 472.2 540.3 466.3 540.1 460.3 539.5 455.3 538.4 450.4 537.0 446.5 535.2 443.3 533.1 440.9 530.7 439.2 528.0 438.4 525.1 438.5 522.0 439.4 518.8 441.2 515.6 443.8 512.3 447.3 509.3 451.2 506.2 456.0 503.2 461.4 500.5 467.4 498.2 473.2 496.2 479.3 494.3 486.1 492.9 492.9 491.8 499.6 491.2 505.6 491.0 511.8 491.3 517.6 491.9 522.9 493.0 527.6 494.4 531.5 496.3 534.8 498.4 537.2 500.8 538.8 503.5 539.5 506.3 539.4 509.3 538.5 512.4 536.8 515.8 534.0 518.9 530.8 522.2 526.5 525.1 521.9 528.1 516.4 530.7 510.9 533.2 504.5 535.4 497.9 537.1 491.6 538.5 484.8 539.5 478.5 540.1 471.9 540.3 466.0 540.1 460.1 539.4 455.0 538.3 450.2 536.9 446.3 535.1 443.2 533.0 440.8 530.6 439.2 527.9 438.4 525.0 438.5 521.9 439.5 518.7 441.3 515.4 444.0 512.1 447.5 508.9 451.7 505.8 456.7 502.9 462.2 500.2 468.2 497.9 474.1 495.9 480.2 494.1 486.9 492.7 493.7 491.7 500.5 491.2 506.4 491.0 512.6 491.3 518.4 492.0 523.6 493.1 528.1 494.7 532.0 496.5 535.1 498.7 537.4 501.2 538.9 503.9 539.6 506.7 539.3 510.0 538.2 513.1 536.3 516.4 533.4 519.6 530.0 522.8 525.6 525.7 520.9 528.7 515.3 531.4 509.2 533.8 502.8 535.9 496.1 537.6 489.3 538.9 482.5 539.8 476.2 540.2 469.7 540.3 463.9 539.9 458.2 539.1 453.3 537.8 448.7 536.3 445.1 534.4 442.2 532.1 440.1 529.6 438.8 526.8 438.3 523.9 438.8 520.7 440.0 517.5 442.2 514.2 445.2 511.0 448.9 507.8 453.4 504.7 458.6 501.9 464.3 499.3 470.4 497.1 476.4 495.2 482.6 493.6 489.4 492.3 496.2 491.5 502.8 491.1 508.7 491.1 514.7 491.5 520.3 492.4 525.3 493.6 529.6 495.3 533.2 497.3 536.0 499.7 538.2 502.3 539.3 503.8 539.5 505.3 539.5 508.5 538.8 511.8 537.2 514.9 534.8 518.3 531.5 521.6 527.3 524.8 522.5 527.8 517.1 530.6 511.2 533.1 504.8 535.3 498.2 537.1 491.4 538.5 484.6 539.6 477.8 540.1 471.7 540.3 465.4 540.1 459.9 539.3 454.5 538.3 450.1 536.7 446.0 534.9 442.9 532.7 440.6 530.3 439.1 527.6 438.4 524.6 438.6 521.5 439.6 518.3 441.6 515.1 444.3 511.8 447.9 508.6 452.2 505.7 456.8 502.8 462.3 500.1 468.4 497.7 474.7 495.7 480.9 494.1 487.1 492.7 493.9 491.7 500.6 491.1 507.1 491.0 513.2 491.4 518.9 492.1 524.1 493.3 528.6 494.8 532.4 496.7 535.4 498.9 537.6 500.3 538.5 501.6 539.1 504.4 539.6 507.3 539.2 510.3 538.0 513.6 535.9 516.8 533.1 520.1 529.3 523.1 525.1 526.2 520.0 528.9 514.7 531.6 508.6 534.0 502.2 536.1 495.5 537.7 488.6 538.9 482.3 539.8 475.6 540.2 469.5 540.3 463.4 539.9 458.0 539.0 452.8 537.8 448.6 536.1 444.8 534.1 442.0 531.9 439.9 529.3 438.7 526.5 438.3 523.5 438.9 520.4 440.2 517.2 442.5 513.6 445.8 510.4 449.7 507.2 454.3 504.2 459.6 501.4 465.4 498.8 471.6 496.5 478.1 494.6 484.9 493.1 491.7 492.0 498.4 491.3 505.0 491.0 511.3 491.2 517.1 491.8 522.4 492.9 527.2 494.4 531.5 496.2 534.7 498.5 537.3 501.0 538.8 502.4 539.3 503.9 539.6 506.7 539.3 510.0 538.2 513.3 536.1 516.7 533.2 519.8 529.7 523.1 525.2 526.2 520.1 529.1 514.5 531.7 508.3 534.1 501.8 536.1 495.1 537.8 488.3" stroke="#d62728"/><path d="M560.9 452.0 557.8 452.3 554.7 452.3 551.9 451.7 549.7 450.9 547.7 449.7 545.7 448.2 539.0 441.6 535.9 439.1 534.0 438.0 532.1 437.3 530.1 436.9 528.3 436.8 525.8 437.2 523.1 438.1 520.3 439.6 517.8 441.4 515.0 444.0 512.5 446.8 510.0 450.0 507.5 453.6 504.7 458.4 502.1 463.7 499.6 469.4 497.4 475.3 495.7 481.0 494.0 487.2 492.7 493.5 491.8 499.7 491.2 505.7 491.0 511.5 491.2 516.9 491.7 521.9 492.6 526.3 493.9 530.2 495.4 533.4 497.2 536.0 499.5 538.0 502.1 539.2 504.8 539.6 507.8 539.1 510.8 537.8 513.9 535.6 517.1 532.8 520.2 529.2 523.2 525.1 526.1 520.3 528.8 515.1 531.5 509.0 533.7 503.0 535.8 496.3 537.5 489.5 538.8 483.2 539.7 476.4 540.2 470.4 540.3 464.6 540.0 459.2 539.3 454.2 538.2 449.8 536.7 446.0 534.9 442.9 532.8 440.6 530.3 439.1 527.6 438.4 524.9 438.5 521.8 439.5 518.6 441.4 515.4 444.1 512.3 447.3 509.1 451.5 506.0 456.4 503.0 461.8 500.5 467.3 498.0 473.7 496.0 479.8 494.3 486.0 492.9 492.8 491.9 499.0 491.2 505.6 491.0 511.8 491.2 517.6 491.8 522.5 492.9 527.2 494.3 531.2 496.1 534.5 498.2 537.0 500.6 538.7 503.3 539.5 506.1 539.5 509.1 538.6 512.2 536.9 515.3 534.5 518.7 531.1 521.7 527.2 524.9 522.3 527.7 517.3 530.5 511.4 532.8 505.5 535.1 498.9 536.9 492.1 538.3 485.8 539.4 479.0 540.1 472.8 540.3 466.5 540.1 460.9 539.5 455.4 538.5 450.9 537.1 446.9 535.4 443.6 533.3 441.1 531.0 439.4 528.3 438.5 525.4 438.4 522.4 439.3 519.2 441.0 515.9 443.5 512.9 446.6 509.7 450.7 506.5 455.4 503.6 460.8 501.0 466.2 498.5 472.5 496.4 478.6 494.7 484.8 493.1 491.6 492.1 497.8 491.3 504.4 491.0 510.7 491.2 516.6 491.7 521.6 492.7 526.4 494.0 530.6 495.7 534.0 497.8 536.6 500.2 538.4 502.8 539.4 504.3 539.6 505.8 539.5 508.8 538.7 511.9 537.1 515.0 534.8 518.3 531.4 521.4 527.6 524.6 522.8 527.4 517.8 530.2 511.9 532.6 506.1 534.9 499.5 536.8 492.8 538.2 486.4 539.3 479.6 540.0 473.4 540.3 467.0 540.2 461.5 539.6 455.9 538.6 451.3 537.3 447.3 535.6 443.9 533.6 441.3 531.2 439.5 528.6 438.5 525.7 438.4 522.7 439.1 519.5 440.8 516.3 443.2 513.0 446.5 509.8 450.6 506.6 455.3 503.6 460.7 501.1 466.1 498.5 472.4 496.5 478.4 494.7 484.6 493.1 491.4 492.1 497.7 491.3 504.3 491.0 510.6 491.2 516.5 491.7 521.5 492.6 526.3 494.0 530.5 495.7 533.9 497.8 536.6 500.1 538.4 502.7 539.4 504.2 539.6 505.7 539.5 508.7 538.8 511.8 537.2 514.9 534.8 518.3 531.5 521.3 527.7 524.5 522.9 527.4 517.9 530.2 512.1 532.6 506.3 534.8 499.7 536.7 492.9 538.2 486.6 539.3 479.8 540.0 473.6 540.3 467.2 540.2 461.6 539.6 456.0 538.7 451.4 537.3 447.4 535.6 444.0 533.6 441.4 531.3 439.6 528.7 438.5 525.8 438.4 522.8 439.1 519.6 440.7 516.3 443.2 513.1 446.4 509.8 450.5 506.7 455.2 503.7 460.5 501.1 465.9 498.6 472.2 496.5 478.3 494.7 484.5 493.2 491.3 492.1 497.5 491.4 504.1 491.0 510.4 491.2 516.3 491.7 521.3 492.6 526.2 493.9 530.4 495.7 533.8 497.7 536.5 500.0 538.4 502.6 539.4 504.1 539.6 505.7 539.5 508.6 538.8 511.7 537.2 514.8 534.9 518.2 531.6 521.3 527.8 524.5 523.0 527.3 518.1 530.1 512.2 532.5 506.4 534.8 499.8 536.7 493.1 538.1 486.7 539.3 479.9 540.0 473.7 540.3 467.3 540.2 461.7 539.6 456.1 538.7 451.5 537.4 447.5 535.7 444.1 533.7 441.4 531.3 439.6 528.7 438.6 525.9 438.4 522.9 439.1 519.7 440.7 516.4 443.1 513.2 446.3 509.9 450.3 506.8 455.1 503.8 460.4 501.2 465.8 498.6 472.0 496.6 478.1 494.8 484.3 493.2 491.1 492.1 497.4 491.4 504.0 491.0 510.3 491.2 516.2 491.6 521.2 492.6 526.1 493.9 530.3 495.6 533.8 497.6 536.5 500.0 538.3 502.6 539.4 504.1 539.6 505.6 539.5 508.6 538.8 511.6 537.3 514.7 535.0 518.1 531.7 521.2 527.9 524.4 523.2 527.2 518.2 530.0 512.4 532.4 506.5 534.7 500.0 536.7 493.2 538.1 486.9 539.3 480.1 540.0 473.9 540.3 467.5 540.2 461.9 539.6 456.3 538.7 451.6 537.4 447.6 535.7 444.2 533.7 441.5 531.4 439.6 528.8 438.6 526.0 438.4 522.9 439.1 519.8 440.6 516.5 443.0 513.2 446.2 510.0 450.2 506.8 454.9 503.8 460.3 501.2 465.7 498.7 471.9 496.6 477.9 494.8 484.1 493.2 490.9 492.2 497.2 491.4 503.8 491.0 510.1 491.1 516.1 491.6 521.1 492.5 526.0 493.9 530.2 495.6 533.7 497.6 536.4 499.9 538.3 502.5 539.3 504.0 539.6 505.5 539.5 508.5 538.8 511.6 537.3 514.7 535.0 518.0 531.7 521.1 528.0 524.3 523.3 527.1 518.3 530.0 512.5 532.4 506.7 534.7 500.1 536.6 493.4 538.1 487.0 539.3 480.2 540.0 474.0 540.3 467.6 540.2 462.0 539.6 456.4 538.7 451.7 537.4 447.6 535.8 444.2 533.8 441.6 531.5 439.7 528.9 438.6 526.0 438.4 523.0 439.0 519.8 440.6 516.6 442.9 513.3 446.2 510.1 450.1 506.9 454.8 503.9 460.1 501.3 465.5 498.8 471.7 496.7 477.8 494.9 484.0 493.3 490.8 492.2 497.0 491.4 503.6 491.0 510.0 491.1 515.9 491.6 521.0 492.5 525.9 493.8 530.1 495.5 533.6 497.5 536.3 499.9 538.3 502.4 539.3 503.9 539.6 505.5 539.5 508.4 538.9 511.5 537.4 514.6 535.1 518.0 531.8 521.0 528.1 524.2 523.4 527.1 518.4 529.9 512.6 532.3 506.8 534.6 500.3 536.6 493.5 538.0 487.2 539.2 480.4 539.9 474.2 540.3 467.8 540.2 462.1 539.7 456.5 538.8 451.8 537.5 447.7 535.8 444.3 533.8 441.6 531.5 439.7 528.9 438.6 526.1 438.4 523.1 439.0 519.9 440.5 516.7 442.9 513.4 446.1 510.1 450.0 507.0 454.7 504.0 460.0 501.4 465.4 498.8 471.6 496.7 477.6 494.9 483.8 493.3 490.6 492.2 496.9 491.4 503.5 491.0 509.8 491.1 515.8 491.6 520.8 492.5 525.8 493.8 530.0 495.5 533.5 497.5 536.3 499.8 538.2 502.4 539.3 503.9 539.6 505.4 539.5 508.3 538.9 511.4 537.4 514.5 535.2 517.9 531.9 521.0 528.2 524.2 523.5 527.0 518.6 529.9 512.8 532.3 507.0 534.6 500.4 536.5 493.7 538.0 487.4 539.2 480.5 539.9 474.3 540.3 467.9 540.2 462.3 539.7 456.6 538.8 451.9 537.5 447.8 535.9 444.4 533.9 441.7 531.6 439.7 529.0 438.6 526.2 438.4 523.2 439.0 520.0 440.5 516.8 442.8 513.5 446.0 510.2 449.9 507.1 454.6 504.0 459.9 501.4 465.2 498.9 471.4 496.8 477.4 495.0 483.6 493.4 490.4 492.2 496.7 491.4 503.3 491.1 509.7 491.1 515.6 491.6 520.7 492.5 525.6 493.8 529.9 495.4 533.5 497.4 536.2 499.7 538.2 502.3 539.3 503.8 539.5 505.3 539.5 508.3 538.9 511.3 537.5 514.4 535.2 517.8 532.0 520.9 528.3 524.1 523.6 526.9 518.7 529.8 512.9 532.2 507.1 534.5 500.6 536.5 493.9 538.0 487.5 539.2 480.7 539.9 474.5 540.3 468.0 540.2 462.4 539.7 456.8 538.8 452.0 537.5 447.9 535.9 444.5 533.9 441.7 531.6 439.8 529.1 438.6 526.2 438.4 523.2 439.0 520.1 440.4 516.8 442.7 513.6 445.9 510.3 449.8 507.1 454.5 504.1 459.7 501.5 465.1 498.9 471.3 496.8 477.3 495.0 483.5 493.4 490.3 492.3 496.5 491.4 503.2 491.1 509.5 491.1 515.5 491.6 520.6 492.4 525.5 493.7 529.8 495.4 533.4 497.4 536.2 499.7 538.1 502.2 539.3 503.7 539.5 505.2 539.6 508.2 538.9 511.2 537.5 514.4 535.3 517.7 532.1 520.8 528.4 524.0 523.7 526.9 518.8 529.7 513.0 532.2 507.3 534.5 500.7 536.5 494.0 537.9 487.7 539.2 480.8 539.9 474.6 540.3 468.2 540.2 462.5 539.7 456.9 538.8 452.2 537.6 448.0 536.0 444.5 534.0 441.8 531.7 439.8 529.1 438.7 526.3 438.4 523.3 438.9 520.2 440.4 516.9 442.7 513.6 445.8 510.4 449.7 507.2 454.3 504.2 459.6 501.6 464.9 499.0 471.1 496.9 477.1 495.0 483.3 493.4 490.1 492.3 496.4 491.5 503.0 491.1 509.4 491.1 515.4 491.5 520.4 492.4 525.4 493.7 529.7 495.3 533.3 497.3 536.1 499.6 538.1 502.2 539.3 504.9 539.6 507.9 539.0 510.9 537.7 514.0 535.6 517.4 532.4 520.5 528.8 523.7 524.2 526.6 519.3 529.5 513.6 531.9 507.9 534.3 501.4 536.3 494.7 537.8 488.3" stroke="#9467bd"/></g><path d="M410.85 233.30v5.4M495.21 233.30v5.4M579.57 233.30v5.4M400.30 231.85h-3.1M400.30 224.44h-3.1M400.30 218.68h-3.1M400.30 213.98h-3.1M400.30 210.01h-3.1M400.30 206.56h-3.1M400.30 203.53h-3.1M400.30 200.81h-5.4M400.30 182.94h-3.1M400.30 172.48h-3.1M400.30 165.07h-3.1M400.30 159.31h-3.1M400.30 154.61h-3.1M400.30 150.64h-3.1M400.30 147.19h-3.1M400.30 144.16h-3.1M400.30 141.44h-5.4M400.30 123.57h-3.1M400.30 113.11h-3.1M400.30 105.70h-3.1M400.30 99.94h-3.1M400.30 95.24h-3.1M400.30 91.27h-3.1M400.30 87.82h-3.1M400.30 84.79h-3.1M400.30 82.07h-5.4M400.30 64.20h-3.1M400.30 53.74h-3.1M400.30 46.33h-3.1M400.30 40.57h-3.1M400.30 35.87h-3.1M400.30 31.90h-3.1M400.30 28.45h-3.1M400.30 25.42h-3.1M400.30 22.70h-5.4" stroke="#000" stroke-width="1.23" fill="none"/><rect x="400.3" y="20.1" width="232.00" height="213.20" fill="none" stroke="#000" stroke-width="1.23" stroke-linejoin="miter"/><circle cx="410.85" cy="29.81" r="4.7" fill="#000"/><circle cx="453.03" cy="93.58" r="4.7" fill="#000"/><circle cx="495.21" cy="118.02" r="4.7" fill="#000"/><circle cx="537.39" cy="223.61" r="4.7" fill="#000"/><circle cx="579.57" cy="223.49" r="4.7" fill="#000"/><circle cx="621.75" cy="221.98" r="4.7" fill="#000"/><clipPath id="cb"><rect x="400.3" y="20.1" width="232.00" height="213.20"/></clipPath><circle cx="537.2" cy="222.2" r="14.2" fill="none" stroke="#008000" stroke-width="1.6" clip-path="url(#cb)"/><g font-family="Liberation Serif" fill="#000" stroke="#000" stroke-width="0.12" style="opacity:0.999"><text x="4.69" y="19.80" font-size="18.5">(<tspan font-style="italic">a</tspan><tspan dx="1.2">)</tspan></text><text x="74.70" y="22.00" font-size="18.5">measurement data</text><text x="329.09" y="19.50" font-size="18.5">(<tspan font-style="italic">b</tspan><tspan>)</tspan></text><text x="49.17" y="238.80" font-size="18.5">0</text><text x="76.99" y="249.80" font-size="18.5">0.2</text><text x="114.23" y="260.00" font-size="18.5">0.4</text><text transform="translate(68.00,268.60) skewX(-24) scale(1.22,0.86) translate(0.02,0)" font-size="18.5" font-style="italic">μ</text><text x="208.82" y="246.60" font-size="18.5">0</text><text x="232.87" y="218.00" font-size="18.5">1</text><text x="253.98" y="200.20" font-size="18.5">2</text><text x="254.42" y="236.20" font-size="18.5" font-style="italic">x</text><text x="267.55" y="108.80" font-size="18.5">0.5</text><text x="268.23" y="140.10" font-size="18.5">0</text><text x="267.84" y="165.80" font-size="18.5">–0.5</text><text x="311.86" y="125.90" font-size="18.5" font-style="italic">y</text><text x="358.07" y="28.50" font-size="18.5">10<tspan font-size="11" dy="-6.0">–1</tspan></text><text x="358.07" y="87.87" font-size="18.5">10<tspan font-size="11" dy="-6.0">–2</tspan></text><text x="358.07" y="147.24" font-size="18.5">10<tspan font-size="11" dy="-6.0">–3</tspan></text><text x="358.07" y="206.61" font-size="18.5">10<tspan font-size="11" dy="-6.0">–4</tspan></text><text transform="translate(343.4,124.9) rotate(-90)" text-anchor="middle" font-size="18.5">loss</text><text x="406.18" y="257.10" font-size="18.5">0</text><text x="490.68" y="257.10" font-size="18.5">2</text><text x="574.84" y="257.10" font-size="18.5">4</text><text x="433.39" y="275.70" font-size="18.5">degree of polynomials</text><text x="3.19" y="342.90" font-size="18.5">(<tspan font-style="italic">c</tspan><tspan>)</tspan></text><text x="81.66" y="343.20" font-size="18.5">truth simulation</text><text x="341.39" y="342.90" font-size="18.5">(<tspan font-style="italic">d</tspan><tspan dx="2.6">)</tspan></text><text x="415.98" y="344.60" font-size="18.5">RK-SINDy</text><text x="48.52" y="566.90" font-size="18.5">0</text><text x="82.65" y="577.10" font-size="18.5">0.5</text><text x="129.97" y="591.80" font-size="18.5">1.0</text><text transform="translate(67.60,595.90) skewX(-24) scale(1.22,0.86) translate(0.02,0)" font-size="18.5" font-style="italic">μ</text><text x="256.98" y="522.30" font-size="18.5">2</text><text x="236.97" y="546.80" font-size="18.5">1</text><text x="215.97" y="566.40" font-size="18.5">0</text><text x="194.02" y="586.50" font-size="18.5">–1</text><text x="253.72" y="572.10" font-size="18.5" font-style="italic">x</text><text x="266.18" y="415.30" font-size="18.5">1.0</text><text x="266.20" y="436.90" font-size="18.5">0.5</text><text x="266.12" y="457.70" font-size="18.5">0</text><text x="266.34" y="478.80" font-size="18.5">–0.5</text><text x="266.63" y="500.30" font-size="18.5">–1.0</text><text x="311.21" y="451.80" font-size="18.5" font-style="italic">y</text><text x="368.52" y="566.90" font-size="18.5">0</text><text x="402.65" y="577.10" font-size="18.5">0.5</text><text x="449.98" y="591.80" font-size="18.5">1.0</text><text transform="translate(387.60,595.90) skewX(-24) scale(1.22,0.86) translate(0.02,0)" font-size="18.5" font-style="italic">μ</text><text x="576.98" y="522.30" font-size="18.5">2</text><text x="556.97" y="546.80" font-size="18.5">1</text><text x="535.98" y="566.40" font-size="18.5">0</text><text x="514.02" y="586.50" font-size="18.5">–1</text><text x="573.72" y="572.10" font-size="18.5" font-style="italic">x</text><text x="586.18" y="415.30" font-size="18.5">1.0</text><text x="586.20" y="436.90" font-size="18.5">0.5</text><text x="586.12" y="457.70" font-size="18.5">0</text><text x="586.34" y="478.80" font-size="18.5">–0.5</text><text x="586.63" y="500.30" font-size="18.5">–1.0</text><text x="631.21" y="451.80" font-size="18.5" font-style="italic">y</text></g><rect x="1" y="1" width="649" height="288.7" rx="5.5" fill="none" stroke="#008000" stroke-width="2.2"/><rect x="1" y="322.5" width="649" height="288.5" rx="5.5" fill="none" stroke="#008000" stroke-width="2.2"/></svg></body></html>
